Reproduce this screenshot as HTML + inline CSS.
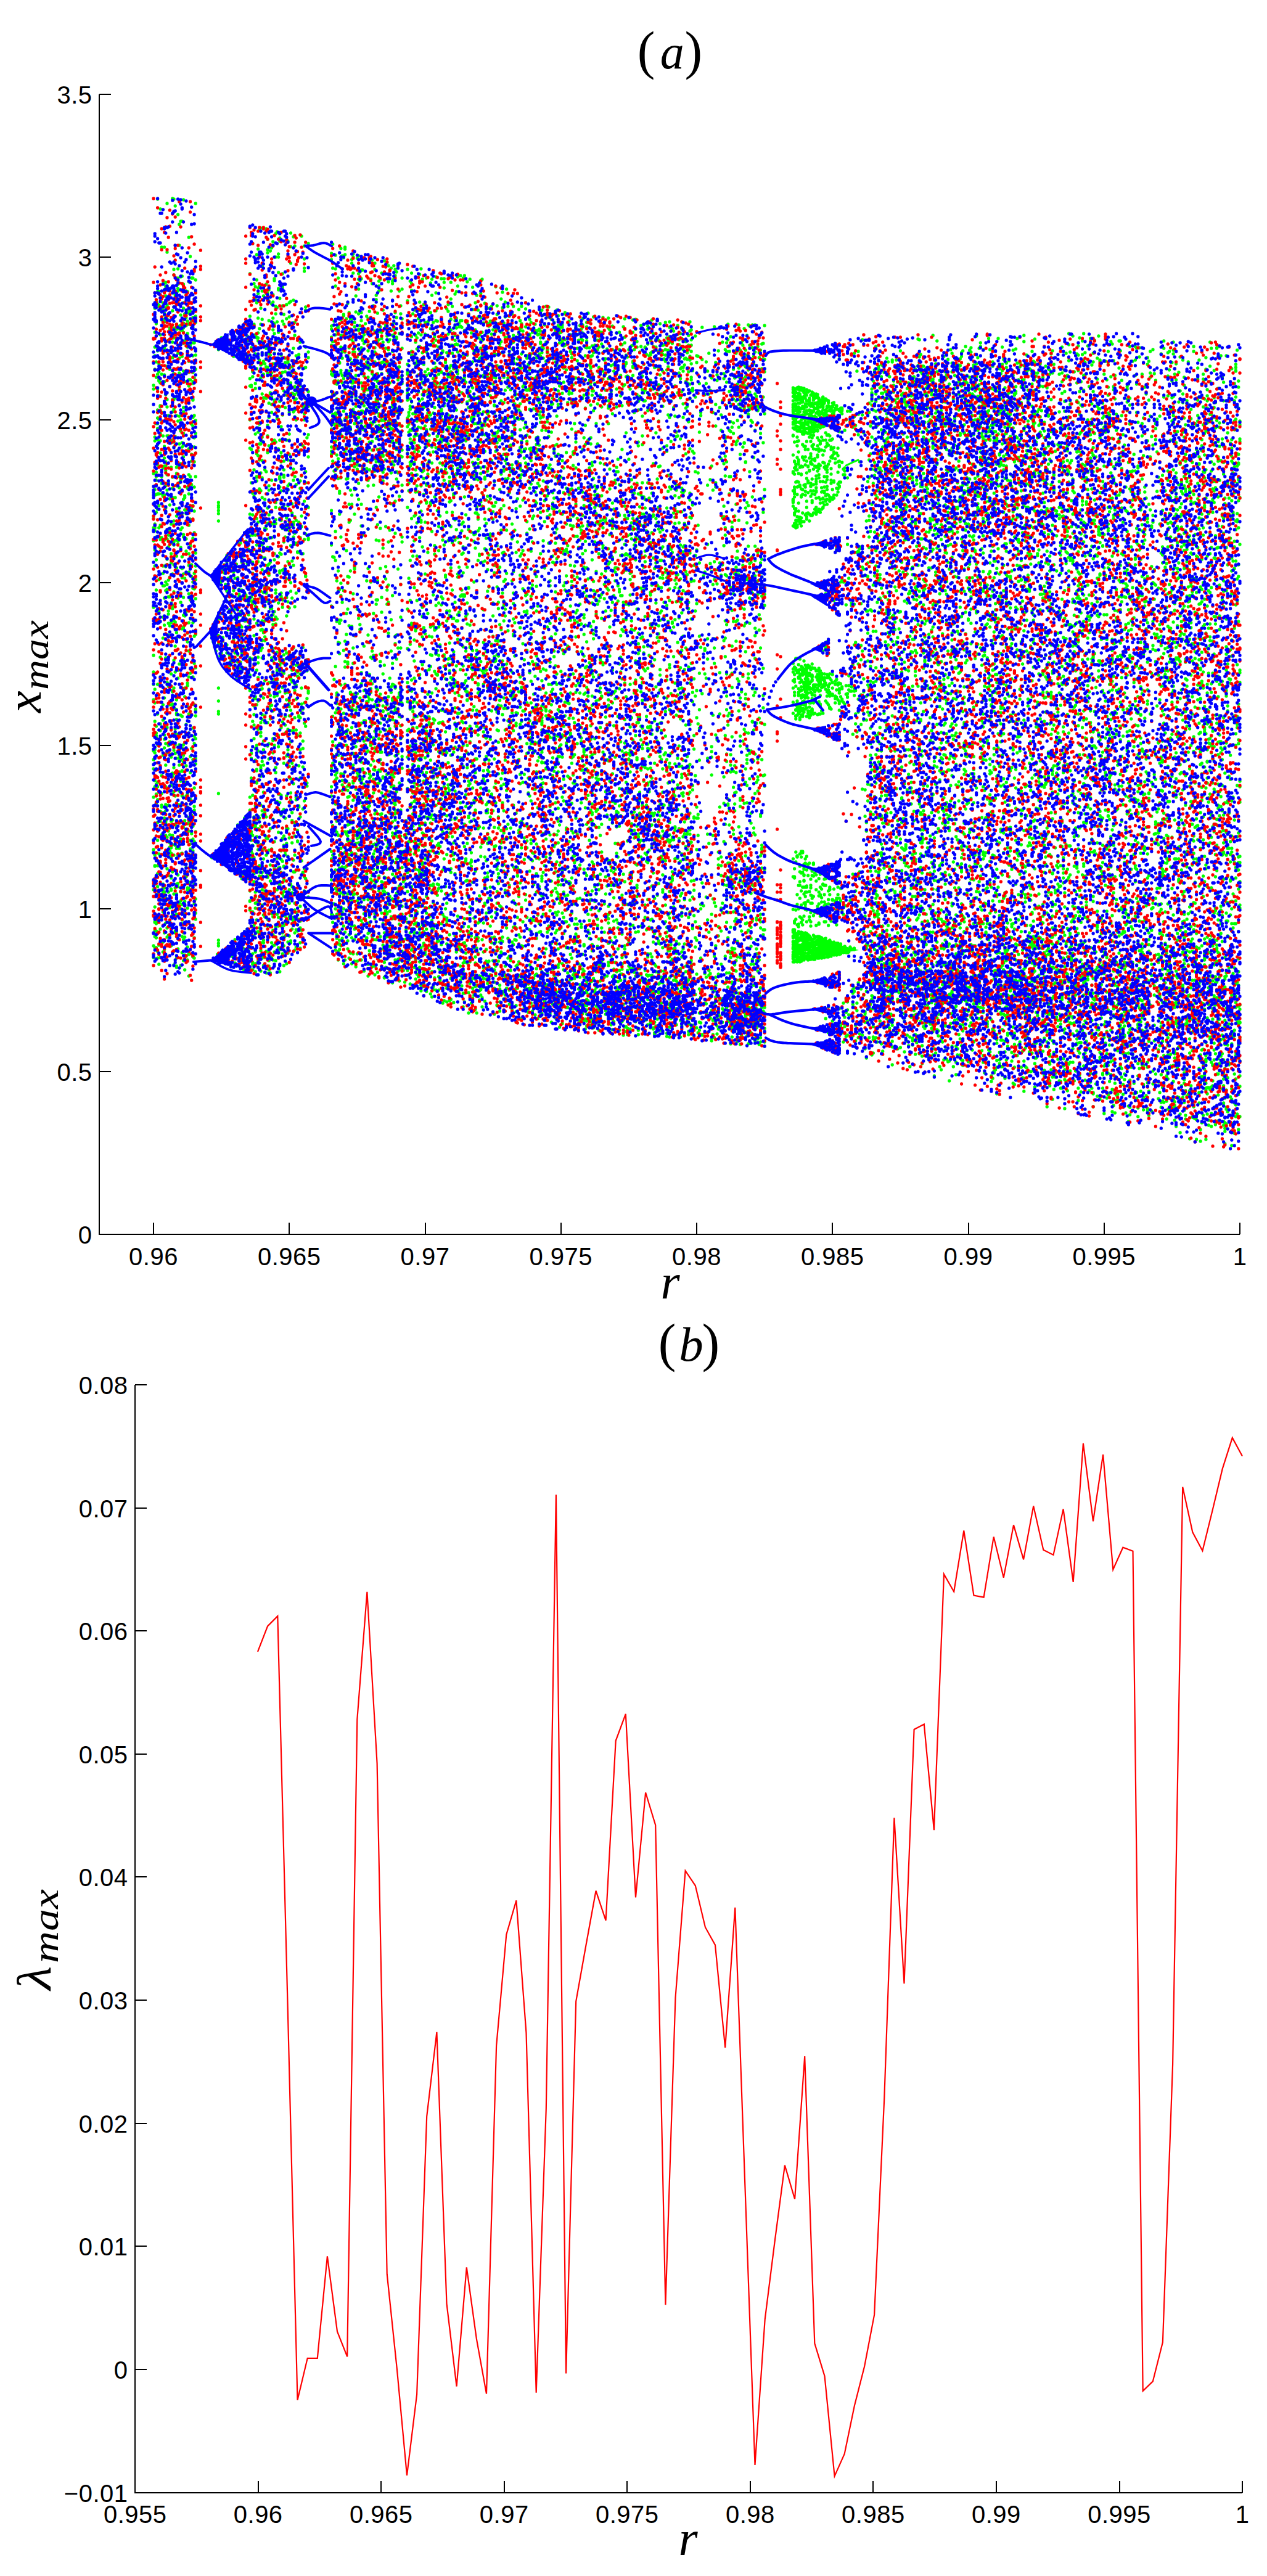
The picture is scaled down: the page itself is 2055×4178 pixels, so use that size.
<!DOCTYPE html>
<html><head><meta charset="utf-8"><title>Bifurcation diagram and maximal Lyapunov exponent</title>
<style>
html,body{margin:0;padding:0;background:#fff}
svg{display:block}
.t{font-family:"Liberation Sans",sans-serif;font-size:40px;letter-spacing:0.5px;fill:#000}
.m{font-family:"Liberation Serif",serif;font-size:86px;fill:#000}
.i{font-style:italic}
.ax{stroke:#000;stroke-width:2;fill:none;shape-rendering:crispEdges}
</style></head><body>
<svg width="2055" height="4178" viewBox="0 0 2055 4178">
<rect width="2055" height="4178" fill="#fff"/>
<defs><marker id="mr" markerWidth="6" markerHeight="6" refX="3" refY="3" markerUnits="userSpaceOnUse"><circle cx="3" cy="3" r="2.65" fill="#f00"/></marker><marker id="mg" markerWidth="6" markerHeight="6" refX="3" refY="3" markerUnits="userSpaceOnUse"><circle cx="3" cy="3" r="2.65" fill="#0f0"/></marker><marker id="mb" markerWidth="6" markerHeight="6" refX="3" refY="3" markerUnits="userSpaceOnUse"><circle cx="3" cy="3" r="2.65" fill="#00f"/></marker></defs>
<g fill="none" stroke="none">
<path d="M249 625v6v137v73v15v21v107v1v78v27v20v25v82v1v14v15v46v69v16v5v60v91v19M251.2 500v16v23v24v14v22v110v6v36v43v9v47v6v5v14v17v26v18v182v22v30v22v3v21v5v45v10v66v45v17v1v29v37v24v1v13v10v18M253.4 489v7v29v62v25v75v79v7v6v23v29v40v26v11v49v221v11v4v3v76v16v15v119v72v2v2v12v5v6v16v18M255.6 323v150v20v73v3v38v24v34v13v9v8v18v8v33v47v25v182v102v48v50v61v7v21v37v29v41v13v21v12v40v53v11M257.8 473v22v1v1v93v13v13v2v24v38v121v19v36v84v52v2v391v148v31M260 339v160v44v53v24v1v37v2v8v35v12v20v12v105v23v13v178v108v11v12v2v87v30v16v56v17v86v16v46M262.2 401v102v16v88v62v1v15v88v11v17v71v386v29v19v3v45v105v32v43M264.4 460v31v12v204v52v46v113v12v20v51v34v108v25v57v93v18v98v6v5v3v10v2v19v49v16M266.6 401v58v13v36v3v7v4v27v15v1v43v11v105v4v15v13v47v73v74v20v44v104v1v13v60v7v14v114v7v106v7v66v27M268.8 458v6v4v12v19v56v5v80v109v7v7v25v36v6v87v2v25v14v109v1v138v35v35v29v4v6v16v1v3v11v9v102v4v13v23M271 330v79v55v6v25v22v77v54v12v47v63v25v79v33v9v32v8v151v73v41v86v51v51v96v15M273.2 552v17v105v33v75v76v10v10v9v54v27v23v5v15v19v10v69v4v96v9v88v42v40v32v27v70M275.4 532v3v44v7v13v210v10v42v75v32v47v128v51v9v151v13v7v6v10v77v5v23v1v6v15M277.6 714v4v23v17v92v22v9v17v6v9v65v32v83v20v110v5v28v18v58v39v4v9v5v1v34v18v2v24v39v22v5M279.8 322v182v39v12v25v68v20v106v18v15v124v51v5v18v115v2v20v2v47v63v5v29v42v25v4v11v44v69v30v16v1M282 323v21v93v9v26v3v23v34v11v5v58v42v16v53v8v120v6v26v2v5v32v44v47v64v45v75v2v1v19v4v28v10v29v76v27v63v20v73v22M284.2 334v143v3v3v94v68v63v30v69v202v39v42v60v32v8v18v14v69v46v34v69v70v3M286.4 479v47v8v140v84v10v20v37v12v39v26v19v105v9v100v16v6v2v8v29v1v33v72v38v23v13v58v16v33v28v43v13v2M288.6 348v88v15v3v7v7v4v58v3v40v110v47v26v121v5v88v117v13v29v62v114v83v31v14v5v27v2v72M290.8 364v34v95v36v31v21v24v27v25v18v45v53v10v8v39v46v201v114v17v17v5v11v11v31v93v89v59M293.1 359v90v62v17v7v146v6v12v53v2v25v80v29v74v15v183v29v44v34v38v2v54v24v61v15v13v92M295.3 359v89v12v76v42v140v7v10v98v23v47v19v15v83v142v51v9v28v1v12v26v2v43v33v2v15v83v25v6v21v26M297.5 324v137v30v9v24v8v7v18v45v59v7v25v10v19v19v69v57v4v60v38v29v19v2v50v139v17v6v5v35v71v171v11v34M299.7 509v44v52v199v3v20v111v61v79v38v1v13v64v39v98v91v40v20v38v29v1v23M301.9 472v6v37v13v18v73v30v12v166v6v41v20v35v63v183v67v27v22v116v12v3v129M304.1 473v13v17v18v20v18v4v8v219v2v235v14v67v4v33v142v22v27v104v3v30v63v21M306.3 385v72v31v20v18v23v29v8v18v12v10v102v42v14v17v25v26v46v19v11v35v47v46v42v60v31v1v106v30v8v14v84v9v5v49v1v1v9v41v1v35M308.5 416v84v5v45v9v2v55v157v51v18v42v2v87v31v88v135v26v43v67v6v8v10v12v32v71M310.7 451v70v11v156v20v17v12v11v38v37v93v19v62v89v74v54v85v23v15v15v38v5M312.9 451v64v16v25v21v27v15v3v25v2v27v1v14v129v53v71v10v56v88v83v51v98v10v21v19v5v6v17v4v28v60v51v1M315.1 485v71v30v27v61v36v15v24v41v39v35v3v29v34v24v1v26v51v44v67v51v12v72v30v6v51v4v65v32v55v33M317.3 330v124v20v39v10v46v7v23v83v21v32v38v124v21v8v14v31v58v54v67v3v8v37v32v9v110v109v23v10M343.7 1034v357M345.9 1041v350M350.3 1049v7M352.5 1030v352v166M354.7 927v70v5v2v27v13M356.9 943v3v118M359.1 548v395v52v64v318v176M361.3 924v110v6v339v178M363.5 561v355v13v80v55v6v297M365.7 550v15v357v26v22v112M367.9 901v3v7v8v40v87v13v311M370.1 556v382v21v62v336v18v13v157M372.3 552v7v345v33v39v13v14v60v17v277M374.5 994v78v293M376.7 965v101v8v291v4v1v166v15M378.9 566v12v344v2v4v30v10v70v30v336v125M381.1 565v5v368v50v16v41v14v23v285v157v15v4v19M383.4 537v13v365v72v28v34v4v38v11M385.6 564v373v64v17v31v1v12v12v264v201M387.8 558v5v320v17v2v54v8v4v40v23v53v277v7v39v115v15M390 532v9v340v91v20v4v2v17v59v267v21v54M392.2 553v357v2v45v60v14v11v17v27v339v96v21M394.4 551v32v319v12v57v59v24v29v253v48v34v109v1v10v20v14M396.6 576v369v3v13v39v7v43v277v85v3v96v33v29M398.8 523v62v293v87v39v3v98v230v47M401 527v18v8v8v13v340v55v37v356v8v137M403.2 582v6v272v31v19v2v60v6v19v19v55v1v41v222v4v22v64v113v13M405.4 444v69v101v12v55v46v107v35v102v96v11v17v25v173v21v47v84v16v1v14v95M407.6 531v33v27v34v2v102v54v173v12v7v247v8v32v87v4v10v18v11v21v76v6v8v34v17M409.8 395v174v32v2v8v189v35v32v1v26v18v18v17v5v27v90v101v120v51v14v16v1v13v94v68v14v3v9M412 460v66v2v234v43v137v16v5v9v4v28v27v102v12v14v17v22v127v2v5v59v24v2v13v1v70v17M414.2 465v21v57v31v48v8v74v164v115v5v142v3v81v19v2v72v22v9v3v58v13v35v8v10v8v67v4v19v13M416.4 413v41v37v56v1v18v32v45v93v37v1v6v61v43v59v7v61v76v56v66v39v2v18v2v87v10v78v19v28v20M418.6 404v63v9v40v24v8v5v23v118v7v30v8v58v50v64v78v60v17v9v24v38v46v35v106v5v15v22v12v87v9v37v48v10M420.8 373v91v69v24v27v2v43v56v3v32v26v24v23v5v32v115v235v123v24v77v10v7v84v8v38M423 500v26v64v2v21v96v5v6v47v29v88v75v9v1v53v33v63v10v44v16v6v48v4v13v47v34v30v144v15v13v33M425.2 370v62v40v46v36v20v16v19v30v70v7v31v28v32v76v11v10v20v51v32v14v17v1v12v16v44v6v42v8v68v80v7v31v52v10v6v3v19v14v11v86M427.4 480v106v21v38v5v226v85v62v3v106v70v14v25v44v24v12v29v27v16v16v29v12v5v29v41v4v21v16M429.6 590v32v140v48v24v23v48v2v44v8v25v23v26v6v65v57v8v3v141v5v3v124v42v66M431.8 371v90v15v89v10v20v1v48v2v119v93v103v1v13v274v22v54v32v2v28v156v35M434 388v17v5v65v121v9v85v17v27v90v25v39v29v28v8v1v21v197v38v150v23v35v5v27v41v11M436.2 470v18v32v53v81v23v46v65v7v40v13v25v42v10v8v68v106v11v88v25v148v165v2v12v9v6M438.4 407v150v2v17v16v9v36v2v210v63v75v120v21v8v9v5v16v117v41v20v59v26v123v26M440.6 402v91v112v6v33v12v13v52v58v70v23v115v16v48v16v77v233v40v65v47v25M442.8 392v86v12v26v7v12v55v8v118v1v133v147v9v7v39v5v15v21v9v51v45v3v20v108v158v22v7v18v23M445 452v3v70v16v32v17v59v4v61v184v10v11v56v17v138v79v156v44v37v21v52v14v11M447.2 379v38v80v12v101v60v47v62v36v8v20v6v94v14v5v39v11v180v53v8v248v3v16v38M449.4 376v123v23v87v70v325v54v26v4v15v11v10v4v172v92v51v40M451.6 412v5v25v26v2v69v13v38v3v87v48v175v75v215v12v6v77v24v38v58v80v10v4v35v8v1M453.8 386v5v93v70v37v22v38v9v54v59v2v2v13v34v17v56v29v3v137v6v7v9v34v36v130v14v105v27v2v1v63v40v36M456 389v186v1v30v86v42v6v9v47v16v32v55v63v5v2v2v104v105v110v32v58v14v21v87v38M458.2 444v19v3v30v25v83v69v68v113v3v68v47v1v12v103v1v26v56v145v44v1v36v53v63v7v27v4M460.4 510v16v21v87v114v14v9v3v46v59v44v139v8v6v16v146v75v43v15v6v28v1v21v2v17v8v47v33v32M462.6 581v7v7v8v58v210v183v70v38v14v13v138v54v5v100v10v22v26M464.8 494v23v124v73v126v15v4v80v30v30v60v76v91v65v52v25v31v118v46M467 391v194v3v32v13v113v42v7v25v91v65v147v60v33v7v14v107v45v60v10v33v36v18M469.2 491v23v10v68v6v27v44v35v10v23v48v61v15v55v17v53v72v5v33v44v6v15v66v16v18v63v35v84v13v9v22v31M471.5 378v22v27v62v132v132v132v60v14v110v31v2v50v33v18v60v23v12v136v50v42v3M473.7 595v10v33v179v15v22v56v60v83v10v18v6v16v3v132v80v13v36v71v10v1v39v3v16M475.9 384v103v37v41v74v29v78v15v18v68v2v2v20v46v134v134v59v6v21v124v19v28v52v1M478.1 399v124v21v60v23v1v12v9v16v11v97v65v27v119v83v42v5v6v44v170v22v31v27v51v11v15v5v17v28M480.3 577v44v13v13v34v105v29v29v37v2v79v117v9v23v23v50v109v4v40v143v10v18v28M482.5 582v37v18v258v1v194v7v96v101v53v17v1v46v24v75M484.7 575v42v24v206v232v2v18v62v2v79v65v2v182M486.9 555v40v21v10v8v9v87v50v12v65v15v25v163v19v14v71v25v27v46v63v65v63v17v24v11v24v9M489.1 383v389v24v41v17v210v52v26v6v8v217v23v23v90M491.3 660v63v175v152v31v69v52v12v30v68v103v1M493.5 399v21v15v5v157v61v5v8v10v132v62v265v33v126v110v13v23M495.7 498v5v60v33v51v118v18v83v68v1v243v247v49M497.9 710v111v249v7v11v28v17v137v5v172M500.1 395v176v9v55v16v1v7v46v36v82v50v2v246v3v331M537.5 411v10v108v5v13v4v9v42v5v39v42v8v29v7v5v91v56v99v263v30v15v90v12v19v8v7v19v37M539.7 396v39v93v26v55v27v1v2v25v8v8v21v1v14v32v155v259v10v31v22v4v9v101v48v29v50v18v12M541.9 521v85v12v70v29v47v140v198v199v45v120M544.1 414v22v28v79v11v7v45v12v4v17v31v4v16v3v23v54v3v89v47v172v75v54v47v8v39v43v64v30v33v15v46v6M546.3 532v5v86v24v5v19v8v9v39v11v22v182v66v116v4v13v10v62v10v27v3v9v58v12v18v14v77v5v1v36v33v6M548.5 451v77v4v86v47v47v32v32v150v33v83v106v1v23v12v41v129v1v60v18v49v2v47v12v14M550.7 588v1v81v9v11v16v2v89v3v34v122v50v5v32v17v119v27v31v150v7v6v8v13v30v59v15v6v9M552.9 403v14v102v25v19v38v4v13v42v22v3v20v70v96v75v20v40v105v39v39v53v13v121v8v26v38v23v3v13v47M555.1 415v153v3v10v28v12v33v42v41v240v190v10v50v39v7v9v103v21v74v42M557.4 418v92v2v32v20v50v53v73v218v97v83v19v41v57v25v171v12v11v9v19v61M559.6 401v3v9v131v27v60v25v23v10v21v23v307v33v9v28v77v91v47v24v23v10v1v24v105v45M561.8 517v18v43v78v23v10v14v20v2v3v49v116v102v34v161v19v58v86v26v26v71M564 492v85v34v29v36v100v159v11v42v86v3v107v91v7v11v12v33v11v7v6v2v22v6v58v76v13M566.2 507v39v18v38v6v68v22v120v29v89v79v130v126v21v45v49v9v8v59v10v5v17v22v38M568.4 517v20v45v61v50v4v7v25v10v8v8v40v49v82v197v2v63v37v52v37v17v16v17v3v33v1v2v68v8v67v10M570.6 421v6v90v34v37v28v5v7v13v25v6v72v59v15v198v120v12v14v18v64v91v13v1v34v4v8v64v43v19v42M572.8 412v5v26v112v16v2v45v3v43v2v7v74v216v88v25v50v7v7v11v55v16v1v18v6v6v14v3v28v138v9v6v96M575 523v7v13v22v6v21v43v35v17v33v12v12v13v37v40v86v3v108v98v4v117v43v54v8v70v25v52v5v17v35M577.2 480v26v79v3v21v36v3v11v70v410v13v7v52v13v39v17v12v76v17v3v35v11v72v11v51M579.4 419v160v11v88v8v36v32v7v227v137v22v55v23v29v6v89v11v16v25v10v1v38v11v86v12M581.6 415v29v9v16v40v25v2v61v71v9v19v1v20v11v26v30v26v193v174v79v91v20v55v34M583.8 441v14v49v24v41v100v43v33v268v8v111v13v38v15v31v37v34v2v42v10v4v18v1v24v30v38v2M586 438v14v55v13v44v20v9v8v20v26v6v14v19v5v53v74v35v238v18v64v63v25v6v63v50v15v59v2v37v64M588.2 438v92v17v4v1v76v3v36v26v3v34v3v5v22v108v279v51v13v36v2v14v45v79v7v32v72v5M590.4 538v1v4v14v53v18v8v7v9v6v11v10v18v351v72v49v23v10v36v34v17v22v32v49v5v6v5v51v12v11v93M592.6 525v10v111v37v8v74v364v40v39v46v119v66v52v34v7v3M594.8 513v74v5v2v2v36v31v97v182v196v8v51v23v14v53v7v6v3v35v79v32v29v43v1M597 517v24v19v9v29v14v20v9v87v19v1v31v9v70v64v75v33v12v88v8v80v51v40v4v34v63v26v5v18v38v17v50v19M599.2 505v37v51v4v3v29v88v45v332v40v46v19v56v7v45v101v46v30v3v10v15v30v6M601.4 453v130v103v258v23v99v38v13v6v48v35v3v32v18v35v72v1v59v6v132M603.6 422v38v73v69v3v1v64v18v17v11v14v36v290v12v41v26v40v125v57v63v9v13v20v57v49M605.8 496v59v54v87v2v59v7v23v208v68v134v4v33v14v16v22v46v38v15v5v20v49v53v2v10v26M608 427v10v100v27v7v16v5v24v39v15v13v1v16v44v18v2v379v30v13v27v6v30v16v6v49v39v10v11v49v5v22v26v5v3v76v1v14M610.2 479v7v89v52v20v3v10v31v20v38v74v53v97v7v136v31v169v58v28v54v14v12v42M612.4 508v47v51v12v1v13v17v3v12v29v36v122v91v31v146v31v84v22v15v94v5v40v18v30v119M614.6 456v8v8v66v13v31v52v37v4v15v10v31v16v1v1v57v71v261v60v51v15v6v130v21v24v112M616.8 453v70v7v60v47v91v11v15v8v95v65v139v12v7v46v6v41v14v29v4v12v19v14v56v23v47v3v2v123M619 443v96v10v12v27v18v52v23v1v17v48v7v1v214v24v172v43v12v19v47v34v14v96v7v13v31M621.2 503v52v32v30v86v35v2v26v14v109v204v42v10v8v1v106v2v17v121v45v13v40v35v6M623.4 423v199v53v2v5v79v318v86v169v49v25v15v9v8v6v4v22v9v32v7v41v24v1M625.6 527v3v35v19v1v5v86v17v53v108v65v20v245v108v2v29v39v62v53v2v7v34v36v13v1M627.8 426v97v5v17v143v46v4v190v29v23v163v8v56v5v44v45v36v9v2v1v25v36v39v31v2v37v24v5M630 431v26v95v2v13v7v15v12v3v8v3v68v196v70v28v3v47v103v28v9v57v145v63v23v11M632.2 551v58v3v9v26v21v13v8v1v6v42v122v240v82v41v61v28v7v66v4v39v26v6v7v11v22v35v11v5v24v17M634.4 435v37v118v55v41v9v22v19v31v50v188v51v58v9v32v96v6v12v7v43v168v36v5M636.6 456v4v84v26v17v62v7v4v12v13v11v19v34v217v110v34v23v3v19v12v85v4v39v28v10v18v5v39v23v25v15v2v30v29v15v60M638.8 431v22v71v8v3v8v8v86v15v72v2v28v34v2v321v25v59v55v10v15v28v71v4v34M641 437v10v60v131v10v15v6v144v52v167v12v69v3v25v7v4v17v9v48v74v5v9v5v1v10v11v12v46v23v48v19v68M643.2 441v74v32v2v88v10v16v23v31v9v3v36v12v253v39v67v71v77v64v8v10v27v5v43v8v10v54v16M645.5 434v162v20v53v19v22v38v19v156v128v80v91v77v59v34v17v1v13v38v27v30v10v6v22v6v13M647.7 472v69v54v73v34v7v2v4v2v88v319v2v36v108v87v80v48v4v10v56v18v18M649.9 496v13v73v30v39v17v23v37v12v208v53v50v67v14v5v1v25v14v21v116v42v25v82v65M652.1 451v18v48v48v45v12v13v1v94v11v46v84v8v262v54v32v19v140v21v63v13v60v16v12M654.3 1381v41v8v9v85v50M656.5 1357v64v6v33v86v47M658.7 1331v22v5v20v28v62v22v18v15v26M660.9 437v51v37v66v13v3v17v7v7v11v29v14v43v88v165v64v55v31v47v18v25v51v88v42v6v7v24v50v59v7v12v8M663.1 669v5v14v13v83v12v142v182v63v35v31v1v16v99v30v158v4M665.3 456v67v124v12v4v1v33v15v6v8v15v9v5v1v153v65v60v11v105v60v100v32v23v16v92v12v11v17v13v4v66M667.5 443v17v11v75v24v6v76v46v70v73v170v2v90v18v148v13v21v6v45v84v5v9v89v11v10M669.7 509v94v31v37v45v36v24v126v237v9v6v26v38v22v9v37v34v20v116v50v32v12M671.9 503v74v56v59v16v10v15v17v87v40v76v85v34v28v36v27v107v6v24v47v18v11v9v19v85v10v10v5v30v25M674.1 544v11v37v75v4v57v34v36v37v185v3v184v14v31v31v14v69v44v12v59v17v55v2v4v29M676.3 529v19v18v20v3v3v31v60v21v2v64v18v60v54v72v166v22v18v79v25v86v90v19v18v24v52v7M678.5 517v23v51v17v28v57v30v9v66v140v78v79v123v14v11v31v25v75v5v32v13v35v12v113M680.7 445v45v13v20v39v61v3v2v22v29v30v2v2v13v90v23v33v176v46v6v133v33v58v15v30v45v1v4v9v76v9v3v8v36v9v8M682.9 436v107v65v6v65v15v18v76v41v15v3v14v314v2v51v53v142v114v61v9M685.1 453v52v1v66v48v20v7v14v23v51v18v12v122v98v15v33v45v43v67v65v84v14v40v8v3v14v3v24v24v33v18M687.3 494v71v26v30v2v10v23v1v4v102v13v26v216v1v142v24v19v14v28v21v26v11v1v8v40v19v35v8v5v40v1v35v6v9v19v4v42v1v5v14v4M689.5 523v3v16v22v39v88v12v144v84v97v138v14v49v14v25v39v6v12v10v22v14v22v14v19v46v68v4v4v15v23M691.7 451v120v38v72v16v3v24v61v2v27v2v163v109v98v5v5v3v20v34v9v6v19v100v41v26v27v26v10v1v82v8M693.9 522v2v75v34v7v16v9v5v5v3v41v33v17v127v99v131v37v59v49v13v12v30v63v2v146v38v3M696.1 580v26v25v9v4v25v10v1v26v9v19v13v165v3v117v54v54v23v9v3v105v101v91v15M698.3 459v48v26v27v113v23v92v27v4v198v45v19v95v22v19v16v12v81v9v23v10v68v62v17v5v3v3v35v2v49M700.5 453v26v176v31v39v26v111v171v30v61v125v59v14v42v16v65v40v8v12v1v32v38v41M702.7 440v83v17v16v43v15v7v1v12v5v31v63v232v50v151v7v35v45v9v39v28v105v3v27v43v28v10v18v37v5M704.9 546v43v72v10v23v4v15v93v79v14v120v3v67v79v154v61v165v38M707.1 449v26v29v16v32v9v35v14v9v5v75v15v12v221v35v37v1v40v1v32v24v85v45v48v11v194v106M709.3 521v163v23v1v19v34v18v15v34v227v39v1v165v9v18v84v39v24v11v7v75M711.5 563v17v27v21v19v120v61v26v39v54v31v39v46v110v46v63v17v69v3v13v51v6v85v33v11v14v22M713.7 576v46v17v75v37v61v3v22v176v33v126v35v39v127v145v55v15v2M715.9 452v95v56v1v60v3v8v36v3v3v12v33v25v11v170v13v171v87v57v14v14v121v53v25v9v22v14M718.1 569v2v75v3v32v18v1v9v2v43v101v21v95v200v2v44v3v3v66v60v62v72v85v9v18v9v23M720.3 452v6v9v127v30v4v30v32v78v11v105v178v4v15v72v104v19v36v9v21v18v33v94v87v2v47M722.5 585v3v42v5v108v11v7v141v31v3v145v20v86v31v66v4v121v29v12v24v87v19v18M724.7 501v71v35v20v22v23v44v51v64v160v16v197v17v43v32v27v63v79v24v4v5v33v72v22M726.9 494v11v37v35v34v62v11v9v2v25v31v126v192v8v160v36v5v8v58v13M729.1 597v8v17v8v9v55v37v26v1v16v7v4v29v177v7v45v25v10v10v20v174v22v5v42v165v64v43M731.3 458v27v33v17v25v33v10v9v33v36v58v7v66v42v67v178v126v96v8v16v64v6v35v82v55v34M733.5 497v63v13v71v13v77v22v5v28v42v49v77v46v72v25v2v49v63v54v6v25v58v25v5M735.8 540v58v13v10v30v53v2v64v3v28v3v199v54v57v106v38v38v71v19v8v171v61M738 477v43v9v15v8v7v53v5v5v22v53v14v20v112v33v101v48v64v15v4v5v11v24v25v39v1v70v7v39v88v28v73v82M740.2 473v43v16v26v36v50v5v16v23v6v9v19v46v2v89v148v73v29v74v73v7v64v211v6v38M742.4 449v15v95v12v30v5v26v63v17v1v47v28v84v59v5v61v10v30v72v48v187v142v91M744.6 524v6v171v53v126v40v13v60v50v72v13v29v57v58v41v81v14v99v19v6v3v4v67v5M746.8 447v73v9v154v26v8v10v17v223v119v143v73v15v193v29v2v26v23v3M749 520v11v84v22v15v43v14v7v44v90v11v38v58v8v205v230v177v8v14M751.2 451v125v24v88v46v24v29v60v40v10v32v36v2v82v31v92v37v20v14v260v27v32v13v36v22M753.4 447v89v1v65v10v5v95v94v159v2v141v152v77v36v26v91v39v27v5v24v26v14M755.6 620v65v13v3v14v37v39v2v42v165v56v38v10v12v5v42v118v8v19v85v3v33v105v12M757.8 457v67v52v76v50v63v108v47v58v18v16v28v25v57v2v11v1v46v27v12v24v123v60v24v27v83M760 509v21v65v39v9v18v47v151v50v44v1v173v140v7v50v2v28v102v47v8v2v97v33M762.2 453v182v14v74v8v283v31v5v18v110v25v68v62v19v48v59v12v12v77v28v7v41M764.4 540v77v44v17v4v89v17v21v54v145v70v6v49v56v5v112v77v12v3v7v113v71v38M766.6 466v36v20v65v42v47v7v67v22v283v31v9v7v50v86v40v153v150v6v16v16M768.8 560v9v51v24v31v12v68v16v96v11v66v202v40v24v88v31v160v49v38v32v1v5M771 491v44v1v25v10v193v13v55v34v23v110v67v19v10v136v22v15v31v15v4v95v108v31v10v20v6v12v37M773.2 479v23v76v41v36v15v17v8v127v10v223v13v84v9v17v53v103v126v58v2v18v60v45M775.4 462v41v11v34v37v22v19v18v70v31v7v26v57v7v19v48v168v32v2v13v68v150v2v153v24v5v20v53M777.6 543v39v49v17v3v19v17v17v115v38v42v2v185v34v9v52v63v46v2v49v112v42v64v24v15v9v15M779.8 455v21v39v25v11v14v15v55v13v38v8v23v42v9v46v207v52v205v18v78v15v70v144v2v9M782 453v86v13v19v6v78v33v7v5v5v26v69v21v91v176v211v69v156v59v35v15M784.2 524v85v2v57v321v53v20v30v18v77v63v13v80v63v91v47v26v17v14M786.4 492v25v44v13v29v77v5v5v15v27v25v17v3v17v48v48v20v177v93v15v38v5v30v91v4v27v34v14v27v3v94v16v2v44M788.6 572v10v27v202v38v24v20v152v12v30v6v104v30v78v13v78v45v40v8v51v19v11v18v40M790.8 500v25v14v1v54v18v15v44v9v32v52v41v119v35v116v40v134v53v11v5v34v16v48v6v140v26v7v10M793 525v4v20v44v24v4v14v33v47v111v74v52v281v19v31v76v4v94v19v83v33M795.2 499v22v85v36v9v68v51v39v57v4v21v132v60v116v18v108v38v76v19v44v79M797.4 497v25v20v6v43v125v31v298v27v81v135v2v13v184v34v8v42v11v17M799.6 535v77v11v83v115v9v12v136v21v33v283v101v142v15v1M801.8 522v51v59v25v1v12v45v66v40v72v24v12v136v8v158v46v65v31v12v135v11v11v18v13v20v10v42M804 465v65v2v6v63v12v26v5v58v6v7v17v83v102v122v30v3v53v25v120v32v70v31v77v48v39v11v4M806.2 496v14v24v41v18v88v21v16v7v18v142v67v110v92v1v29v211v10v5v36v19v147v18v1M808.4 525v174v11v213v54v10v52v1v24v39v14v27v41v19v51v70v18v74v6v10v106v13v7v47v9M810.6 558v5v10v22v70v49v80v126v93v35v37v28v23v202v131v59v23v47v6v21v15M812.8 467v18v54v15v10v34v21v31v32v28v59v56v35v161v53v71v118v12v72v16v4v8v96v54v19v4M815 474v25v73v107v218v65v110v9v78v95v48v7v95v25v91v7v56v28M817.2 524v88v41v31v53v25v2v56v76v47v32v7v25v125v17v123v43v36v51v11v195v12M819.4 490v24v33v86v80v15v19v30v123v40v48v11v115v70v39v10v128v83v123v14v3v30M821.6 469v59v75v94v13v26v4v1v11v9v99v70v147v24v48v52v71v10v62v75v33v37v16v82v16v20M823.9 497v37v13v66v4v11v50v33v65v247v146v124v44v22v89v45v29v32v37M826.1 513v62v21v113v1v89v102v276v46v213v115v55v23M828.3 632v90v4v39v25v331v8v214v83v115v17v16M830.5 509v41v6v10v18v67v51v5v47v6v18v72v24v68v148v43v23v13v44v116v199v69v32v8M832.7 497v47v11v10v2v9v6v4v14v14v61v14v72v166v35v17v25v25v2v92v5v57v121v100v55v43v28M834.9 641v14v24v16v19v52v94v150v54v345v94v21v81M837.1 590v17v6v26v7v15v164v71v260v17v4v142v78v35v35v38v20v42v20v16v28v10M839.3 582v96v1v70v60v70v278v82v168v13v1v67v77v20v18v38M841.5 502v40v55v68v15v76v366v110v115v4v35v25v30v13v62v44v22v37M843.7 520v12v4v81v38v13v29v29v3v10v13v7v2v14v46v81v31v85v80v9v40v28v23v58v15v63v9v10v79v88v63M845.9 497v28v5v1v43v23v42v77v17v30v7v128v102v115v55v162v43v97v62v80v38M848.1 537v22v68v19v35v130v82v62v89v109v116v67v159v40v52M850.3 624v18v52v15v20v14v249v78v32v51v103v103v35v184v4v13v32v7M852.5 491v10v29v47v19v18v18v56v40v23v215v162v39v209v75v9v96v44v4v11M854.7 553v4v1v19v4v21v31v73v10v39v3v88v19v1v54v44v11v16v4v60v85v1v65v16v118v24v11v113v86v30M856.9 548v3v40v1v40v17v131v482v24v310v8v15v17v5v1M859.1 518v24v3v32v1v22v30v3v13v18v64v64v66v186v33v14v78v20v23v4v75v101v21v95v57v16v11v11v1v4M861.3 523v40v11v39v87v27v5v15v38v109v60v13v61v16v22v39v35v15v32v9v5v5v93v21v42v6v122v1v115v21M863.5 539v87v3v150v62v38v70v37v87v101v209v13v96v1v139v8v15M865.7 663v174v289v80v12v3v31v28v104v51v152v11M867.9 526v10v38v40v78v74v32v15v113v151v20v50v3v54v76v213v89v24v25v15M870.1 540v40v31v55v44v4v7v12v8v75v119v16v40v50v23v13v3v67v105v117v23v25v30v67v8v49v9v17v19v10M872.3 536v7v78v3v21v64v20v36v19v199v101v72v13v36v29v76v174v72v54v9v1v1v13v18M874.5 499v35v8v32v28v9v42v20v41v8v66v414v26v33v114v18v45v60v14v27v53M876.7 505v32v11v7v2v21v90v10v7v45v40v61v67v191v29v183v48v101v61v57v78v2M878.9 503v60v2v7v104v22v102v251v53v41v7v12v5v3v3v9v16v16v4v16v1v26v8v6v144v4v4v24v123v44v12v12M881.1 511v54v16v95v104v97v158v50v144v41v40v29v13v63v37v31v113v11v5v22M883.3 527v103v61v19v102v34v75v226v90v86v3v78v142v58v20v28M885.5 497v58v31v53v59v97v10v269v13v14v23v27v2v8v85v1v44v70v29v51v98v60v6v3v19v28M887.7 512v55v3v2v112v106v14v24v10v179v148v25v56v84v182v67v2v16v34M889.9 498v11v5v91v44v59v51v122v229v70v1v11v310v6M892.1 754v81v107v8v61v63v58v4v17v1v42v24v80v8v46v32v12v79v140v27M894.3 518v63v28v47v45v60v272v77v12v21v23v216v47v23v78v63v1v64M896.5 569v13v32v32v9v110v34v17v6v3v77v10v206v46v33v16v16v29v9v51v127v127v21v36M898.7 523v9v82v17v92v6v4v75v17v88v143v9v186v12v11v79v20v31v12v47v118v1v41v7M900.9 536v51v153v34v90v17v13v66v68v52v27v24v35v27v6v15v30v58v67v45v27v39v33v16v57v9v50v6M903.1 503v30v12v32v14v6v15v63v46v50v87v48v79v108v17v185v59v44v49v37v25v22v59v7v12v7v12v4M905.3 512v16v52v54v22v4v77v11v31v3v369v22v21v33v10v15v59v17v4v16v19v55v6v7v15v5v24v60v26v4v49v10M907.5 529v1v4v6v16v64v6v21v127v55v64v93v18v150v57v16v111v47v18v55v7v42v54v31v13v2v29v30M909.8 539v11v28v196v116v199v21v15v10v73v227v70M912 527v4v23v3v81v109v87v162v58v138v3v33v50v15v119v8v61v82v27v3v12v17v11v27M914.2 561v22v10v4v23v139v40v94v5v52v110v118v86v35v148v41v26v59M916.4 507v2v42v9v317v68v12v182v22v249v17v26v42v123M918.6 558v42v65v69v58v58v41v3v40v119v80v64v8v4v95v39v3v62v23v45v19v34v7v1v24v57v16v15M920.8 653v188v44v11v67v85v91v1v119v148v45v126v14v22v20M923 521v114v4v160v3v156v140v43v24v37v59v104v65v33v38v37v87v2M925.2 543v27v224v48v10v51v14v66v23v118v25v40v3v20v166v54v5v111v37v2v1v1v8M927.4 574v6v32v6v20v13v45v90v7v150v7v266v13v9v65v44v77v57v73v20v13v1v14v18v4v7M929.6 612v12v25v9v75v4v18v82v16v1v80v159v72v62v30v13v81v19v19v54v81v57v15v31v4v5M931.8 546v105v36v45v78v24v36v48v88v166v52v42v118v4v11v67v33v31v39v8v7v3v65M934 531v3v10v52v17v88v16v42v59v176v39v79v11v149v55v68v95v25v11v1v69M936.2 565v20v70v186v29v66v54v19v48v149v147v55v50v41v20v2v58v60M938.4 542v10v50v1v189v96v220v441v14v13v28v20v7M940.6 514v14v8v29v25v265v21v104v33v69v42v53v14v155v57v54v128v12v34v9v14v3v2M942.8 534v16v55v255v5v147v45v140v6v27v19v53v197v5v61v46v1v17M945 517v10v3v10v12v62v32v83v69v38v17v45v351v89v122v7v81v24v6v1v25v4v6v15v6v9M947.2 619v22v69v100v10v100v3v28v2v8v36v5v27v35v34v28v58v31v3v2v5v16v24v145v122v2v41v9v46v1v24M949.4 562v1v14v56v29v28v31v157v15v121v69v41v19v45v61v61v106v33v137v44v8v15v16M951.6 523v7v18v5v11v357v46v74v40v34v32v33v46v21v20v29v41v83v172v6v9v3v11v5v5v7v7v11v8M953.8 508v98v4v30v74v137v2v86v190v71v52v38v193v26v88v26v1v2M956 521v43v28v19v6v142v31v23v13v47v202v78v13v48v24v94v11v20v88v12v30v21v8v75v4v12v40v10M958.2 578v17v2v24v5v31v53v10v44v4v35v10v5v198v70v64v27v22v9v19v87v145v16v103v14v71M960.4 561v16v29v10v18v7v109v5v57v96v70v88v23v4v36v15v80v36v27v17v14v3v10v5v62v47v55v32v10v49v45v2v15v5M962.6 514v58v39v23v32v110v59v108v15v50v20v8v62v54v98v24v128v17v3v165v32v48M964.8 560v62v166v15v20v47v9v91v52v176v24v117v99v24v103v1v40v4v31v19M967 543v2v142v106v40v15v13v66v33v36v141v125v9v45v134v126v26v30M969.2 541v11v15v88v65v82v61v117v206v71v10v46v108v70v10v34v2v62v26v13v10v7M971.4 537v26v33v8v216v29v1v48v77v120v40v108v21v78v92v9v34v46v41v70v28v9M973.6 550v91v110v94v124v101v46v7v57v175v63v119v29v25v15v35M975.8 539v19v102v130v14v14v3v110v33v39v71v55v2v121v24v61v45v9v114v43v11v53v19M978 515v48v9v30v13v228v13v29v4v186v3v142v390v23M980.2 582v2v23v44v102v195v23v254v8v5v228v46v70v3v30v4v6M982.4 582v10v15v26v188v20v5v80v65v55v117v121v17v107v14v28v189v6M984.6 566v388v96v97v4v24v57v26v2v62v115v47v3v96M986.8 516v16v70v12v9v27v8v4v25v136v67v25v26v16v167v11v9v90v162v4v20v50v13v7v7v33v31v5v77v10M989 535v76v150v32v33v41v45v87v18v47v203v17v45v67v84v26v105v12v20v17M991.2 593v42v214v141v120v17v97v182v6v24v7v83v25v49v10v7v11v12v22M993.4 529v38v58v46v111v34v26v15v12v35v4v69v110v53v115v45v35v98v101v26v24v49v11v5v4v7v10M995.6 591v11v224v26v73v41v158v53v122v1v115v41v38v11v67v10v63v1v11M997.9 593v2v11v173v5v111v26v7v14v179v12v95v43v32v65v32v10v26v84v41v30v40v18M1000.1 540v91v29v98v7v69v23v64v395v3v8v14v43v108v82v2v25v6v20M1002.3 595v150v20v48v65v44v28v25v187v46v40v70v7v43v1v21v107v8v34v53v13M1004.5 539v28v45v1v173v49v1v120v4v117v40v82v80v28v33v87v147v29v68M1006.7 559v50v27v6v145v114v65v44v21v35v24v113v88v32v176v81v10v9v14v4v24M1008.9 549v10v99v71v82v63v26v66v55v80v117v20v1v41v172v63v38v10v1v8v8v77M1011.1 530v96v290v12v49v28v19v202v88v104v46v3v81v61v4v16v20v2v3v25M1013.3 517v30v9v24v14v30v197v15v6v41v17v18v74v116v59v38v8v9v79v11v118v104v5v10v34v4v79v7M1015.5 576v12v2v21v91v139v57v27v55v25v125v59v32v34v14v25v314v31v26M1017.7 579v31v44v187v28v31v382v3v1v78v103v56v51v26v4v8v4v7v21v3v21v10M1019.9 567v45v133v236v241v9v1v52v101v144v38v46v7v14v9v5v23M1022.1 564v67v23v116v61v36v36v27v10v25v11v134v69v38v8v12v15v93v71v30v29v26v30v40v37v24v37M1024.3 561v217v12v8v50v26v54v19v60v14v22v24v97v58v21v41v34v1v17v16v65v2v4v6v37v136v31v1M1026.5 519v20v21v26v2v6v2v13v16v216v14v4v76v14v251v21v101v132v47v69v3v2v20v12v12v2M1028.7 567v99v3v131v33v51v92v46v86v16v30v163v9v21v12v94v122v2v33v10M1030.9 518v16v58v280v7v8v21v164v31v38v52v162v46v64v24v23v71v37v14v15v8M1033.1 554v9v77v144v60v2v2v10v130v85v4v43v52v57v3v14v52v42v63v33v4v14v161v18v2v6v12v14M1035.3 627v23v1v14v52v6v78v38v35v153v17v16v81v22v9v138v16v27v4v1v153v58v24v32v46v7M1037.5 571v72v5v120v54v27v206v18v90v2v120v11v3v20v4v43v205v9v19v19v21v14M1039.7 528v34v42v199v30v19v22v27v53v81v64v13v10v56v22v49v114v27v112v79v9v40v18M1041.9 610v22v43v32v14v62v23v152v75v74v29v45v27v6v29v63v1v313v3M1044.1 526v65v46v13v156v28v86v32v97v10v26v146v2v34v97v279v8M1046.3 563v1v36v33v17v160v14v15v5v6v44v8v9v42v47v88v101v56v96v43v84v20v3v83v32v48M1048.5 575v45v64v155v22v274v27v45v99v80v11v111v73v10v22v41M1050.7 529v5v24v79v29v117v265v36v95v1v27v7v33v23v3v10v29v31v4v52v42v18v88v5v8v23v13v4v21v10v31M1052.9 577v65v21v145v1v26v33v131v64v57v95v12v57v95v125v78v21v35M1055.1 552v21v2v42v14v249v81v4v47v2v16v68v48v32v2v66v22v51v10v10v153v55v54v4v1v21v32v8M1057.3 519v8v44v15v200v14v38v26v85v67v62v113v71v57v19v34v65v54v16v45v30v23v5M1059.5 541v21v69v121v83v2v50v18v418v93v112v77v4v21v37v2M1061.7 568v11v17v31v258v37v35v113v70v29v69v81v13v30v1v94v57v50v45v1v2v7v26v13v17v3M1063.9 550v13v75v64v139v72v65v35v101v225v228v9v68v20M1066.1 595v182v71v101v85v95v51v5v17v156v12v82v30v163v1v7v13v7M1068.3 552v18v54v8v8v43v74v66v6v29v18v20v56v63v13v12v180v97v13v62v41v42v51v4v49v17v12v2v31M1070.5 525v57v14v12v36v112v107v46v10v18v57v12v80v9v11v13v1v53v54v71v7v18v16v17v120v42v13v54v9v34v1v42M1072.7 572v67v251v19v44v38v181v13v29v18v127v30v6v180v10v42v43M1074.9 560v9v6v8v19v57v68v132v28v45v6v309v38v20v43v46v25v24v4v33v43v14v57v13v37v30M1077.1 559v23v68v327v24v130v93v82v48v17v13v176v15v70M1079.3 523v44v9v10v49v213v28v25v22v5v226v40v27v175v72v27v32v59M1081.5 548v12v40v123v9v92v113v45v115v6v29v100v19v113v140v8v7v157v5M1083.7 552v16v2v25v78v98v26v91v45v75v236v26v71v14v7v122v52v6v59M1086 522v9v15v4v5v122v113v140v11v14v19v104v5v68v87v6v62v10v18v20v12v80v35v8v19v34v10v34v31v2v1v8v2v5v6v25v16M1088.2 581v69v66v77v94v3v1v13v23v96v102v31v66v23v50v11v57v9v53v7v100v27v17v54v22v14M1090.4 533v24v56v283v11v102v2v255v92v3v53v7v4v3v128v47v5v17M1092.6 537v124v164v7v185v48v223v74v109v17v51v34v17v58v31M1094.8 626v49v129v21v14v10v92v12v52v103v29v102v41v11v50v2v4v46v145v34v12v5v9v30M1097 567v134v7v79v8v79v58v15v29v184v232v112v23v19v45v22v7v16v26M1099.2 528v109v70v123v89v13v110v85v103v43v40v79v162v25v15v10v39M1101.4 549v2v8v46v202v41v55v51v48v115v36v57v33v101v16v39v62v59v11v66v13v11v1v5M1103.6 541v38v19v16v6v25v67v172v55v37v85v22v80v3v31v200v56v118v1v38v29v16v27M1105.8 534v15v47v39v157v6v18v14v28v48v64v24v16v45v8v53v16v85v26v13v5v26v34v64v34v30v31v6v58v8v50v62M1108 567v29v6v53v22v122v88v8v18v45v74v85v116v43v10v5v66v10v44v61v67v45v3v8v4v58M1110.2 582v10v204v53v36v16v185v41v90v91v25v15v5v35v71v72v56v6v6v79M1112.4 554v27v38v43v74v117v48v26v6v28v90v125v197v20v1v173v9v64M1114.6 572v11v38v38v273v295v122v4v25v188v26v49v11M1116.8 544v16v7v36v81v59v234v10v95v160v3v11v32v39v83v78v45v56v16v6v49v13v5M1119 522v15v41v6v39v24v81v72v11v28v58v211v67v65v45v34v27v7v13v2v16v16v47v13v19v102v30v17v2v22v9M1121.2 535v16v9v10v11v9v22v4v17v199v8v102v1v61v72v266v24v63v129v5v5v69v31M1123.4 601v29v1v3v17v24v57v87v148v118v38v15v136v7v174v50v1v68v14v26v9v5v16v8v11M1125.6 735v182v25v159v92v22v110v2v101v16v41v106v4v72v14M1127.8 545v99v121v136v90v138v129v237v26v15v77M1130 577v11v304v29v58v69v72v44v145v18v51v147v55v87M1132.2 578v189v85v322v147v6v28v320M1134.4 622v79v212v119v60v59v30v52v270v84v17v17v6v16v15v13M1136.6 669v5v376v417v7v80v53v1v9v42M1138.8 531v52v542v307v246v1M1141 934v535M1143.2 640v288v1v123v3v38v486v48M1145.4 587v35v478v355v130v43v15M1147.6 602v185v96v153v10v23v161v123v139v155M1149.8 573v66v729v144v61v1v8M1152 610v23v145v136v538v127v72M1154.2 610v3v55v88v171v284v8v9v29v226v121v35v45v4M1156.4 669v126v153v212v195v103v172v11v13v1v23M1158.6 530v381v29v96v15v25v388v87v56v20v11v45M1160.8 588v68v35v92v7v134v268v278v16v48v51v13v19v39v2M1163 608v9v330v253v451v13v13M1165.2 569v369v444v11v10v100v15v62v59v5v25M1167.4 661v252v178v67v151v313v26M1169.6 673v25v46v189v31v426v14v16v53v37v54v64M1171.8 555v95v190v76v549v15v140v16v22M1174.1 606v8v138v69v17v47v154v221v43v62v63v7v204M1176.3 567v141v3v29v32v84v12v64v75v28v30v53v75v144v31v183v44M1178.5 556v14v50v38v91v185v79v80v36v22v72v12v187v14v7v11v42v82v11v25v20v12M1180.7 526v25v610v9v6v120v8v2v94v80v41v22v58v27v3v23M1182.9 570v65v63v75v28v184v172v158v23v62v27v116v35v79M1185.1 546v138v16v73v163v17v130v12v129v17v11v132v38v48v34v43v6v66v2v17v21v2v32M1187.3 584v24v48v37v154v8v135v58v44v23v45v35v53v209v81v5v29v21v2v43v27v3v14M1189.5 583v16v29v19v39v17v245v15v45v243v26v69v7v77v8v41v60v10v70v32v22M1191.7 613v224v94v24v287v44v18v11v96v15v68v10v2v33v7v19v9v37v31v1v4v13v4v5M1193.9 568v5v60v3v14v67v4v97v87v15v9v79v32v213v32v157v19v15v14v68v17v31v12v1v19v21v8M1196.1 623v13v46v33v85v94v11v101v95v426v25v73v6v8v13v6v28v3M1198.3 527v70v14v31v14v37v151v81v1v6v50v123v48v188v55v20v16v2v156v21v38v1v1v14v11M1200.5 568v5v56v20v13v75v188v20v4v9v16v118v40v62v16v85v3v10v59v47v10v129v30v39v7v10v15v16v1v5v18M1202.7 556v70v8v41v311v63v73v234v34v50v25v45v108v6v37v19v3M1204.9 552v8v16v38v8v5v98v181v11v18v42v120v105v229v34v188v1v5v5M1207.1 533v59v27v6v37v56v1v187v36v46v27v168v120v125v6v11v27v1v11v70v2v70v3v9v4v10v10M1209.3 568v27v16v138v1v74v187v46v69v7v9v46v59v22v119v42v68v116v15v6v1v3v6v2v5v22M1211.5 544v32v51v17v171v33v89v3v274v11v7v6v36v28v105v13v15v62v15v54v45v8v1v18v3v5v34M1213.7 527v51v17v5v26v11v22v7v6v1v147v66v207v7v89v223v27v70v37v36v52v24v3v32M1215.9 529v31v65v11v28v101v149v38v18v41v211v41v160v54v134v6v9v9v11v46M1218.1 582v33v11v32v3v21v223v7v47v12v247v101v16v114v55v18v13v29v97v4v10M1220.3 527v37v61v60v121v97v59v10v145v53v1v128v136v59v62v89v4v12v3M1222.5 578v12v69v83v180v12v19v164v11v56v50v109v8v86v36v91v21v13v30v5v20v4v28M1224.7 527v44v68v18v41v188v23v25v44v1v40v12v37v55v100v64v67v82v11v171v4v13v20v9v20v4M1226.9 643v76v204v2v1v99v148v96v158v62v3v32v15v8v11v78v23v4v4M1229.1 562v45v25v27v6v1v225v5v46v22v267v29v5v18v131v12v23v98v28v51v23v36M1231.3 572v8v50v31v300v36v25v143v259v7v29v97v54v4v8v6v10v2v13v1v39M1233.5 568v44v82v9v7v203v37v5v49v47v121v149v3v64v95v6v6v10v97v15v13v16v30v7v7M1235.7 558v40v59v1v249v22v7v31v16v249v139v5v2v6v24v187v38v1v7v24M1237.9 557v25v62v74v90v23v151v102v44v20v110v250v8v103v21M1240.1 528v55v15v5v58v10v123v159v11v18v193v82v18v135v65v33v126v9v11v14v22v7M1286.4 629v3v4v1v6v7v6v1v3v1v3v2v2v4v2v3v2v6v3v6v12v1v31v27v2v29v14v1v1v1v2v6v32v223v9v5v14v12v23v18v236v29v53v33v1v1v2v6v1v2v6v1v4v4v2v1v5v4v1v2v1v2v1v5M1288.6 631v1v7v1v5v10v3v14v2v9v2v1v9v1v21v31v1v10v10v21v4v4v3v5v19v7v3v14v4v1v228v12v8v4v17v5v281v13v2v70v3v11v2v3v1v2v11v1v4v8v5v5v8v1v1M1290.8 631v5v1v6v6v6v1v1v4v4v1v8v5v4v1v2v5v4v58v4v5v20v43v4v15v5v1v6v212v1v15v3v26v30v8v1v9v1v4v216v16v78v15v23v1v5v1v5v2v4v2v2v4v2v2v2v6v6M1293 629v1v1v13v1v4v12v10v6v15v6v1v10v7v7v19v20v19v9v12v36v7v7v3v213v23v46v4v3v1v1v4v10v228v1v1v61v16v33v17v1v2v1v3v6v5v2v1v3v3v1v3v2v3v1v1v4v1M1295.2 628v3v7v4v12v6v4v1v4v4v12v8v6v16v18v13v3v4v15v14v7v27v13v10v5v1v233v9v2v1v8v2v17v6v2v3v22v4v1v2v1v278v38v25v4v8v4v9v2v8v2v7v2v1v6v1v4v1M1297.4 629v1v3v6v1v6v1v1v6v8v6v7v9v2v7v3v3v59v29v2v50v4v6v220v17v8v4v2v7v13v1v25v1v1v4v3v9v3v218v20v9v16v6v21v30v26v8v12v1v1v1v1v2v7v1v10v3M1299.6 629v15v4v1v3v11v11v1v6v7v2v3v1v6v56v1v12v1v23v11v2v34v5v1v1v6v228v12v10v1v1v9v5v1v8v4v11v9v8v1v220v2v7v26v29v23v21v7v16v1v1v2v3v1v2v2v1v11v6v2v4v2v3v5v1M1301.8 630v4v13v1v3v1v7v3v11v3v10v3v4v8v3v17v20v1v15v37v8v30v251v3v2v1v6v11v21v11v1v10v2v1v1v6v2v1v219v2v32v24v53v8v13v1v8v3v6v3v6v3v2v1v3v1v3v2v1M1304 630v4v3v6v2v17v1v5v7v3v1v8v2v2v4v2v1v2v1v3v20v22v41v59v226v14v1v4v2v15v2v4v4v10v2v7v4v2v7v5v247v6v2v9v1v8v1v10v11v15v21v30v1v4v5v1v2v3v2v3v9v3v1v3v1v1v2M1306.2 638v3v5v9v4v9v1v3v8v4v3v8v1v5v23v5v12v13v32v4v7v6v32v244v6v7v9v5v8v8v7v3v9v1v2v6v243v7v1v38v8v7v10v3v5v3v38v1v1v1v6v2v6v3v4v3v1v5v6v1M1308.4 632v4v5v9v5v5v6v4v1v17v7v7v14v32v19v9v37v10v10v5v4v239v2v1v2v4v1v5v2v1v4v1v4v2v2v6v2v4v4v20v14v227v22v26v2v8v29v19v19v6v7v2v1v4v5v1v11v4M1310.6 634v2v14v29v1v5v4v6v8v26v27v1v23v3v16v33v247v3v12v2v6v2v1v4v1v4v2v8v8v21v4v245v5v13v41v1v54v1v1v6v5v3v3v1v1v4v5v2v7v1v1M1312.8 634v12v2v1v4v3v1v8v1v6v1v3v2v1v1v13v2v1v3v1v1v8v34v20v1v70v11v236v2v9v17v6v2v1v21v1v7v13v4v236v46v41v5v26v2v3v6v3v4v1v4v3v1v5v1v4v1M1315 641v16v2v7v2v2v3v3v3v5v1v11v9v11v20v4v9v1v2v32v4v1v7v9v31v250v9v1v10v11v6v17v13v2v5v249v17v10v4v12v13v15v15v7v19v2v1v7v1v4v15v2v3M1317.2 636v3v1v1v13v14v1v6v6v8v4v7v10v13v1v21v8v24v24v11v3v20v1v241v6v1v11v2v1v4v2v13v8v2v6v4v13v2v2v3v256v7v33v4v8v62v2v1v6v5v1v3v2v1v5v1M1319.4 638v2v5v4v7v4v6v1v19v1v8v1v5v5v15v7v33v25v10v36v252v27v2v5v1v17v4v18v242v2v19v33v31v32v6v5v4v1v7v2v4v3v7M1321.6 643v3v8v9v12v1v7v3v4v2v1v5v1v45v2v1v9v46v24v258v27v1v1v1v8v6v29v259v64v39v3v6v7v2v2v2v6v3v2v2v2M1323.8 639v2v13v1v7v8v7v1v6v6v1v1v1v36v29v14v5v4v4v6v5v2v10v15v5v2v1v3v218v35v1v10v13v8v294v6v10v14v58v19v7v5v9v1v3v2M1326 640v4v1v8v2v4v4v5v2v23v5v1v11v13v15v3v15v8v66v264v5v4v13v1v42v311v49v6v1v3v9v4v1v2v1v1v1v4v1v1M1328.2 646v1v3v5v5v7v4v1v1v15v1v25v14v4v21v7v10v5v32v19v2v1v255v4v1v7v9v1v4v2v8v1v17v20v267v22v6v13v31v2v20v1v2v1v1v3v2v1v1v4v5v1v2v4v1v2v1v1v2M1330.4 650v2v1v7v11v1v5v10v4v3v22v3v1v35v26v29v6v15v52v67v138v5v6v1v1v5v2v2v10v8v14v2v2v12v260v21v12v2v33v34v15v2v4v2v2v2v2v2v117M1332.6 649v4v2v3v10v21v20v21v61v7v28v141v125v2v4v4v13v38v289v14v7v58v3v6v5v6v1v4v3v5M1334.8 644v1v1v2v4v1v4v2v2v4v7v20v22v24v12v31v16v11v1v6v8v1v232v46v9v3v43v277v1v89v5v3v8v3v2v1v2v3v1v88M1337 652v2v16v4v1v1v15v40v20v7v15v17v7v2v20v148v126v6v4v1v5v4v76v237v10v15v12v6v26v28v2v3v6v4v15M1339.2 647v2v16v4v8v7v18v12v11v31v5v21v22v7v2v150v87v4v54v1v2v7v19v272v16v11v31v28v27v4v4v3v3v5v1v3v1v106M1341.4 649v10v1v2v5v6v1v32v13v4v34v5v4v7v5v11v5v8v8v8v223v9v44v5v23v7v11v387v6v1v2v1v1v1v4v4v5M1343.6 569v81v3v5v47v17v31v50v257v36v2v14v2v5v3v2v19v302v14v7v35v26v1v6v1v4v10v2v1v81v7v35M1345.8 660v5v1v41v7v34v58v4v3v280v7v9v14v1v3v1v1v18v1v1v290v3v1v8v74v7v1v1M1348 660v1v1v4v1v47v11v4v12v1v18v9v10v5v319v47v344v34v1v4v1v8v1v8M1350.2 654v5v1v6v6v2v38v16v11v4v51v13v3v284v13v9v10v2v331v1v13v58v2v8v1v2v3v1v48v60M1352.5 653v3v13v4v7v46v7v3v44v2v21v5v139v13v14v468v86v4v4v3v4v2v3v1v142M1354.7 561v101v3v79v7v354v5v19v4v7v321v3v70v4v2v1v2v1v153M1356.9 658v1v23v53v57v11v79v7v4v100v109v17v12v297v29v4v8v7v24v30v5v1v4v4v3v2v30v118M1359.1 664v63v12v10v17v19v8v5v90v220v3v24v304v12v79v9M1361.3 582v84v34v48v7v2v25v6v2v318v9v1v2v4v14v3v11v267v38v75v3v6v1v6v88M1363.5 662v5v1v114v162v165v21v311v20v70v1v1v7v1v2v4v117M1365.7 662v2v2v5v79v190v174v3v17v3v341v61v1v3v1v116v15M1367.9 761v9v174v195v314v11v7v12v54v3v3v1v1v82v63M1370.1 698v61v5v6v372v393v1v1v6v1v106v15M1372.3 681v266v34v131v14v343v69v6v1v76v21v39M1374.5 667v108v108v242v5v1v410v1v3v80v13v41M1376.7 938v158v16v7v358v63v4v102M1378.9 667v16v438v340v75v4M1381.1 575v110v293v4v132v7v339v79v1v127v1M1383.3 692v1v385v20v93v227v187v6v18v51M1385.5 573v103v220v84v66v38v33v4v7v325v85v2v62v6v26M1387.7 690v352v78v38v16v271v218v25M1389.9 602v97v197v291v8v275v157v12M1392.1 570v102v33v189v169v14v57v21v266v173v89M1394.3 683v66v138v3v7v199v318v1v262M1396.5 979v68v23v57v48v300v129v53M1398.7 551v122v247v136v224v150v218v31M1400.9 702v205v16v11v167v21v35v11v261v82v83v20M1403.1 1281v43v135v27v31v124v3v5v2v7v43M1405.3 845v89v57v138v39v22v144v14v89v1v94v6v70v15v8v85M1407.5 674v107v132v22v56v28v8v45v39v44v117v27v204v30v36v87M1409.7 654v15v51v26v28v1v62v7v27v17v14v39v173v1v45v238v46v111v22v106M1411.9 691v45v126v95v32v92v24v6v15v1v54v25v19v7v41v20v24v96v17v81v38v23v8v13v2v34v8v16M1414.1 631v6v2v5v6v7v29v23v52v57v94v79v249v9v156v67v55v65v10v13v6v90M1416.3 609v9v47v119v165v75v30v53v214v67v89v23v5v63v22v7v20v19v29v17v4v22M1418.5 600v2v22v89v37v6v6v9v92v71v12v120v182v11v33v54v136v5v53v33v16v46v51v1M1420.7 562v77v12v16v10v15v25v47v39v90v25v106v59v22v88v31v27v19v143v32v5v7v7v91v26v102M1422.9 624v66v106v11v119v51v217v6v2v60v190v1v15v10v5v3v32v49v17v6v42v42v16M1425.1 594v4v1v47v32v58v23v18v18v73v10v63v31v21v196v28v19v20v70v69v14v6v9v7v36v6v10v7v30v14v27v34v70M1427.3 605v24v130v3v170v6v32v2v126v82v26v39v51v2v28v21v37v27v56v35v14v37v23v1v20v23v14v22M1429.5 591v20v16v11v59v52v15v76v114v35v57v36v10v7v119v33v26v1v13v32v46v14v3v2v128v27v1v5v9v7v20v4v13v11v30v50M1431.7 593v45v66v1v6v14v66v18v40v1v128v169v50v57v73v8v40v25v73v29v10v25v6v34v5v11v16v3v6v18v69M1433.9 604v42v19v67v116v23v21v75v143v47v95v30v26v100v139v16v2v1v3v19v2v8v15v8v10v3v3v26M1436.1 635v66v14v4v46v204v26v46v128v2v15v76v13v15v45v31v27v92v52v56v5v22v2v45M1438.4 581v56v8v26v7v34v42v49v64v17v11v95v59v15v40v72v4v110v29v104v29v57v42v22v12v1v1v20v10v15v16v4M1440.6 587v22v32v17v52v35v99v117v12v53v20v43v15v35v198v110v54v100v15v36v1v11M1442.8 611v36v51v69v36v24v30v47v72v14v5v7v28v184v36v156v24v15v72v30v16v20v44v41M1445 636v46v69v55v49v41v18v143v161v19v81v140v103v1v3v11v37v2v1v4v25v13M1447.2 584v3v84v17v30v26v28v89v139v22v18v121v20v159v52v51v131v49v24v16v26v9v29M1449.4 618v7v11v40v81v4v34v13v40v12v35v103v1v68v14v2v14v161v90v194v40v72v18M1451.6 649v12v2v16v56v26v19v9v15v59v22v9v28v30v57v12v79v118v107v69v52v2v73v19v2v41v19v6M1453.8 584v28v41v34v65v12v24v6v29v42v41v52v83v4v53v75v106v79v75v88v5M1456 599v21v26v43v49v3v3v13v14v108v155v104v28v22v143v40v12v130v22v9v29v14v20v1v13v2v15v37v26M1458.2 596v131v176v23v25v42v27v57v20v12v123v224v6v6v59v21v26v4v5v27M1460.4 569v50v52v50v1v71v17v17v39v126v14v62v28v132v5v128v86v110v53v15v74M1462.6 640v1v18v25v40v34v51v17v11v4v1v25v45v178v49v2v15v88v20v30v2v38v41v19v18v77v60v21v16v21v1v29v1M1464.8 638v37v4v25v18v51v3v11v10v8v43v32v48v129v81v30v10v150v49v64v111v47M1467 648v4v123v1v23v19v6v52v71v28v99v38v17v57v39v46v57v10v41v10v10v75v90v33v9v27v11v12v50M1469.2 600v56v4v30v90v18v8v13v9v79v26v112v41v53v10v67v106v48v3v4v27v11v11v1v113v14v22v12v15v9M1471.4 630v27v29v23v37v31v45v53v56v47v303v220v35v2v21v23v32v65v10M1473.6 621v8v12v1v86v15v31v20v8v161v47v78v80v2v46v40v30v120v83v41v9v31v5v24v97M1475.8 633v32v2v16v34v5v7v27v10v101v6v86v3v70v12v74v13v4v51v2v38v11v184v51v31v26v2v32v21v14v65v2v17v48M1478 612v30v9v21v100v70v7v55v19v134v9v11v71v121v9v6v20v48v89v33v47v5v61v18v45v18M1480.2 617v7v36v11v47v24v33v5v1v86v4v49v12v93v12v21v55v78v95v100v10v42v16v84v16v40v43v10v17v20v4v7M1482.4 611v1v6v23v6v4v10v3v15v4v63v59v100v57v10v65v203v76v15v47v59v34v37v14v23v14v79v1M1484.6 599v24v36v1v30v68v48v39v4v84v5v15v12v40v17v33v34v7v142v45v101v10v4v28v28v95v17v8v72v8v24v32M1486.8 602v79v31v5v9v14v39v6v20v49v32v65v5v17v86v110v259v3v61v54v37v30v32v10v30v6M1489 550v43v1v22v10v64v227v96v100v44v332v33v50v28v5v3v38v34M1491.2 551v28v9v71v12v16v2v81v40v5v18v49v66v11v9v11v19v202v1v11v13v67v12v105v16v8v51v79v2v18v126M1493.4 575v23v5v25v42v114v5v44v41v19v247v27v2v140v9v3v25v21v18v5v17v37v26v5v49v51v18v50v13M1495.6 594v12v11v29v3v52v56v32v35v50v134v210v8v14v31v82v4v7v3v49v36v44v11v38v15v35v38v63v17v12M1497.8 594v71v44v4v14v16v15v10v27v93v52v18v23v60v3v9v6v25v70v120v41v6v25v15v115v110v60v19M1500 617v22v36v10v34v57v30v137v12v34v1v22v21v38v2v32v10v295v33v76v5v30v59v20v1v26v8M1502.2 597v16v16v9v2v2v16v38v93v25v49v27v15v44v58v33v91v48v16v1v189v2v96v37v12v25v17v15v5v13v12v1v2M1504.4 609v3v10v4v16v8v11v38v73v21v6v15v33v118v76v37v34v65v85v13v92v8v42v77v20v46v70v26v2M1506.6 599v29v46v10v30v1v35v16v19v19v59v58v84v1v23v18v70v207v174v4v48v52v33v77M1508.8 595v8v13v15v50v160v5v13v18v116v16v53v8v64v30v37v155v60v37v21v38v33v27v20v5v64M1511 595v12v1v10v17v5v59v69v9v48v69v27v101v163v10v99v3v21v81v23v12v56v36v14v37v36v6v7v42v34M1513.2 544v61v10v4v57v10v30v2v6v3v18v72v7v19v37v11v62v28v36v16v25v39v64v43v84v1v48v69v36v25v45v53v54v44v10v38M1515.4 610v15v8v13v14v41v151v8v7v110v132v15v35v38v38v7v117v30v7v7v10v15v72v89v29v37v46v44M1517.6 590v37v16v27v21v13v70v4v21v129v5v10v110v15v21v45v94v42v2v209v57v3v40v11v4v1v18v14v79v11M1519.8 553v50v31v31v12v23v46v7v53v43v17v23v90v82v14v16v26v15v43v69v106v38v41v14v85v20v13v15v52v23v9v10M1522 633v8v38v47v70v21v68v36v14v5v1v137v12v227v27v144v2v75v80v10v17v8M1524.2 617v23v5v92v67v53v35v55v16v142v8v33v67v37v15v62v77v23v26v133v17v10v11v7v99M1526.5 666v40v6v11v51v77v24v76v56v66v37v8v70v17v24v8v16v56v92v16v59v15v47v43v41v18v5v41v49M1528.7 620v27v5v22v3v8v169v30v144v122v81v80v2v22v63v27v70v20v16v45v21v13v5v8v3v2v13v49M1530.9 578v49v61v16v8v150v74v166v8v23v43v48v28v1v27v14v22v55v124v15v27v2v26v12v8v6v23v1v3v1v3v40v57M1533.1 603v13v36v29v10v29v3v69v27v51v16v10v62v118v18v29v50v52v58v24v6v26v76v19v14v11v37v29v11v30v96v2v12v27M1535.3 575v33v4v1v24v92v33v84v51v46v21v47v112v13v5v49v14v98v19v163v18v6v27v183M1537.5 583v61v40v76v5v66v10v44v27v144v43v150v60v18v7v130v41v30v28v12v6v9v27v105M1539.7 623v56v10v16v33v86v32v6v61v189v119v18v74v19v5v72v112v46v10v8v4v14v1v12v95v32M1541.9 567v127v38v124v27v34v149v8v51v53v31v17v48v25v151v62v77v23v32v16M1544.1 573v16v14v83v41v127v7v43v41v59v23v11v16v4v50v57v9v19v65v71v46v90v4v36v60v2v7v34v3v6v4v23v23v30M1546.3 600v38v9v79v87v16v2v6v28v62v85v48v73v16v50v29v170v94v11v62v6v1v21v137M1548.5 590v3v16v21v46v3v10v10v15v8v12v28v49v12v20v67v25v148v110v37v76v3v20v7v74v30v53v2v3v37v58v23v19v3v17M1550.7 594v64v101v80v10v33v98v73v17v14v50v42v13v51v33v84v127v48v15v3v3v79v65v26v20M1552.9 647v13v14v61v48v40v2v38v73v88v36v22v39v226v15v41v24v22v2v71v51v3v21v56v48v10M1555.1 592v6v21v20v26v61v22v15v50v215v64v30v85v2v59v7v24v64v77v114v1v29v8v20v15v51M1557.3 582v11v29v2v79v3v84v5v12v2v1v36v55v44v14v26v105v99v53v163v93v7v24v4v1v82v46v23v26M1559.5 572v6v23v25v17v31v88v78v34v126v349v24v5v13v10v10v3v52v17v48v6v8v31v8v23v17v15v9v48v23M1561.7 569v95v27v26v70v17v17v10v50v12v148v6v91v16v58v68v70v21v14v101v61v90v25v10v48v8M1563.9 617v28v44v13v1v53v21v19v48v15v64v36v95v60v17v10v31v3v30v9v34v8v39v40v18v136v6v16v1v31v18v37v17v3v3v21v25M1566.1 562v57v13v8v157v52v11v9v124v35v47v76v29v38v8v25v46v15v252v34v25v23v6v16M1568.3 609v12v32v56v27v31v8v10v1v45v8v98v134v139v17v77v70v75v56v36v50v11v11v14v12v15v50v14M1570.5 591v77v36v2v38v2v46v10v48v71v33v50v2v54v55v19v77v91v184v135v19v82M1572.7 568v44v18v8v100v13v26v57v21v14v37v9v27v16v102v36v129v120v5v39v16v27v110v59v31v1v31M1574.9 564v7v73v10v1v3v3v54v187v58v8v20v23v33v63v103v45v8v32v86v30v1v14v40v66v3v6v69v13v25v2v9M1577.1 598v25v4v12v35v8v9v13v49v13v46v59v66v271v136v197v2v101v8v51M1579.3 592v3v17v30v63v8v82v65v9v7v14v257v42v38v21v7v47v33v13v79v30v41v36v48v33v7v6v40v21v1M1581.5 599v19v4v3v1v8v29v18v75v2v18v7v10v2v5v37v4v17v35v2v69v61v43v206v113v14v115v1v17v37v13v5v8v7v3v5v3M1583.7 545v45v21v19v16v269v76v1v2v52v94v138v168v10v132v9v7v68M1585.9 580v63v5v1v31v18v74v28v5v12v6v4v28v81v109v16v317v23v39v58v51v19v15v50v10v9v18M1588.1 565v35v24v7v28v22v7v96v7v14v46v76v43v7v126v160v96v28v43v17v49v24v38v34v1v33v1v13v12M1590.3 556v6v55v16v8v6v24v5v11v5v41v9v11v11v13v16v33v110v10v2v29v43v31v75v76v28v149v26v16v50v27v23v58v38v17M1592.5 590v2v51v7v2v27v24v5v27v20v35v100v189v90v53v6v98v150v102v2v61v11v52M1594.7 567v39v49v54v3v13v17v3v96v9v19v28v30v28v4v105v72v22v15v6v31v13v9v44v106v4v7v105v33v18v23v38v25v7v70v11M1596.9 623v3v6v16v10v28v34v73v37v17v99v54v57v6v50v169v106v77v26v69v11v1v52v64v52M1599.1 597v71v7v28v11v22v16v17v16v8v8v13v98v102v74v145v93v1v56v59v24v21v17v8v2v49v25v6v59v71M1601.3 636v10v24v3v8v13v50v27v55v7v10v106v6v9v3v45v55v48v86v4v91v29v16v28v36v29v6v58v45v83v4v27v4v4M1603.5 549v71v1v45v19v8v7v44v7v23v33v6v118v64v10v95v16v94v120v5v188v1v14v84v18v63v20M1605.7 567v62v24v21v1v22v10v6v1v15v27v36v121v14v1v9v80v78v17v8v15v32v64v9v10v5v34v11v4v52v41v35v49v17v52v56v3v3v3v22v51v18M1607.9 630v20v40v92v36v3v18v26v29v73v39v73v49v15v2v108v64v21v19v82v152v25v28v10v91v2v7M1610.1 587v7v89v20v60v51v72v66v7v38v47v43v48v163v21v68v31v43v13v30v37v18v110v4v76M1612.3 632v31v16v4v6v11v9v6v85v24v86v27v88v12v25v15v9v37v31v60v10v20v4v50v90v168v19v6v7v84v41v24v3M1614.6 628v26v31v15v13v28v43v33v10v83v69v10v10v5v5v85v23v62v116v96v33v24v31v95v23v138M1616.8 634v21v6v50v3v2v37v15v11v143v7v165v13v17v95v40v9v7v89v46v41v3v57v35v37v36v15v5v39v8v6v28v11v43M1619 549v79v44v32v63v7v14v64v38v113v29v84v74v23v44v182v80v60v18M1621.2 598v20v14v50v9v45v2v9v9v175v36v7v5v54v136v72v2v124v95v23v35v4v21v44v45v73v12v6M1623.4 595v11v35v6v18v5v29v51v1v3v34v79v101v92v37v49v3v7v18v19v10v72v70v4v136v84v44v8v1v5v15v3v42v43M1625.6 563v28v10v61v58v11v34v48v154v64v14v99v81v103v91v147v34v51v19v17v43v14M1627.8 579v4v104v24v29v15v7v69v86v41v118v33v40v41v73v10v45v33v32v73v1v40v22v14v22v5v2v11v3v38v31M1630 610v3v4v12v29v7v28v11v43v29v13v1v24v68v251v149v19v45v102v5v70v17v5v52v25v13v12v15v27v17v29v12v2M1632.2 588v1v7v15v61v28v3v34v19v18v35v9v33v31v12v38v26v3v10v6v5v19v35v14v62v54v103v236v40v3v10v22v15v11v27v19v67M1634.4 602v38v10v15v6v13v10v2v23v60v42v114v46v39v50v24v30v219v2v30v86v36v44v11v31v13v18v32v15v15v3v18M1636.6 585v32v16v4v52v3v19v16v1v101v34v266v103v61v13v82v15v19v164v30v14v72M1638.8 651v2v19v16v20v15v20v37v5v59v36v55v4v47v43v7v13v65v46v10v80v92v6v32v112v28v28v23v14v1v2v5v14v12v11M1641 771v18v57v2v78v18v78v22v57v40v22v82v51v114v38v51v4v18v54v5v8v15v22v22v32v28v14M1643.2 568v41v44v41v22v78v14v12v10v11v8v308v55v4v238v44v116v52v67v24M1645.4 639v2v97v8v3v22v100v149v84v158v199v46v36v8v39v3v83v18v17v1v19v28M1647.6 566v61v8v3v27v22v21v17v30v63v83v84v175v11v12v65v30v33v45v7v71v56v41v26v33v27v68M1649.8 549v40v66v55v13v21v53v3v14v10v15v36v42v71v30v36v10v77v54v26v163v11v138v44v15v42v78M1652 616v43v13v70v5v31v59v38v2v2v15v49v123v102v27v186v6v1v63v12v29v56v75v19v53M1654.2 587v2v6v119v7v41v24v49v45v38v200v16v60v24v69v12v119v64v78v5v25v25v29v19v27M1656.4 627v1v25v4v50v45v44v11v30v20v52v10v21v1v9v35v27v29v14v11v1v35v18v163v31v9v47v33v84v24v69v4v6v7v69v65M1658.6 616v54v8v44v32v16v11v31v52v55v37v19v15v3v67v17v45v113v57v22v131v4v92v35v1v5v123v43M1660.8 544v10v39v23v82v45v77v35v95v73v145v8v171v57v37v85v36v10v36v7v59v47v28v21M1663 627v65v113v47v25v40v27v49v253v30v130v8v37v5v7v106v15v60v1v4v16v14v4v17v30M1665.2 576v26v43v78v8v6v26v22v38v1v20v5v19v88v1v49v50v218v49v75v103v51v8v4v30v6v12v1v21v5v20v12v11v50M1667.4 600v10v23v17v33v140v33v14v27v36v129v72v11v168v59v27v4v119v5v35v36v8v9v4v8v8v49v54M1669.6 598v48v85v1v25v30v16v27v40v3v14v14v40v10v5v3v100v44v34v80v21v105v1v14v9v69v22v55v22v59v2v2v52v56v2M1671.8 600v126v20v28v79v1v45v7v9v133v74v81v22v46v11v59v30v70v11v8v41v19v10v20v27v4v38v37v11v71M1674 570v18v17v18v11v6v19v21v93v97v111v10v62v51v26v101v31v62v36v120v2v45v7v2v26v10v16v3v8v9v2v9v10v27v52M1676.2 586v80v3v1v1v10v2v1v2v4v3v50v82v1v30v90v51v9v31v5v18v22v223v27v162v25v2v10v8v38v34v12v30v41v3v40M1678.4 550v38v17v11v17v15v24v14v79v4v3v57v17v411v73v29v17v33v65v49v11v32v9v17v8v116v9v38M1680.6 610v107v4v17v7v17v408v9v60v72v1v30v129v51v16v18v33v13v40v50v24M1682.8 605v63v42v20v9v47v112v3v129v109v5v35v187v147v51v43v26v14v63M1685 628v36v26v77v41v11v26v47v21v115v42v23v95v73v1v6v30v14v138v20v2v48v17v45v123M1687.2 590v36v50v11v14v34v34v7v54v1v12v9v63v35v14v25v177v38v30v15v23v81v135v3v30v51v27v11v3v10v64v1v44M1689.4 666v40v48v24v50v20v116v311v84v137v2v40v20v57v6v44v24v7v36v2M1691.6 606v6v15v110v63v51v119v74v47v3v29v70v53v221v19v11v27v9v64v13v12v22v11v50M1693.8 685v14v11v28v42v35v18v31v87v7v5v9v49v111v38v90v14v3v87v7v44v130v31v8v8v8v16v47v21v52v8M1696 594v133v34v4v14v50v2v2v1v79v150v22v13v33v24v115v2v88v22v8v12v2v145v3v53v38M1698.2 629v79v53v1v23v40v69v38v13v86v51v20v21v145v65v10v10v100v28v61v43v76v11v2v16v105M1700.4 598v63v2v10v2v32v16v30v114v48v58v17v85v2v143v6v33v91v97v78v7v6v10v80v2v10v5v53M1702.7 600v7v103v35v21v136v24v27v7v7v17v2v39v149v54v63v95v26v117v18v16v1v4v9v31v36v1v40v25v3v9v4v27v8M1704.9 574v74v52v34v15v37v39v37v117v67v12v3v43v2v17v5v4v59v127v13v58v59v72v36v43v37v36v3v60M1707.1 569v36v66v181v135v102v3v70v21v38v25v5v5v29v43v88v1v46v7v16v19v15v11v38v50v69v32v1v26v36M1709.3 591v130v49v1v21v1v2v121v141v17v85v17v66v328v26v20v14v62v15v60M1711.5 698v34v96v395v37v59v56v69v4v19v37v7v5v65v13v22v125v6M1713.7 829v5v35v57v73v42v108v13v6v33v41v12v46v104v74v80v16v5v7v38v26M1715.9 721v276v30v20v51v11v46v34v51v24v24v14v60v27v9v1v8v27v9v84v3v43v82v10v53M1718.1 607v61v57v56v42v12v6v150v133v72v41v44v157v105v34v19v49v108v4M1720.3 649v51v21v164v9v6v30v71v99v26v18v60v65v89v14v32v33v74v56v23v5v29v31v6v93v11M1722.5 563v35v7v14v19v51v7v55v7v61v5v14v134v23v86v27v2v198v22v4v39v130v88v4v20v1v2v3v14v47v83M1724.7 691v58v14v35v31v8v52v145v63v12v70v8v35v20v11v138v18v7v8v8v80v42v25v54v37v47v12v12M1726.9 601v34v16v16v98v76v33v84v45v11v22v97v80v21v69v145v23v46v45v6v22v21v58v6v60v16v47M1729.1 573v40v94v20v112v15v5v12v24v12v7v122v40v35v107v125v27v158v4v14v32v58v2v16v68v32M1731.3 609v71v43v8v16v15v8v29v28v35v7v28v150v112v81v25v145v17v59v20v21v25v11v17v72v4v69v44M1733.5 541v18v26v91v13v6v70v3v14v47v75v22v27v60v89v33v54v103v24v56v51v132v37v10v12v11v6v10v7v4v74M1735.7 571v79v6v95v72v1v80v5v104v55v4v56v13v2v107v122v47v95v5v18v96v15v11v56v8v14v18M1737.9 747v65v42v35v126v480v39v17v4v4v11v2v38v10v7v33M1740.1 545v139v93v12v7v38v31v41v4v4v58v5v48v23v36v68v135v15v168v22v54v28v19v56v2v26v24v22M1742.3 603v106v90v32v41v126v17v42v21v2v67v27v93v25v65v48v84v108v62v94M1744.5 711v168v59v40v54v7v7v42v48v8v14v137v10v38v3v6v30v9v55v26v13v71v26v9v1v22v81v40v2M1746.7 574v47v29v83v76v8v36v2v60v8v36v11v40v23v5v9v54v29v274v4v98v71v20v1v2v72v13v7v2M1748.9 561v15v25v52v13v66v142v21v33v22v17v33v32v9v22v41v54v19v106v35v38v21v37v65v35v19v96v15v13v47v61v20M1751.1 548v87v37v32v35v23v72v97v14v26v197v40v16v44v41v34v101v10v32v83v53v17v10v42v17v22v13v5M1753.3 619v38v44v33v4v89v16v13v10v23v69v16v20v22v8v68v17v7v93v78v209v35v26v13v4v12v105v80M1755.5 553v22v84v38v36v20v23v36v1v6v30v80v23v79v39v65v45v110v129v53v92v20v87M1757.7 541v43v25v24v64v69v25v56v32v86v43v8v6v131v15v56v47v18v1v44v67v4v124v51v14v20v12v36v53v14M1759.9 572v16v20v147v20v74v5v15v33v159v74v62v65v11v47v101v7v29v31v39v14v30v7v14v29v23v12v21v4v27v44M1762.1 685v65v25v7v32v4v14v139v88v107v32v15v37v3v7v28v3v42v2v62v66v6v66v14v50v11v79v12M1764.3 561v120v6v79v28v155v51v14v21v34v35v8v17v9v90v78v3v182v75v11v6v5v1v132v37M1766.5 586v41v69v110v91v3v65v41v20v78v18v50v72v42v3v289v32v2v89v68M1768.7 549v9v131v16v8v30v8v1v9v86v45v107v2v94v55v3v19v5v10v23v84v2v16v55v15v15v140v97v107v14M1770.9 592v55v8v25v17v37v59v93v93v90v6v122v164v212v6v19v29v28v21v89M1773.1 573v14v48v54v37v12v1v26v65v14v5v57v59v99v3v9v111v23v56v116v72v8v125v24v8v1v8v1v48v95v2v21M1775.3 552v151v108v18v2v13v6v27v170v13v42v52v29v27v21v109v40v163v32v47v9v51v48M1777.5 649v92v96v63v215v45v53v28v144v159v29v45v10v93v20v17M1779.7 581v34v44v101v4v15v57v54v12v36v8v30v16v6v18v108v243v111v23v3v5v60v37v6v3v48v7v51v57M1781.9 545v111v7v23v137v32v3v4v5v71v62v18v2v52v16v10v91v5v110v8v28v51v30v17v89v51v92v9M1784.1 584v2v77v40v7v89v69v12v51v2v92v47v5v123v38v78v7v82v151v5v13v63v40v30v8v4v60v4M1786.3 687v10v102v19v40v7v172v37v152v55v45v6v74v7v7v68v2v24v57v8v8v10v48v6M1788.5 654v24v22v81v90v1v13v1v234v100v107v44v14v14v17v6v74v70v175v2v22M1790.8 607v53v15v18v1v62v32v3v76v54v76v27v101v119v41v142v117v5v18v9v3v53v30v21v46v77M1793 586v102v13v140v92v1v144v59v17v43v33v23v5v17v39v122v109v17v5v54v1v35v35v1v2v31M1795.2 616v106v164v91v20v13v27v11v114v20v32v131v30v2v101v27v24v24v34v22v33v31v36v29v4v39M1797.4 570v21v37v13v29v28v125v27v7v4v53v7v265v24v106v7v1v83v31v73v58v15v37v17v43v47v13v35M1799.6 673v3v154v85v45v120v21v9v11v63v8v25v35v9v6v62v43v46v196v9v35v26v11v59v19M1801.8 554v57v137v3v16v42v15v281v4v49v9v37v53v100v49v16v75v61v1v30v9v8v7v39v19v44v7v21v29v15M1804 558v132v21v64v33v94v66v69v18v13v3v5v29v14v77v17v133v91v25v23v30v11v187v54v36M1806.2 585v42v5v96v29v18v61v5v54v42v61v46v53v66v176v27v5v77v115v12v13v24v15v9v10v40v34v48v16v9M1808.4 609v38v76v61v43v7v38v118v53v69v42v29v70v20v7v50v7v85v132v41v3v34v18v37v15v44v11v48M1810.6 672v26v53v53v17v135v46v5v19v2v92v37v34v123v145v7v95v128v82v5v9M1812.8 894v22v75v74v59v111v6v43v28v71v27v96v6v20v68v6v16v8v52v8v14v30v41v11M1815 553v44v84v31v6v30v55v33v105v27v150v60v97v201v28v14v12v16v22v13v12v33v1v11v22v125M1817.2 553v16v172v11v46v17v102v27v45v54v20v76v7v32v22v56v130v34v15v126v8v94v5v8v53v42M1819.4 617v57v86v64v74v70v8v90v33v128v48v57v89v51v3v40v52v41v6v12v19v3v51v34v14M1821.6 705v27v115v53v45v11v81v114v43v111v182v24v2v73v29v3v30v10v10v10v6v8v3v14v50v16M1823.8 722v206v40v53v62v41v54v213v8v41v71v1v41v2v6v11v35v34v23v15v2v61v9M1826 790v38v49v51v19v7v15v44v44v74v119v41v55v13v107v10v5v19v62v5v142v96M1828.2 627v4v16v5v14v100v6v58v32v7v55v8v18v6v113v14v12v55v7v30v24v5v2v24v78v66v14v59v24v1v13v107v23v31v62M1830.4 623v127v164v3v46v26v22v12v129v51v67v8v15v195v65v35v1v32v19v35v33v86v25M1832.6 562v84v11v30v1v59v1v17v7v21v150v120v4v78v40v90v24v15v247v18v9v15v5v15v47v7v19v56v1v7v36v12M1834.8 686v79v32v25v65v20v60v6v34v14v53v92v155v49v40v51v33v9v94v12v3v37v19v17v45v1M1837 586v178v38v9v142v61v52v406v35v54v148v2v90M1839.2 737v50v14v6v21v7v86v81v105v104v84v91v149v100v122v17M1841.4 562v22v25v155v141v2v9v72v92v22v35v9v30v23v97v67v41v4v22v56v56v68v9v1v97M1843.6 565v58v46v138v50v23v74v22v104v76v74v71v15v94v47v23v7v78v22v41v144v9M1845.8 685v71v3v21v85v18v73v3v11v13v70v7v70v27v20v47v40v10v10v14v20v2v47v52v44v54v11v60v17v26v30v2v4v6v52v20v52v14M1848 564v15v220v11v82v22v31v21v50v68v66v79v2v77v107v79v48v18v11v1v13v36v14v21v28v49M1850.2 813v13v1v80v135v72v45v1v37v9v12v38v17v54v26v1v30v91v67v80v24v11v64v49M1852.4 607v80v20v64v6v36v38v10v74v18v13v153v6v90v85v6v125v64v36v7v6v60v3v16v21v7v20v24v32M1854.6 678v61v78v65v179v78v80v70v84v3v172v47v34v13v50v29v7v4v27v2v19v20M1856.8 628v162v8v62v7v9v63v37v7v61v8v113v59v44v20v86v5v74v36v4v42v17v79v42v1v3v106M1859 639v169v167v24v6v15v4v207v21v64v26v18v75v34v22v15v62v49v12v10v22v6v33v77M1861.2 580v11v124v26v100v6v88v22v53v14v28v22v45v18v5v84v29v9v121v39v8v175v116v7v1v25v42v3M1863.4 586v63v169v177v210v81v1v8v46v79v40v53v11v8v11v48v32v65v1v81v39M1865.6 570v35v7v63v66v86v95v236v399v73M1867.8 708v145v3v63v33v140v177v55v150v35v55v18v220M1870 567v155v114v11v98v27v21v15v39v6v222v190v7v265v21M1872.2 606v50v268v23v25v56v189v2v37v97v13v233v15v49v25M1874.4 617v70v8v18v236v84v22v18v152v39v69v4v15v105v92v43v150M1876.6 680v8v45v64v232v116v172v21v22v7v74v272M1878.9 774v180v80v61v109v1v107v24v11v4v19v97v1v80v7v6v46v2v18v76v52v27M1881.1 675v175v163v8v114v103v64v115v23v39v35v39v46v2v14v4v32v21v24v76M1883.3 574v90v121v49v63v90v45v7v1v7v19v47v115v5v49v118v8v58v9v37v21v18v36v14v58v6v78v45v8M1885.5 706v18v47v57v59v5v8v13v240v49v14v17v3v47v46v81v5v3v4v31v64v48v7v9v45v48v1v14v75v22M1887.7 553v12v79v198v54v110v54v25v13v15v46v14v146v16v25v39v21v75v64v153v47v22v7M1889.9 796v111v13v4v32v96v36v6v95v26v53v61v84v10v56v51v64v30v126M1892.1 867v5v2v40v71v7v184v35v44v100v19v18v8v117v21v8v34v38v13v45v13v29v18v9v3v1v37v29M1894.3 572v38v32v122v15v70v10v28v76v41v12v34v38v11v4v58v69v13v57v26v31v25v14v23v47v69v17v22v31v6v44v28v13v15v28v11v49M1896.5 570v30v92v112v8v21v23v92v71v20v25v10v89v37v100v164v51v48v4v18v18v5v69v19v18v84M1898.7 587v77v50v93v40v24v90v7v51v5v62v13v6v92v4v26v143v3v33v67v77v26v8v9v1v18v40v11v2v45v19v64v6M1900.9 588v30v27v20v18v166v36v3v69v9v28v130v15v52v59v9v17v82v26v57v97v49v1v3v22v45v3v2v68M1903.1 555v13v6v69v17v14v7v6v75v34v133v80v32v30v42v7v166v121v77v58v85v6v48v2v45v15v11v25v4v14M1905.3 607v94v113v12v12v36v47v58v11v52v32v154v102v63v128v32v10v35v8v28v40v30v4v1v7v71v6v5v19M1907.5 590v26v102v5v44v8v18v7v6v28v39v100v77v17v2v8v70v74v42v20v10v86v14v182v8v38v5v4v25v5v57v110M1909.7 700v127v27v1v5v20v21v21v6v11v76v123v20v29v8v185v78v21v35v11v61v32v12v35v67v47v18M1911.9 604v48v134v72v55v24v35v74v20v4v123v150v31v19v33v2v2v131v33v58v1v45v1v81M1914.1 579v55v115v2v2v70v15v30v103v1v27v32v32v10v60v65v42v15v33v85v104v28v4v145v153v30M1916.3 725v56v4v12v20v17v1v20v19v13v62v59v11v8v92v40v94v77v81v190v8v48v8v96M1918.5 584v55v14v24v21v3v100v78v109v49v131v113v70v50v15v1v1v14v19v9v35v9v40v3v22v20v9v3v91v88M1920.7 612v13v53v18v13v48v16v15v77v16v2v1v9v23v6v34v27v23v8v15v125v53v16v115v108v9v28v11v27v17v19v6v6v16v3v20v123v3v6v11v6v17v14v13M1922.9 689v26v22v11v45v4v64v141v67v5v27v53v30v50v21v3v48v57v23v125v7v115v28v1v25v47v26v9v40v6M1925.1 650v4v4v118v5v110v20v9v47v73v4v59v10v18v9v25v13v147v56v25v85v51v8v83v15v7v4v3v116M1927.3 587v180v62v73v22v28v22v2v8v29v112v95v202v60v83v30v7v13v1v6v1v28v65v59M1929.5 745v40v7v4v9v32v32v7v29v19v13v29v9v35v27v145v65v28v36v54v106v73v41v29v49v6v16v23v61v78M1931.7 664v15v60v6v2v51v15v84v40v9v4v17v43v8v77v71v43v55v36v7v2v28v142v24v12v12v75v32v19v108v23M1933.9 691v59v149v53v8v5v79v28v58v28v122v5v18v34v25v41v120v20v14v33v47v11v26v30v108M1936.1 562v8v232v14v37v22v2v61v15v92v45v105v24v137v8v20v9v71v44v140v55v89v3v18M1938.3 687v49v79v52v16v110v64v11v79v123v27v45v89v34v27v9v61v1v2v11v14v37v11v65v43v23v45M1940.5 690v39v37v3v85v27v21v38v21v42v78v16v117v78v36v12v53v6v18v97v22v4v9v7v27v12v44v6v171v32M1942.7 597v18v34v25v9v18v31v52v25v79v16v92v83v15v17v8v16v125v79v23v292v7v8v137M1944.9 584v60v11v86v11v1v87v18v122v55v9v26v79v24v17v113v5v129v101v32v25v4v15v102v17v39v1v16M1947.1 745v207v27v91v14v2v27v20v1v54v31v21v78v58v189v11v33v16v86v36v11v74v19M1949.3 645v68v10v8v103v8v65v49v20v82v47v4v105v24v17v22v21v205v31v56v1v18v2v16v76v43v59v16M1951.5 607v8v45v29v41v35v20v71v12v9v68v71v20v54v26v61v113v35v37v59v33v174v47v27v25v72v10M1953.7 616v31v22v26v8v35v28v9v45v3v149v41v133v19v15v3v4v57v102v43v41v93v24v7v3v8v72v14v70v13v10v7v2v3v1M1955.9 580v19v72v28v63v46v127v92v7v137v19v88v125v6v120v14v9v17v18v3v101v21v6v2v2v35v8v3v80M1958.1 632v10v8v12v22v2v13v149v54v81v68v7v52v14v27v23v42v19v1v26v8v25v74v69v82v23v44v8v56v113v10v33M1960.3 833v125v61v73v61v46v6v89v7v57v12v232v6v2v3v11v4v1v26v109v53v8M1962.5 555v39v25v53v142v33v18v33v63v51v21v6v8v120v12v19v8v44v38v58v11v10v157v21v21v17v12v28v51v8v3v33v49M1964.7 565v107v10v67v15v13v43v68v29v36v156v14v49v22v16v11v97v4v36v82v78v65v140v40v43v21M1967 663v75v43v12v17v4v17v209v30v22v40v54v45v39v56v15v193v57v38v7v6v11v23v51v1v25v8M1969.2 601v44v8v8v16v42v3v31v22v21v19v90v95v61v150v69v57v12v132v43v16v25v50v4v73v11v16M1971.4 653v41v24v60v3v10v11v67v37v35v59v12v11v65v12v60v124v89v13v36v51v4v64v21v22v4v6v36v18v17v4v40v69v1v16v29M1973.6 559v5v1v117v10v197v216v27v41v156v9v33v5v36v37v76v8v5v4v17v1v33v25v10v12v25v64v13M1975.8 630v83v3v25v7v58v47v35v190v19v33v74v20v36v12v34v5v18v124v29v10v53v34v51v24v6v57v25v34v42M1978 562v124v7v31v55v91v79v50v22v89v51v13v9v9v11v40v41v39v76v120v28v27v11v35v13v20v10v26v36v12v17v7M1980.2 577v170v55v376v25v10v8v71v16v41v121v6v22v16v107v65v27M1982.4 609v3v2v98v7v115v3v17v119v132v75v36v16v42v41v69v3v98v42v79v22v1v50v30v57M1984.6 620v30v35v39v26v11v8v17v55v24v11v6v54v6v17v18v7v130v50v15v143v25v20v15v2v42v178v4v31v46v34v21v4v6v11v20v8v4v26v6M1986.8 808v9v395v42v48v251v31v4v13v8v46v10v29v39v48v40v9v5v20M1989 577v73v134v36v68v59v11v46v45v12v26v26v7v5v4v76v145v13v24v76v18v13v84v5v52v25v33v56v19v28v3v24v3M1991.2 702v82v132v142v12v7v68v8v133v13v3v29v40v5v46v26v46v24v58v72v47v53v55M1993.4 808v12v1v13v44v24v199v158v60v7v50v88v56v50v73v18v63v1v2M1995.6 719v57v14v83v76v105v48v6v117v39v76v25v21v12v29v2v55v54v1v99v16v125M1997.8 598v115v14v13v8v64v28v63v2v21v37v75v26v235v57v20v6v80v12v24v12v99v5v6v54v3v16v3v70v17v39v36M2000 751v16v2v62v3v76v15v241v127v97v60v55v74v5v3v17v3v27v41v6v123v1M2002.2 622v28v33v14v60v24v16v2v79v9v35v43v54v69v73v169v62v7v55v44v72v44v6v51v9v62v46v1v32v17M2004.4 591v5v5v1v42v36v16v149v14v51v71v28v1v157v23v19v3v195v17v37v37v98v20v10v8v73v5v38v42v19M2006.6 568v168v20v28v49v10v3v93v36v56v47v84v13v5v94v83v54v172v10v12v42v11v149M2008.8 618v10v34v75v14v2v22v3v34v44v60v19v73v134v58v6v145v39v9v12v31v69v44v21v22v34v25v3v30v5v17v4v47v12v57M2011 683v6v23v4v91v76v204v4v16v160v9v25v88v10v31v38v5v157v7v21v1v24v38v24v17v49M354.4 567v248v5v3v5v5v12v271v21v17v4v129v103v135v5v4" marker-start="url(#mg)" marker-mid="url(#mg)" marker-end="url(#mg)"/>
<path d="M249 322v136v52v39v1v37v22v83v35v37v54v19v5v33v48v81v50v40v44v9v36v6v4v119v12v22v21v62v4v21v24v6v2v61v19M251.2 433v42v43v31v51v86v17v47v38v64v32v50v1v109v132v12v70v4v60v13v90v16v5v8v52M253.4 486v5v43v11v84v107v2v13v35v90v59v7v54v9v4v83v41v116v10v21v11v10v6v32v17v18v9v9v41v51v7v48M255.6 337v298v11v23v65v7v10v20v72v41v15v21v170v35v14v98v11v13v52v3v32v25v50v22v69v27M257.8 587v25v54v92v36v76v16v101v17v41v12v70v5v68v10v8v11v38v18v72v44v13v38v5v9v8v1v13v8v16v19v17M260 446v16v16v6v14v38v31v76v23v10v20v10v50v54v84v44v20v2v19v39v58v24v7v6v26v60v7v22v14v3v27v13v5v6v32v14v55v2v16v4v12v20v2v13v56M262.2 371v34v78v2v29v35v4v29v11v29v14v23v11v16v12v31v27v80v18v34v29v126v17v9v11v82v157v42v14v11v34v65v47v3v19v20M264.4 455v26v42v10v37v3v9v5v13v24v59v98v40v28v26v4v110v111v50v31v79v11v24v40v28v42v32v39v25M266.6 377v98v17v36v2v8v5v6v44v18v105v16v4v1v53v17v5v15v23v33v118v4v113v5v51v1v4v1v43v8v43v4v53v6v9v11v29v50v16v6v1v26v25v14v15v6v3v11v29M268.8 368v74v29v45v130v31v4v79v7v17v85v4v30v118v7v8v82v38v28v41v7v19v10v60v58v15v6v22v45v24v43v22M271 353v52v82v14v11v11v6v24v18v26v20v135v164v169v16v49v4v21v44v37v13v11v5v10v48v4v16v2v19v3v33v47v19v46v2v18v27M273.2 385v72v29v13v1v9v2v27v142v36v2v9v32v11v17v91v161v6v96v50v14v15v58v16v6v38v78v20v23v8v2v34M275.4 341v26v105v6v5v9v34v16v8v29v2v2v29v15v54v7v20v5v17v105v29v19v54v19v26v4v77v25v27v23v18v39v22v40v42v26v13v5v149v6v18v16v3M277.6 515v15v1v5v13v39v1v70v16v6v37v29v14v142v6v56v16v52v8v72v24v12v20v13v2v23v17v147v36v26v1v22v10v32v9M279.8 347v144v36v19v17v49v22v15v3v4v117v37v57v8v35v63v67v41v51v19v40v74v72v22v28v23v55v13v66M282 415v31v40v26v86v15v71v16v7v4v5v72v65v39v1v10v29v30v37v14v4v104v86v5v78v26v7v15v72v78v54M284.2 352v46v5v19v28v22v11v8v52v35v21v8v53v8v21v33v15v128v33v1v16v10v25v29v5v71v12v186v9v20v29v53v1v34v2v44v31v11M286.4 454v30v10v32v4v12v6v6v2v29v14v25v151v12v43v15v51v31v2v40v23v22v41v31v40v5v119v3v1v5v8v36v31v78v1v25v29v5v35v8v4v21M288.6 398v92v16v35v8v20v14v14v153v19v15v47v16v37v29v17v10v26v87v32v87v1v21v3v21v34v9v29v18v25v24v9v19v7v83v48v30M290.8 327v132v27v54v3v17v3v56v8v6v24v37v42v23v85v6v93v60v14v3v111v48v16v21v5v53v44v17v36v99v12v42M293.1 368v207v22v12v2v6v79v79v22v2v2v36v56v70v52v44v34v3v94v34v131v44v31v16v108M295.3 460v12v52v3v47v78v22v28v29v3v2v17v22v22v21v19v97v100v31v3v41v7v19v11v76v18v47v26v1v19v8v2v22v20v51v4v18v22v11v20M297.5 464v4v50v22v16v30v34v25v27v35v27v16v5v16v128v108v3v145v41v76v33v56v37v24v19v59M299.7 435v32v24v21v76v92v10v7v92v225v16v31v143v11v6v12v19v11v74v16v42v30v22v22v7v79M301.9 479v33v14v18v12v5v20v20v47v4v2v17v25v35v26v65v23v54v32v11v47v22v26v12v6v23v38v16v57v28v32v14v17v15v9v5v27v9v2v109v26v18v50v11M304.1 475v20v54v2v22v5v3v41v30v69v104v23v3v16v159v66v11v39v59v15v16v59v54v7v2v6v5v20v29v5v14v21v105M306.3 402v80v9v1v7v86v17v1v30v13v4v27v21v34v56v37v1v6v10v70v79v158v13v1v32v66v20v2v15v14v16v2v40v16v10v12v89v46M308.5 327v17v147v9v24v2v97v8v31v24v98v36v45v16v9v13v18v111v22v6v25v62v7v129v38v16v2v50v6v9v43v1v12v46v34v42M310.7 384v82v25v1v35v39v37v31v4v69v21v10v21v53v66v26v15v43v10v17v85v13v31v25v16v122v19v2v31v110v33v25v16v18v12v43M312.9 520v92v32v40v64v6v59v8v21v2v33v19v71v36v63v20v4v50v71v7v107v4v57v9v5v13v10v3v17v5v8v34v23v2v35v17M315.1 396v41v3v47v38v20v40v45v108v128v20v51v6v9v40v188v7v45v86v18v60v60v6v11v8v6v1v17v17v13M317.3 475v29v1v13v66v4v29v2v68v48v132v40v20v8v17v12v58v5v54v63v1v106v20v20v59v6v31v48v9v32M341.5 559v461M345.9 1013v7v365M348.1 562v379v80v28M350.3 1008v9v20v347M352.5 552v833M354.7 1009v24v8v505M356.9 917v77M359.1 928v10v82v34v15v322v11v156M361.3 986v21v32v9v16v323v155M363.5 917v22v14v47v71M365.7 554v9v405v101v13v290v24v143M367.9 570v415v46v48v280v43v135v14M370.1 554v344v31v21v16v53v65v295v18v10v150M372.3 552v413v3v42v57v18v304v174M374.5 538v22v6v335v25v14v2v33v2v15v19v56v11v291v175M376.7 540v36v344v63v33v25v15v37v259v11v9v187M378.9 538v1v357v4v2v1v5v25v20v30v58v32v8v3v265v6v1v4v43v134M381.1 562v353v9v27v69v24v5v4v13v335v127M383.4 536v29v336v62v19v32v337v18v21v19v9v136v1M385.6 538v29v1v310v66v52v17v29v7v292v11v22v3v2v8v9v2v19M387.8 531v27v24v302v12v6v23v49v11v27v2v1v11v6v41v24v8v251v180v28v2M390 534v366v45v29v92v25v270M392.2 534v5v1v14v10v310v1v1v21v10v25v91v18v294v1v13v65v123v19v5M394.4 538v6v21v21v329v8v14v46v46v24v302v26v42v108v37M396.6 525v7v22v28v297v88v5v1v25v60v3v23v343v91v11v32v3v4M398.8 561v5v8v362v13v110v25v8v11v228v221M401 527v53v283v17v6v8v8v82v10v24v2v12v29v1v11v14v26v279v139v7v29v4M403.2 528v22v21v19v294v23v18v17v65v2v35v2v299v7v21v2v2v2v7v37v84v4v16v1v38v3v6M405.4 369v76v44v61v36v70v24v14v24v45v97v49v96v16v51v59v8v22v1v62v79v14v31v83v13v29v55M407.6 377v5v113v46v2v12v12v17v6v79v74v54v59v37v4v85v3v194v91v4v29v37v87v53v8v15v8v4v16v7v20v16M409.8 395v93v70v11v31v33v27v33v24v30v4v128v20v23v9v14v9v5v29v29v25v42v30v29v123v47v25v50v16v8v10v20v18v64M412 373v97v13v20v26v55v212v46v19v30v65v37v23v36v5v4v18v172v11v7v62v32v34v1v15v22v23v1v23v97M414.2 502v60v85v4v9v178v21v2v56v22v2v3v22v6v2v81v12v46v3v27v137v12v3v8v8v5v29v52v4v23v29v44v69M416.4 541v25v1v82v3v26v8v35v10v2v16v47v29v9v18v59v3v12v8v5v46v63v66v66v55v50v11v1v9v22v78v26v73v46M418.6 375v23v167v44v69v8v40v26v68v9v1v38v12v25v36v31v5v80v45v75v12v51v25v17v90v35v53v14v9v72M420.8 369v48v43v29v65v48v64v78v28v2v25v91v11v56v2v76v100v72v50v19v30v40v26v15v67v12v9v6v35v3v10v22v2v19M423 494v66v29v57v24v38v3v29v96v3v24v6v4v29v27v12v26v47v95v2v68v97v101v8v39v13v36v2v15v9v11v11v12v5M425.2 427v11v24v24v63v107v10v17v2v20v124v36v111v365v8v4v17v11v45v23v46v26v25M427.4 369v2v156v18v16v38v12v14v26v52v26v114v4v43v2v2v48v40v1v18v10v114v27v75v49v50v23v15v4v41v106M429.6 463v8v2v81v66v5v73v23v1v26v39v48v7v5v70v20v3v14v2v14v3v52v101v37v38v85v27v8v16v27v11v59v5v11v24v6v3v18v34v10v2v5v11M431.8 375v10v61v3v26v108v18v40v27v133v31v9v51v48v8v2v7v12v3v25v8v18v14v65v169v1v27v41v40v25v31v13v5v6v27M434 372v16v69v13v10v7v6v55v94v67v21v137v62v78v68v34v21v17v4v100v2v19v23v152v15v6v39v21v29v10M436.2 464v69v1v16v8v3v18v65v134v35v80v37v24v54v47v1v23v41v4v17v82v85v40v8v90v3v11v3v13v6v11v22v5v28M438.4 397v38v94v42v20v12v81v131v32v110v20v70v38v50v4v23v14v44v34v14v36v22v93v27v57v43v25v10M440.6 420v6v1v52v29v59v24v2v21v99v8v44v63v121v17v2v55v5v27v110v42v8v14v93v56v2v9v62v11v16v25v10M442.8 399v81v101v75v102v9v115v15v1v3v41v76v77v271v31v7v16v99v30M445 382v147v28v8v15v22v8v27v82v67v28v191v31v23v6v11v75v68v55v60v49v1v27v15v15v5v8v28v5v23M447.2 502v53v4v34v41v18v8v10v61v72v8v134v25v3v41v37v51v16v82v37v220v1v62v9M449.4 557v25v4v4v19v16v10v1v109v14v10v144v59v72v33v5v19v11v79v2v91v26v23v8v58v12v20v35v59M451.6 388v235v19v17v8v14v6v59v56v65v1v12v6v27v31v44v54v10v12v14v34v60v24v91v27v140v9v33v58M453.8 496v100v9v14v66v141v229v5v9v91v71v35v113v10v82v30v27M456 377v15v53v56v7v49v191v63v30v1v10v34v50v36v100v12v1v1v8v14v53v16v202v37v32v17v16v6v50M458.2 542v6v69v13v29v13v44v25v85v25v129v56v34v27v33v61v152v75v13v9v27v17v47v5v15M460.4 496v49v23v12v61v64v19v57v10v82v4v74v59v65v33v39v19v25v30v8v1v35v12v102v39v5v56v3v29v13M462.6 530v64v2v230v20v72v19v6v1v7v19v82v56v13v22v298v20M464.8 389v5v26v64v132v87v185v135v62v16v45v41v3v17v88v45v39v21v29v24v37v2v7v17v30M467 407v8v24v122v18v3v24v23v12v12v82v21v171v57v186v24v44v6v207v86M469.2 400v18v6v99v2v14v57v48v15v167v18v7v42v21v26v117v5v36v24v14v72v52v12v29v52v81v14v5v89v19M471.5 549v90v11v102v61v15v19v14v34v168v18v16v32v32v11v53v4v64v9v126v81M473.7 529v4v95v98v44v20v188v74v1v21v2v8v57v26v45v12v110v24v35v10v20v31v26v18M475.9 511v14v24v36v4v4v11v7v33v36v57v30v55v227v12v8v15v2v50v44v40v13v12v19v87v192M478.1 382v11v20v81v159v67v120v99v11v1v144v29v22v162v37v36v60v38v17M480.3 386v22v21v90v69v18v8v118v34v46v4v251v123v5v1v32v58v47v78v53v3v32M482.5 408v14v2v90v12v23v3v36v43v29v4v15v46v134v25v21v183v39v15v4v10v59v225v7v1v91M484.7 418v129v78v28v8v7v67v2v70v2v8v54v8v76v145v194v44v46v27v67v15v23M486.9 381v206v20v25v13v155v50v24v71v117v17v8v41v66v126v69v4v99v27v21M489.1 401v106v86v65v8v15v39v10v41v21v6v149v127v4v194v13v73v16v5v69v6v36v25M491.3 409v179v44v5v241v30v138v111v70v155v75v35v16v13v7M493.5 428v203v14v31v40v10v58v47v34v57v6v334v2v13v94v49v58v2v56M495.7 393v191v69v11v5v21v29v106v30v75v141v12v31v1v24v31v96v41v106v26v37M497.9 632v26v150v133v17v392v79v63M500.1 496v8v216v11v52v52v126v109v7v39v140v109v35v47v35v9M537.5 415v103v31v13v6v7v5v65v3v15v19v16v3v39v36v208v107v1v34v37v31v21v8v19v43v48v38v25v8v56v9M539.7 403v24v154v17v2v36v6v111v85v257v17v60v3v34v19v1v85v4v23v3v53v39v73v1v14v23M541.9 481v12v71v3v25v10v17v2v33v25v23v16v6v4v7v43v333v157v32v67v1v12v34v14v6v15v39v19v42M544.1 444v10v80v19v11v54v83v50v12v12v13v84v241v52v63v40v1v1v15v43v71v25v44v19v24v21M546.3 494v64v79v41v6v7v3v60v19v19v145v67v20v3v105v5v32v130v3v62v55v9v9v13v36v1v16v26v17M548.5 468v36v37v1v8v7v14v9v8v21v39v4v17v14v24v5v12v33v197v202v60v90v24v49v1v35v8v8v12v34v13v29v37M550.7 399v59v19v48v143v8v6v18v55v98v251v5v33v12v3v11v11v12v92v22v20v68v35v14v20v3v17M552.9 473v32v45v68v35v3v31v11v37v32v7v78v2v80v34v169v4v1v21v31v2v1v42v20v62v35v11v16v3v11v20v8v4v84v34M555.1 494v22v7v7v113v12v53v32v145v245v46v15v17v22v58v55v5v5v36v72v36v36M557.4 546v19v83v4v1v62v21v11v75v62v57v54v121v52v29v12v50v18v11v85v18v37v2v13v12v72v3v10M559.6 460v60v6v12v2v3v5v21v68v24v28v56v18v38v15v143v155v29v3v50v73v12v154v116v17M561.8 431v93v83v12v20v10v3v4v21v33v17v18v77v45v8v178v10v49v65v47v15v70v18v43v13v2v4v7v17v24v58v11M564 422v14v96v53v29v30v1v39v4v27v31v23v91v18v67v99v22v16v53v77v4v15v10v18v41v4v8v91v10v5v8v30M566.2 433v76v3v1v37v12v10v63v9v41v29v47v82v218v85v14v63v50v59v36v3v21v47v25v2v4v7v12v54M568.4 437v97v26v47v6v52v43v28v225v228v35v6v1v12v2v80v43v11v15v39v58v65M570.6 435v30v61v65v46v38v7v47v6v20v67v262v4v3v3v8v25v6v19v43v5v120v48v58v21v33v15M572.8 407v12v118v4v4v2v10v9v9v133v26v29v118v91v172v18v99v29v27v15v14v3v6v5v13v46v5v3v4v113M575 435v18v122v3v15v39v7v38v38v37v160v5v11v56v91v85v3v37v50v16v27v56v21v15v7v14v19v12v6v19v18M577.2 469v79v13v18v11v10v20v35v17v27v4v10v318v191v6v21v13v15v33v4v59v27v13v8v8v39v6v14v17v59M579.4 438v22v137v89v5v44v6v1v4v19v13v108v198v9v11v37v53v146v70v39v21v1v9M581.6 427v148v41v3v5v26v19v47v22v27v60v42v6v125v64v31v80v4v14v7v50v46v5v80v11v8v5v34v55v17v15v21M583.8 449v92v154v5v27v19v279v151v9v31v5v11v44v3v39v7v2v73v88v25v13v31v20M586 488v86v66v31v21v33v1v8v9v125v12v100v19v67v71v11v62v12v124v30v34v44v46v46v30M588.2 529v51v46v27v63v11v29v6v384v131v1v84v10v83v70v2v4M590.4 418v120v44v9v15v15v13v7v3v32v55v22v321v26v30v58v4v2v15v9v20v15v24v30v28v7v18v3v4v6v17v23v8v6v14v1v11v20v17v42v20M592.6 613v8v5v4v38v14v3v23v33v26v102v127v115v61v41v71v6v30v9v11v44v9v36v1v18v24v6v4v11M594.8 448v90v13v3v112v21v14v20v12v2v1v39v2v1v47v174v42v38v29v4v29v9v39v11v80v8v15v51v2v4v21v32v10v108M597 451v68v14v21v7v63v29v38v2v18v397v43v122v9v5v29v39v6v12v18v4v5v36v32v64v39M599.2 418v3v3v74v47v19v79v37v57v38v153v39v14v15v46v67v11v72v59v39v4v22v19v6v10v21v40v21v2v2v64v48v31M601.4 416v26v13v60v22v81v43v11v18v4v14v41v1v192v167v12v27v19v11v26v16v47v32v23v44v38v5v6v17v9v17v24v45v6v20v17v5M603.6 427v4v10v58v43v43v18v33v1v4v124v77v71v48v90v102v13v4v2v42v12v5v61v35v12v17v50v56v12v43v7v54M605.8 431v70v16v38v9v30v39v20v17v26v5v3v26v104v170v158v44v16v46v12v77v61v28v6v1v2v5v43v8v1v2v2v22v7v3v12v3M608 447v50v9v34v14v39v61v48v23v17v30v295v36v55v15v71v26v10v1v55v60v31v20v10v10v84M610.2 548v5v21v16v17v47v1v83v18v6v93v144v35v29v6v53v5v56v32v59v65v38v16v63v18v3v72v22M612.4 421v137v89v47v64v1v53v15v110v241v33v8v15v62v24v8v15v7v12v28v16v78v36v35M614.6 449v78v2v31v16v4v9v3v91v47v8v4v20v1v135v111v9v112v14v48v15v5v22v2v47v15v3v55v8v16v12v3v29v14v16v1v104v25v2M616.8 451v72v35v5v56v12v10v31v4v20v11v35v31v5v3v169v208v51v1v91v41v51v56v1v2v2v8v7v73v5v26M619 470v32v43v82v9v37v3v16v55v272v41v3v70v28v38v11v37v79v3v24v12v27v61v106v8M621.2 432v92v12v29v49v2v5v1v36v11v45v11v8v16v35v92v7v19v42v250v44v2v7v57v4v28v9v50v3v18v19v25v67M623.4 441v13v43v12v61v84v9v3v9v25v324v226v48v13v16v61v1v2v91v6v54v12v19M625.6 433v89v52v3v7v11v32v8v5v22v18v7v1v32v51v3v47v202v101v24v57v6v1v1v75v12v27v65v7v5v28v1v5v30v25v6M627.8 420v5v98v1v10v6v46v15v27v11v10v4v39v13v33v31v16v25v117v25v20v164v57v1v89v23v20v12v23v71v24v41v9v7v14v2v6M630 444v7v62v26v25v29v17v13v1v20v24v4v4v10v26v23v4v19v47v51v46v78v79v128v12v8v6v8v33v15v22v26v13v12v82v9v24v2v34v54v5v19v23M632.2 438v1v79v152v10v36v7v10v10v6v67v332v14v24v61v90v45v26v1v18v1v78v6v8v28v29M634.4 526v10v62v10v1v24v3v1v4v28v208v18v294v16v30v17v10v6v4v63v34v5v10v6v16v84v17v4v8v44v10v2v7M636.6 599v19v18v17v22v7v6v16v30v8v17v255v149v25v17v7v5v31v17v54v2v120v28v3v40v24v14M638.8 530v24v4v18v25v45v5v16v5v2v16v9v28v62v27v1v36v18v36v224v69v86v12v12v48v1v16v51v2v3v31v9v15v32v2v44v8M641 451v54v35v13v37v14v25v5v51v5v7v9v41v42v257v88v3v36v27v14v29v11v37v90v105v4v15v25v2v5v33M643.2 494v87v46v3v37v47v423v41v15v14v72v17v103v18v103v42v3v13v8v3M645.5 431v38v12v83v43v5v11v20v7v26v13v10v10v29v50v273v80v9v4v19v36v10v79v19v2v21v29v5v27v22v33v12v116v3v2M647.7 497v81v3v7v15v26v19v39v23v16v16v24v45v85v212v139v3v3v48v25v30v1v15v10v26v7v10v1v15v1v2v26v22v19v18v10v8v1v21M649.9 532v35v72v30v58v30v110v81v81v49v35v21v51v1v4v4v86v81v30v49v4v39v7v11v20v3v32v45M652.1 524v4v11v111v41v8v23v37v37v178v127v61v14v12v6v113v57v34v43v46v7v74v2v5M654.3 1332v11v81v2v34v67v26M656.5 1332v8v14v29v4v12v19v76v40v2v13v10v5v1v17v17M658.7 1337v30v5v10v6v6v3v27v58v59v48M660.9 429v62v29v6v19v69v8v59v4v56v16v11v11v7v71v120v137v8v89v5v34v5v26v62v42v17v59v11v52v19v27M663.1 481v26v65v38v8v64v80v8v221v25v154v43v12v26v73v11v15v25v26v71v8v17v8v33v7v19M665.3 465v47v13v19v81v59v114v146v74v23v96v7v43v35v59v27v16v37v17v8v26v10v38v10v7v2v21v19v8v21v5v26M667.5 523v80v9v7v1v115v151v8v24v29v47v27v181v47v7v12v25v33v27v1v1v9v31v72v29v27v9v33v3v5v4M669.7 432v30v62v47v8v5v104v37v11v1v24v10v39v2v59v146v151v14v1v16v32v2v25v1v25v42v5v112v4v87v27v38M671.9 493v38v72v14v5v8v13v1v69v28v43v163v64v3v95v50v27v38v10v26v24v9v24v83v6v1v46v13v27v44v6v1v7v48M674.1 512v15v25v69v41v6v8v23v46v35v15v37v43v183v24v131v14v3v58v30v42v1v7v12v3v35v14v12v23v10v12v65v6v36M676.3 473v28v3v26v96v14v21v37v25v6v8v4v17v149v51v54v6v22v48v39v3v96v23v13v10v7v6v11v51v41v61v14v3v36v91M678.5 450v16v36v84v11v31v1v29v16v4v48v51v162v26v130v48v54v20v43v39v45v17v13v25v24v46v69v10v45M680.7 456v3v140v9v14v42v17v58v60v3v60v49v104v13v17v92v21v19v15v19v4v3v7v57v14v12v123v25v96v29v9M682.9 497v6v24v37v19v17v5v53v12v2v11v25v4v74v28v41v61v17v14v74v7v133v7v6v132v9v14v6v10v17v3v26v5v13v30v20v11v49v1M685.1 457v78v3v146v66v111v106v13v66v39v55v6v12v10v50v7v21v1v31v13v44v36v21v37v2v12v47v4v12v7v37v21v12M687.3 447v118v5v9v3v27v27v42v5v12v13v2v49v224v138v80v69v36v1v6v42v51v1v26v32v99v7v19v9v16M689.5 464v28v35v97v11v79v32v65v129v167v15v23v44v9v44v16v27v7v4v72v2v10v94v27v32v6v1v18v14v11v16M691.7 530v28v96v21v2v7v19v92v2v2v1v165v6v62v135v9v2v11v13v16v23v58v18v27v10v63v17v1v28v9v51v10v4v20v15v17M693.9 450v54v148v12v40v16v34v8v11v53v8v14v9v33v43v212v63v4v3v48v21v59v39v7v12v22v34v40v21v5v61v17M696.1 500v46v83v5v35v53v67v32v89v34v6v216v180v57v9v3v14v12v43v37v5v7v9v6v23v10M698.3 622v116v61v59v54v6v12v20v27v36v124v42v7v10v7v49v8v23v16v46v23v2v19v9v21v51v47v33v14M700.5 553v33v15v25v10v49v11v69v83v80v17v8v90v53v78v16v108v38v20v47v80v29v46v20v29M702.7 439v102v9v11v64v1v16v77v43v14v58v168v10v173v61v14v22v3v15v49v31v15v20v28v56v20v10v28v5M704.9 491v13v57v57v14v15v1v30v20v15v8v99v71v2v15v22v10v99v62v188v18v67v20v46v1v7v20v64v57M707.1 531v47v25v10v15v7v2v57v3v144v26v35v105v132v64v12v80v94v58v2v62v20M709.3 450v50v37v1v37v23v23v52v9v7v3v48v19v6v28v175v38v229v23v25v5v102v85v13v27v2v27v52M711.5 546v7v2v96v16v3v1v15v39v17v58v24v135v78v47v5v32v33v73v50v26v20v10v43v120v4v49v45v20M713.7 443v23v63v36v34v29v11v47v11v25v4v68v1v12v6v74v103v203v25v34v4v40v32v28v63v52v11v83v30M715.9 444v56v15v3v3v1v22v8v38v49v7v6v30v18v7v478v28v29v38v24v8v12v7v11v39v33v156v33v19M718.1 526v4v63v36v63v34v25v16v6v12v62v3v9v11v141v53v31v2v21v56v70v15v10v16v4v53v41v112v15v12v23v13v23v13v3M720.3 547v66v10v142v23v15v122v20v55v16v55v61v44v40v7v268v18v58v7v42M722.5 498v46v39v54v40v6v3v3v21v12v19v7v19v39v95v144v7v28v5v129v26v39v18v6v38v19v53v184M724.7 482v66v48v5v20v16v1v88v66v3v167v58v4v34v93v54v2v38v52v17v41v2v92v51v12v10v42v12M726.9 452v38v192v17v38v3v3v8v37v59v68v57v31v15v135v17v85v296v15v5v23v36M729.1 450v75v48v58v29v5v22v17v54v50v123v101v91v94v27v46v5v46v56v2v102v41v33v44M731.3 608v12v39v16v40v9v32v1v25v144v6v17v14v72v118v4v115v20v59v37v139v42v12v20v4v23v5M733.5 447v24v70v9v55v9v29v8v36v18v60v71v98v31v48v65v42v81v51v95v27v3v54v11v90v29v22v3v3M735.8 563v15v31v10v4v21v4v12v25v24v1v30v30v7v1v3v4v22v77v19v121v41v3v27v70v49v41v6v36v47v109v123v27M738 454v54v6v1v26v37v10v9v86v57v7v29v95v118v102v42v3v19v41v93v3v44v14v82v45v18v1v30v80M740.2 615v12v3v15v32v26v11v8v1v76v187v264v13v2v36v36v2v3v33v31v113v16v30v13v5v7v5v2v5M742.4 445v100v71v37v33v24v7v28v7v160v109v9v12v65v16v25v47v38v15v19v27v18v28v32v23v110v35v25v36M744.6 595v24v16v14v68v122v55v34v8v140v36v1v5v55v22v16v38v46v36v49v118v1v32v81M746.8 454v115v23v87v8v13v16v10v47v34v74v74v19v13v1v150v56v5v1v43v2v11v19v106v3v31v32v60v11v34M749 475v19v157v17v13v14v3v2v140v139v39v28v84v35v48v4v110v64v8v5v29v18v23v14v44v11v36v55M751.2 454v127v8v1v49v9v21v19v4v9v48v39v29v218v52v75v23v1v129v30v10v45v4v62v31v14v42v14v53M753.4 498v44v21v17v24v19v19v37v13v11v24v8v18v4v113v110v185v17v78v65v95v55v42v18M755.6 475v45v2v24v8v45v98v85v11v114v8v89v47v14v138v15v77v44v9v11v106v75v14v26v1v1v4v20v4M757.8 521v34v16v3v12v49v57v20v47v29v120v54v191v9v69v30v19v121v42v6v31v10v20v15v68v6v32M760 510v20v62v8v1v37v37v23v14v34v4v7v10v24v271v19v207v14v52v80v83v27v22v5v20M762.2 495v39v23v33v8v12v57v30v8v22v9v34v21v7v64v22v101v50v9v80v8v19v32v4v18v140v31v53v30v83v16v21v5v6v11v14v3v19M764.4 533v14v15v42v1v44v41v1v103v13v69v65v66v57v6v28v21v11v12v20v1v25v46v9v44v55v4v63v2v31v65v17v24v5v26v56v3M766.6 476v40v4v15v22v8v50v5v38v9v5v27v29v10v31v325v167v100v97v77v21v53v12v10v10M768.8 514v22v23v15v36v119v23v261v27v28v10v155v86v21v27v59v213M771 502v50v24v28v11v7v33v1v42v41v20v278v44v10v2v14v23v31v25v2v25v106v107v69v5v11v16v6v10v22v11v7v25v26M773.2 499v18v2v21v27v11v14v7v9v2v17v1v3v69v88v128v42v4v84v24v93v106v13v5v10v69v43v69v45v41v28v24M775.4 489v54v32v42v16v1v27v5v64v9v54v46v35v108v58v41v18v32v42v116v38v12v120v18v37v34v18v32M777.6 612v7v25v38v43v94v113v125v22v57v18v29v20v40v57v58v104v18v3v8v78v55M779.8 456v6v18v15v1v43v108v1v65v17v4v16v32v431v74v13v158v134v3M782 568v19v3v48v60v26v75v100v88v110v52v28v125v60v4v279M784.2 472v40v49v1v9v13v12v93v28v5v43v39v18v238v38v43v53v45v127v62v22v20v19v29v15v42v18v4M786.4 482v29v5v60v62v15v3v24v86v29v16v20v158v33v16v45v23v41v61v32v39v78v78v16v92v19M788.6 493v4v25v53v7v24v62v55v246v96v3v13v81v17v181v160v51M790.8 514v14v18v5v45v11v8v74v62v9v137v8v8v164v16v19v92v85v64v137v8v92v15M793 564v51v5v8v47v16v35v29v31v28v137v82v8v57v12v9v120v5v274v50v16v25v1M795.2 527v27v8v51v18v1v1v19v1v30v31v31v11v27v45v144v102v26v28v2v38v15v75v43v224v2v10v7v50v33M797.4 501v47v6v10v10v28v6v2v6v17v12v42v129v24v36v10v93v38v31v43v17v8v198v5v46v4v31v27v40v5v110M799.6 493v27v32v43v4v46v57v10v6v74v77v31v16v40v3v74v85v28v30v35v90v4v24v20v99v21v25v50v60v2v1v36M801.8 517v26v7v20v50v12v44v6v3v34v20v13v14v128v39v113v64v142v42v36v31v17v145v41v55M804 464v53v20v30v20v7v41v8v82v34v79v36v27v12v103v77v18v2v13v9v80v52v11v81v96v18v38v47v21M806.2 475v54v22v47v27v15v25v167v84v3v10v51v51v3v11v45v153v39v70v101v83v6v52v11v3v12v5v17M808.4 506v20v6v15v17v6v60v35v43v28v7v36v86v26v9v25v37v155v33v72v2v23v22v23v1v34v122v16v47v2v74v44M810.6 565v9v27v13v4v17v29v73v41v1v49v5v33v69v191v23v87v62v39v28v26v58v73v64v1M812.8 467v56v2v61v1v16v75v67v20v203v50v56v125v230v59v49v29v2v8v34v4v17M815 504v27v34v30v14v46v129v27v157v30v51v42v5v107v38v8v57v4v50v39v15v60v30v69v15M817.2 541v2v34v29v95v27v131v118v64v48v11v9v4v97v133v4v19v119v153M819.4 530v3v18v4v35v58v46v43v102v60v80v46v35v27v21v6v5v79v25v5v169v19v19v156v29v4v16M821.6 536v18v7v24v11v91v4v22v48v21v59v10v36v61v136v15v33v5v1v45v8v74v52v41v47v12v62v16v5v82v6v8v36M823.9 476v44v4v4v14v8v43v15v13v32v11v10v50v13v155v180v23v29v112v17v26v129v24v13v8v90v31v17M826.1 512v16v30v5v15v6v37v89v44v17v23v3v27v287v30v26v20v9v15v37v191v35v14v37v2v55v4v18M828.3 487v18v46v35v2v24v73v42v56v10v73v108v20v59v2v21v22v74v17v63v31v76v27v103v65v14v46v11v9M830.5 493v31v7v21v70v22v143v228v65v26v46v29v19v38v29v39v67v21v32v50v34v86v22v22v2M832.7 476v38v19v20v22v23v7v6v39v70v2v40v20v80v78v83v94v29v31v209v62v112v23v8v14v4v39M834.9 470v42v21v79v47v12v18v8v17v69v204v69v50v13v13v67v22v13v13v73v39v11v41v31v63v68v15v1v18M837.1 531v98v40v3v329v127v83v25v7v86v2v31v32v36v16v32v29v75v27v1v46v2M839.3 476v57v15v77v33v59v38v19v12v180v236v42v70v98v3v17v6v145v16v2v20v38M841.5 515v36v28v11v15v10v25v19v78v16v6v41v92v202v124v16v36v95v34v47v5v15v65v42v21v56v3M843.7 581v8v13v72v65v130v70v93v107v211v142v13v58v31v15v5v10v6v7M845.9 527v1v2v24v51v118v247v38v52v47v53v51v98v27v34v28v16v14v47v4v31v28v42v34v3v8v30M848.1 543v21v75v12v136v4v117v17v8v48v114v14v203v241v12v73v11M850.3 596v49v6v114v25v18v30v62v39v139v37v224v61v25v25v129v13v19v51M852.5 491v57v5v6v6v48v48v3v45v48v13v74v69v8v18v22v66v28v58v5v5v4v4v12v7v77v76v64v7v3v8v2v43v56v15v52v16v7v12v5M854.7 526v14v2v9v69v21v7v72v78v117v22v176v75v83v86v61v108v24v34v64M856.9 557v142v62v20v30v81v16v27v4v20v84v101v29v17v7v147v88v94v16v42v7v3v41M859.1 506v6v15v34v13v23v29v71v12v65v8v38v17v295v24v30v46v7v2v20v12v49v19v13v99v10v60v63v8v23v10v6v9M861.3 534v15v7v27v4v34v2v9v103v3v4v86v144v73v12v9v147v13v154v87v30v63v51v4v4v1M863.5 555v11v48v41v46v54v14v84v89v21v91v172v29v24v32v41v2v66v5v7v48v42v12v43v1v8v14v16v1v28v6v7M865.7 505v20v12v36v11v41v4v26v120v37v47v22v37v76v30v54v57v18v26v73v94v11v51v224M867.9 559v60v6v4v11v6v81v26v68v107v132v91v5v8v3v12v28v53v12v2v13v16v58v21v140v32v49v3v2v18M870.1 508v12v50v46v6v18v23v91v14v201v91v24v104v53v36v63v150v3v56v4v46v1v53M872.3 567v26v19v55v47v24v99v306v7v2v8v30v2v104v22v56v17v54v29v8v12v72v27v1v35M874.5 511v69v28v2v15v9v111v33v127v88v17v71v3v31v51v3v38v2v7v36v53v3v15v125v135v41v9v15v16M876.7 522v5v202v2v11v11v291v105v7v7v37v79v6v5v12v23v24v35v26v84v77v12v26v2v8v5v1M878.9 531v12v56v7v12v22v22v23v50v10v20v4v25v180v73v5v23v61v23v70v112v58v144v24v12v6v27v16v10v23M881.1 498v40v22v34v5v24v43v7v18v2v34v11v17v5v36v24v9v78v5v6v51v34v112v1v68v66v35v33v21v25v9v102v63v30v27v14v4v15v2v23M883.3 538v3v3v55v3v1v1v81v73v46v215v15v95v49v141v3v31v24v8v12v66v7v82v10v49v17v3v8M885.5 620v25v7v42v30v66v2v125v154v75v49v76v37v14v6v56v11v16v71v4v116v6v43M887.7 497v6v5v3v19v34v7v7v18v3v5v60v15v92v10v39v34v132v110v98v3v3v145v161v84v13v4v5v19v24M889.9 550v37v58v3v46v47v80v19v231v27v36v6v1v19v21v36v31v163v16v60v144v2M892.1 514v1v61v32v8v3v15v7v46v38v42v140v221v34v59v68v17v164v33v47v13v25v10v6v9v10v2v1M894.3 513v22v31v31v13v22v213v23v10v115v2v138v22v108v66v35v12v23v48v130v13v3v12v6v28M896.5 510v16v63v26v27v51v30v49v70v6v123v30v53v126v5v76v43v76v81v10v12v60v3v13v29v10v20v21M898.7 570v11v38v19v10v117v65v4v59v104v19v23v51v93v8v28v1v17v40v57v20v62v79v43v6v33v3v22v4v15v11M900.9 508v1v33v39v19v86v187v25v18v60v25v6v39v44v39v50v26v81v81v35v6v24v98v19v18v25v13v21v16M903.1 539v4v16v8v21v16v13v156v50v153v14v5v169v14v80v18v52v291v7v26M905.3 544v29v139v12v24v17v19v29v58v19v3v10v60v24v63v31v139v48v33v112v17v69v56v22v4v41v4v10v8v3v6M907.5 504v18v78v39v49v91v40v107v220v27v27v14v49v15v228v53v45v30v9M909.8 573v13v64v33v39v88v23v63v19v43v5v23v20v41v114v16v20v47v32v85v19v19v52v5v5v42v33v56v25v10v35M912 537v53v5v33v2v32v95v61v37v20v15v87v9v109v33v39v8v197v55v36v33v18v36v83v23M914.2 549v29v6v1v44v226v20v166v14v62v27v25v216v4v3v29v14v99v32v32v12v6v4v10v38M916.4 583v12v9v100v97v30v17v67v74v9v97v27v23v24v18v6v58v33v86v1v34v63v8v120v17v1v8v11v37M918.6 511v117v54v67v69v13v50v435v35v11v3v1v164v30v11v43v48M920.8 523v11v3v10v11v19v79v91v10v17v65v105v49v13v46v123v27v14v129v24v25v72v37v25v65v15M923 514v50v32v24v10v140v16v12v19v60v24v94v40v15v45v59v25v100v14v16v9v6v205v31v8v46v5v25v17v1M925.2 509v25v11v5v15v31v3v48v94v18v71v2v3v39v90v30v4v82v80v24v30v2v12v35v17v11v5v144v44v40v50v12v38v3M927.4 586v8v17v10v5v4v24v147v57v68v8v2v29v49v3v7v14v46v28v1v37v69v111v14v99v129v25v14v22v10v8v14M929.6 550v3v19v1v24v15v37v112v35v14v59v18v64v63v95v17v8v68v4v1v8v39v33v30v44v34v19v23v25v65v16v53v5v22v9v10M931.8 541v24v11v7v15v34v24v79v37v57v111v71v34v54v51v28v3v26v5v235v76v3v40v62v24v11v1M934 524v13v84v31v21v30v23v3v80v4v8v10v257v162v69v30v67v12v34v78v41v64v24M936.2 598v58v2v192v4v76v15v11v5v57v31v8v299v30v28v92v54v21v1v30v15M938.4 574v1v38v87v62v11v9v51v11v8v180v1v68v33v23v11v61v6v124v12v42v106v9v47v39v26v20v7v5M940.6 514v22v56v26v7v9v9v7v114v13v111v118v88v3v97v48v5v14v68v50v30v117v2v20v20v3v73M942.8 528v28v146v69v63v14v24v45v263v92v10v72v247v23v15v7v4v7M945 530v61v1v1v14v25v174v59v5v3v37v161v82v20v54v16v152v72v114v54v17M947.2 585v33v15v91v67v71v51v199v33v58v257v6v9v105v22v1M949.4 585v78v110v37v29v28v3v71v1v29v5v189v102v17v4v6v62v86v155v27v2v14M951.6 533v27v34v123v30v16v11v23v5v20v133v137v5v7v31v12v30v5v46v9v37v9v189v29M953.8 523v54v3v58v14v66v1v10v81v242v35v19v13v71v60v17v7v2v46v12v11v29v14v59v123v45v37v10v3v10M956 608v21v21v27v86v31v8v58v118v86v4v27v54v47v6v59v12v28v17v148v34v87v3v10v36v7v14M958.2 519v6v8v51v3v2v13v17v184v5v4v36v5v173v131v12v20v4v27v34v31v44v43v12v25v125v34v13v9M960.4 569v38v5v18v137v95v78v130v1v7v96v77v6v52v47v64v64v15v40v29v2v7v3v26v10v4v8v34v5M962.6 538v8v48v57v164v20v36v97v192v119v126v10v79v5v7v49v9v72v1v4v1v13M964.8 513v19v230v53v2v255v16v67v7v53v5v22v2v29v17v16v5v162v10v16v98v1v16v42v19M967 539v5v26v163v84v20v26v25v6v98v7v121v26v88v19v51v22v16v17v63v49v16v32v119v15M969.2 539v21v42v18v122v104v20v92v44v146v36v55v32v119v13v21v114v14v22v18v1v19v12v18v10M971.4 540v5v8v49v9v8v29v132v24v2v52v25v21v38v115v51v35v29v15v9v21v2v53v31v18v62v169v17v7M973.6 520v4v5v15v55v6v15v25v13v17v2v1v46v7v90v18v13v1v25v59v127v11v20v1v37v25v5v9v198v58v126v2v81v12v2v1v20M975.8 599v16v4v14v193v25v195v18v192v44v6v83v7v40v4v21v7v26v28v4v9v53v24v61M978 517v8v4v12v32v57v20v46v48v48v3v21v48v45v278v25v16v165v142v33v2v17v3v8v6v5v15v35v10M980.2 525v11v74v15v30v51v68v10v36v19v59v37v71v28v30v46v31v47v44v6v14v14v46v116v57v117v10v1v22v22M982.4 519v70v16v15v2v23v31v76v61v10v41v43v44v50v37v37v50v28v29v89v26v186v3v6v52v79M984.6 529v91v2v11v51v114v51v11v30v30v43v188v25v8v30v42v25v71v77v98v23v51v8v6v5M986.8 557v12v13v132v109v124v79v22v157v106v202v110v11v23v4M989 522v2v6v11v89v25v96v36v112v46v103v6v107v11v62v67v44v56v24v55v28v13v88v18M991.2 567v1v14v33v6v2v4v20v6v12v117v326v18v12v52v8v34v25v20v33v121v130v38v3v24v50M993.4 626v161v66v17v63v333v18v24v87v12v39v63v27v25v49v18v24M995.6 517v14v45v42v38v6v93v28v111v63v68v195v19v7v260v8v25v9v26v41v15v8v22M997.9 597v13v219v60v1v24v72v12v28v131v106v28v33v5v89v60v147v2v2v19v21v5M1000.1 563v3v16v4v21v8v219v4v34v6v101v198v4v44v99v10v93v42v93v11v36v13v10M1002.3 513v341v55v14v129v57v23v54v6v14v7v156v37v32v8v22v117v55v8v22M1004.5 552v67v10v7v22v139v60v58v133v51v101v203v16v20v69v6v20v86v11v18v5v3v20M1006.7 515v43v54v142v20v22v3v7v7v4v49v144v82v45v6v6v16v74v23v109v88v15v11v114v15v8v8M1008.9 623v8v150v40v35v73v67v127v142v25v15v8v12v42v40v21v29v16v76v19v40v20v7M1011.1 567v24v271v9v47v8v60v22v38v9v6v12v7v20v32v33v16v56v45v31v53v98v21v3v2v91v26v32v13v19v5M1013.3 533v1v35v246v28v14v57v9v179v9v190v6v74v86v80v14v40v9v12v13M1015.5 513v32v58v192v31v40v4v51v55v16v1v29v56v59v74v13v8v5v6v4v8v81v50v19v77v24v15v84v21v20M1017.7 620v32v119v50v35v22v37v418v5v59v118v17v15v13v34v2v11v1v28v17v19v3M1019.9 573v40v14v30v125v10v23v334v183v4v12v15v62v20v80v54v13v6v23v14v16v10v18M1022.1 515v22v3v38v24v14v36v111v34v57v54v5v8v5v49v125v54v85v41v6v73v39v21v1v13v21v26v32v8v91v4v18v12M1024.3 540v11v136v45v63v27v95v3v7v22v66v52v14v72v45v21v54v10v57v84v21v24v134v36v11M1026.5 548v69v8v205v3v73v41v5v27v54v1v111v30v68v35v18v27v91v41v2v26v112v26v43v7M1028.7 531v21v33v35v132v33v60v13v77v61v124v65v19v107v1v62v25v54v1v19v10v121v5M1030.9 544v19v34v32v10v56v22v24v33v17v17v24v43v144v31v56v3v12v3v17v36v45v41v12v56v27v23v1v79v30v127v5v18v10M1033.1 519v60v15v33v39v105v16v31v75v70v2v85v38v39v1v3v13v15v48v10v35v20v1v22v14v17v119v110v3v13v1v7v3v42v17M1035.3 594v19v10v225v2v47v56v138v49v27v45v47v10v39v38v24v7v13v11v13v14v55v110v6v13v15v10v15M1037.5 572v43v152v65v5v15v27v3v23v145v109v34v79v101v80v89v27v21v4v20v4v12v21M1039.7 545v51v195v8v61v38v7v25v39v37v71v169v75v24v27v26v14v136v31v33v7v14v14M1041.9 603v14v207v102v34v122v19v130v80v17v3v44v2v26v57v8v137v29v21v2v20M1044.1 576v14v33v95v136v19v31v134v38v31v22v58v1v16v61v44v8v36v3v18v30v5v84v22v13v73v1v5v4v56v5v1M1046.3 578v20v32v40v13v164v7v22v2v41v9v2v43v45v57v3v65v55v76v19v34v118v27v74v10v9v40v2v34v30M1048.5 603v2v20v64v5v273v5v144v81v60v14v29v27v4v14v85v130v36v46M1050.7 621v24v49v13v162v126v5v135v161v13v10v20v13v116v21v17v53v16v20v15v68M1052.9 522v60v202v28v24v7v3v36v22v15v65v3v89v43v12v40v15v131v20v5v98v19v48v88v33M1055.1 539v9v33v43v9v13v19v33v93v93v2v15v25v13v33v47v46v28v41v23v67v35v131v32v140v44v11v38M1057.3 534v21v30v72v10v89v29v174v53v38v51v44v105v110v41v12v150v8v62v1v9M1059.5 517v9v37v7v22v48v39v146v4v37v14v10v40v95v18v37v38v13v86v51v3v29v50v19v40v28v25v49v74v17v10v7v22v16v3M1061.7 644v2v10v99v36v90v5v70v63v117v67v99v28v1v16v32v91v127v41v6v6M1063.9 541v12v13v17v300v13v10v2v42v93v112v57v8v43v95v3v74v50v36v21v52v72M1066.1 520v87v25v7v144v52v85v69v68v184v122v13v38v2v9v49v31v47v33v35v49M1068.3 572v10v18v28v56v8v138v46v7v297v28v83v8v13v21v6v12v42v8v1v12v69v2v25v59v13v34v7v1v14v6M1070.5 554v143v70v5v54v97v3v108v107v18v76v29v24v23v3v51v3v23v7v92v25v60v44v1v3v8v17M1072.7 538v31v7v39v26v73v81v3v36v19v17v51v51v146v2v35v122v59v39v111v1v64v63v26v2v13v9M1074.9 646v118v76v5v53v31v105v18v72v73v95v68v44v65v54v113v1M1077.1 552v53v11v6v15v13v84v53v20v41v26v72v53v22v2v161v75v71v36v5v16v94v99v24v15v7v7v7M1079.3 790v18v30v31v33v134v3v25v40v132v130v25v11v36v17v3v55v22v38v8v48v2v4v13v6v7M1081.5 528v32v67v7v138v76v77v114v17v31v10v148v4v50v41v8v9v28v4v51v40v45v53v11v22v3v14v1v6v7v3v9v11M1083.7 549v8v42v10v21v200v1v106v6v14v12v46v114v16v26v86v31v9v43v6v45v47v16v79v6v13v9v36v63M1086 654v185v44v45v6v7v314v2v11v17v44v43v24v29v14v15v43v21v31v92v3v15M1088.2 537v15v12v210v73v20v2v32v15v24v62v1v53v102v136v141v10v15v42v6v12v2v16v10v58v20v36M1090.4 549v2v3v47v1v35v6v111v116v17v43v47v129v22v11v81v25v46v188v103v27v1v32v1v16v6v17M1092.6 527v58v6v37v17v76v60v44v30v30v25v3v16v199v35v45v7v69v18v10v39v67v34v37v17v18v34v7v5v6v55v7v3v34M1094.8 544v30v8v23v5v33v15v42v128v292v277v43v36v27v39v12v5v14v38v11v6v14v8v7v6M1097 627v154v53v5v32v37v13v16v192v10v9v149v27v32v99v120v10v14v11v13v1M1099.2 519v12v11v8v9v11v122v271v12v81v18v7v25v44v64v38v26v93v91v23v72v40v17v24v6v4v25v4M1101.4 539v93v4v4v1v145v1v73v35v18v28v28v1v89v28v50v1v24v185v18v48v23v137v9v31v64v1M1103.6 548v26v35v175v46v43v24v13v74v167v119v9v53v16v2v73v78v75v15v5v32v8v7M1105.8 522v40v79v163v11v90v10v13v35v17v69v15v98v29v2v24v14v98v16v3v124v46v122v29M1108 534v17v11v177v65v52v237v29v154v23v28v19v22v49v9v87v56v25v21v6v11M1110.2 538v155v29v6v88v91v4v5v8v86v30v63v15v137v71v59v85v34v50v33v9v8v16v8v5v47M1112.4 524v39v91v185v51v8v38v3v153v37v4v125v64v6v104v17v2v33v163v12M1114.6 562v6v30v10v7v33v208v42v2v60v13v9v72v209v24v25v81v14v28v70v21v6v30v35v15v15v37M1116.8 526v71v119v17v32v82v100v3v9v35v66v6v35v96v4v49v25v20v25v3v44v5v12v22v103v21v11v34v4v33v1v20v18M1119 562v18v91v154v68v23v12v92v148v87v22v119v85v94v8v2v27v3v12v22M1121.2 542v151v172v14v28v11v75v57v49v11v60v36v49v18v87v17v3v1v33v4v115v20v14v5v5v16v16v35v33M1123.4 581v41v61v9v22v122v90v149v40v86v8v163v23v82v23v43v48v3v3v7v38v11v22M1125.6 751v107v49v20v73v355v6v74v23v106v43v6v11v42v5v13M1127.8 792v61v19v11v32v390v170v117v94M1130 538v122v129v93v38v120v8v14v128v102v212M1132.2 608v30v120v38v88v387v121v113v83v95M1134.4 540v148v28v227v10v22v94v333v111v4v160M1136.6 580v16v59v146v106v131v140v164v53v190v26v16v14M1138.8 594v56v151v76v101v579v48v3v1v6v37M1141 641v234v86v83v41v28v480v37v57M1143.2 600v54v235v69v250v210v80v21v48v35v11v62v6M1145.4 917v3v28v198v69v159v59v67v8v12v102v17v8M1147.6 661v44v564v71v204v5v19v3v22v82v5M1149.8 685v6v545v104v93v161v6v21v33M1152 645v7v107v104v3v55v49v4v144v4v264v66v71v63v32v28v21M1154.2 637v15v16v415v108v232v71v13v78v15v14v2v53M1156.4 610v81v55v36v218v93v276v174v60v36v22v19M1158.6 595v329v403v6v14v1v20v90v101v3v39v32v3v8M1160.8 930v12v140v24v230v18v2v129v16v120v40v25M1163 600v34v118v154v29v100v194v289v73v33v17M1165.2 543v39v8v334v14v225v22v43v4v176v25v93v82v9v17v5M1167.4 532v25v56v98v83v166v10v167v138v42v64v103v21v100v14v9v31v23M1169.6 836v22v207v2v117v146v321M1171.8 708v102v63v40v11v24v158v102v109v81v30v2v101v96v58M1174.1 594v44v8v3v73v120v122v61v24v62v50v84v176v60v113v71v6v6v5v10M1176.3 597v60v89v34v62v17v95v8v236v35v170v2v12v86v143v38M1178.5 534v108v90v26v80v84v20v10v4v7v137v124v29v41v25v208v66v53v12v21v1v1M1180.7 529v33v147v249v1v3v28v18v162v30v212v12v120v65v3v5v2M1182.9 592v2v55v23v131v42v20v72v12v98v51v14v277v14v11v13v166v22v16v9v3v6v17M1185.1 556v30v124v84v441v80v42v72v24v15v12v104v20v49v2v8M1187.3 558v85v78v149v33v21v4v28v99v39v60v189v43v14v8v3v16v26v92v16v9v10v5v18v5v1v26v12v9v3v13v16v3M1189.5 555v15v8v2v4v6v66v60v62v60v35v64v9v11v46v288v26v16v70v12v135v24v25v18v12v26v16M1191.7 572v36v17v219v81v25v39v65v84v187v70v36v96v23v10v46v1v21v8v20v1v36M1193.9 526v10v90v14v2v128v5v108v3v128v38v136v47v10v120v27v18v2v7v5v17v13v26v19v50v40v31v10v6v10v18v22M1196.1 569v35v27v168v2v3v13v42v10v12v58v7v7v1v212v2v219v66v21v23v135v2M1198.3 532v3v30v67v78v159v88v61v146v195v11v7v8v50v36v60v110v4v9v6v9M1200.5 537v11v26v20v32v10v8v134v34v72v65v4v13v7v9v5v54v7v3v13v323v2v50v127v6v17v22v20v6v8v11v5v15v7v4M1202.7 571v5v16v15v6v23v5v35v183v75v3v15v11v17v34v228v9v22v111v9v25v48v18v7v44v9v6v42v68v7v10v16M1204.9 549v2v37v32v1v7v10v20v143v65v37v6v12v35v21v98v19v49v119v30v6v12v62v25v50v4v90v25v4v6v4v44v1v3v5v8v26v1v3v12v1M1207.1 565v17v53v13v11v7v17v79v43v103v31v9v32v17v5v75v73v41v16v160v43v13v6v122v3v4v32v40v29v25M1209.3 536v47v33v13v5v3v94v71v117v5v155v120v170v13v32v4v2v93v79v17v4v2v22v22M1211.5 582v26v123v169v10v45v3v148v257v54v29v21v53v67v44v9v4v9v22M1213.7 548v25v8v15v2v25v34v276v13v5v99v84v12v270v25v28v10v59v88v2v27v3v15v5M1215.9 609v41v181v76v13v18v5v96v41v81v216v19v31v11v59v4v18v51v2v6v40v6v20v28v7M1218.1 529v1v29v35v12v8v9v3v1v1v234v46v45v3v84v206v109v28v4v19v24v2v57v7v87v57v9v9v7M1220.3 554v29v7v10v11v44v7v1v58v100v84v75v69v13v29v129v12v62v106v28v15v47v83v18v43v43v2M1222.5 538v19v42v26v36v135v56v64v3v22v13v11v9v85v161v2v41v205v5v115v39v10v4v7v1v7v13M1224.7 580v34v40v5v163v124v1v8v87v56v308v27v3v7v182v2v37v3M1226.9 542v23v67v16v2v39v30v132v42v31v22v10v11v9v4v5v85v84v26v3v119v144v53v131v49v2M1229.1 553v5v45v8v1v280v9v69v87v18v92v70v59v68v58v33v30v68v16v26v17v34v5v7M1231.3 548v20v31v18v19v19v127v151v8v63v53v169v23v29v9v13v133v25v34v54v64v9v5v15v5v7M1233.5 575v8v20v161v92v13v24v67v297v17v126v12v3v25v2v148v5v44v23v9v2M1235.7 539v84v1v20v10v5v32v123v82v85v192v46v163v56v8v93v80v26v51M1237.9 548v29v22v4v223v137v8v44v15v241v144v12v19v14v63v67v6v2v4v4v38v12v11M1240.1 573v274v49v58v15v54v94v257v6v7v88v15v4v72v16v25v8v4v7v4v19v12v14v13M1321.6 1478v158M1323.8 883v85v701v23M1326 569v314v65v233v231v69v113v74v3M1328.2 683v365v133v295v4v113v74M1330.4 571v382v15v219v223v259M1332.6 678v9v257v20v10v73v429v3v155v3v61M1334.8 572v307v67v25v440v181v44v5v55v4M1337 684v194v8v302v2v224v285M1339.2 681v203v85v216v289v114v108v6M1341.4 570v111v276v16v72v18v121v220v7v5v176v79v18M1343.6 884v62v23v74v7v9v135v208v76v118v1v41v57v5M1345.8 572v103v7v9v269v6v1v17v197v10v217v78v4v102v48v21v17v12M1348 675v202v73v18v6v217v3v229v63v4v94v77v3v14v14v4v5M1350.2 683v5v258v12v5v26v423v16v39v7v11v95v90v1v17v4v14M1352.5 561v114v268v5v3v31v193v14v10v275v125v31v13v55v9M1354.7 680v192v7v88v3v10v443v43v24v104v1v1v5v62v29v3v5v4M1356.9 559v1v318v8v56v5v8v2v6v6v23v183v14v222v10v158v54v2v34v15v15v2M1359.1 575v104v9v191v13v60v7v7v3v231v207v10v48v3v4v4v101v1v16v84M1361.3 558v118v18v1v130v59v66v224v18v8v231v36v3v18v92v5v4v8v4v5v62v3v1v8v14v10M1363.5 886v205v76v264M1365.7 569v119v249v217v282v38v159v35M1367.9 562v13v107v3v230v41v9v127v63v7v158v132v5v7v3v22v152v5v12v2M1370.1 559v3v359v21v547v169v17v1v10M1372.3 584v96v11v279v123v239v90v64v3v2v128v5v36M1374.5 584v107v182v54v28v514v25v16v113v40v7v20M1376.7 557v366v48v77v96v76v212v34v25v17v111M1378.9 677v8v3v242v28v65v658v14M1381.1 574v2v116v205v10v2v9v28v55v99v221v149v4v4v19v101v48v18v4v3v6M1383.3 559v115v9v265v22v13v92v349v35v22v3v27v132v6v3v26M1385.5 689v16v191v35v152v29v166v144v1v11v46v30v179M1387.7 569v104v23v243v31v20v57v20v118v250v20v4v11v165v41M1389.9 793v94v69v18v190v31v226v17v85v79v47v8v11v31M1392.1 577v196v43v94v45v140v322v45v29v119M1394.3 684v222v13v27v17v16v27v44v29v3v259v107v28v35v16v61v1v73v20M1396.5 685v11v4v30v43v28v125v8v590v76v19v2v12v13v24v15v2v4M1398.7 598v305v5v34v60v36v24v32v34v7v17v46v233v60v128v32v5M1400.9 543v17v28v99v130v53v195v13v70v258v26v83v46v26v7v4v15v17v20v6M1403.1 678v40v187v42v241v39v207v7v61v1v32v5v39v12v35v6v35v28M1405.3 670v45v46v67v87v33v243v22v169v1v22v89v83v8v7v32v62M1407.5 560v95v10v36v9v175v55v77v82v41v8v108v1v34v67v55v10v2v16v61v16v34v17v90v29M1409.7 550v46v9v99v35v51v22v91v16v35v166v209v36v27v55v13v25v70v22v13v38v2v45M1411.9 684v170v57v152v53v51v128v26v25v12v34v2v72v13v3v17v36v3v5v19v37v4v37v27v40v2M1414.1 825v62v6v65v90v25v46v15v67v83v12v43v10v39v68v12v29v3v14v55v12v1v126M1416.3 556v55v47v88v42v37v19v172v113v36v32v113v29v10v44v34v12v6v51v19v1v47v5v10v17v57M1418.5 565v57v7v127v44v29v8v52v32v3v75v6v48v2v107v82v7v25v17v191v46v22v21v73v28v15M1420.7 546v8v51v4v152v35v13v10v124v16v96v3v37v55v9v83v68v35v41v46v6v1v73v34v40v47v18v5v11v4M1422.9 591v25v109v10v1v7v123v5v15v15v11v20v5v132v146v14v30v62v36v26v41v13v69v62v16v6v15v28v13v3v17v2v7M1425.1 560v44v19v65v361v40v139v36v94v39v12v15v7v5v28v6v3v19v4v74v17v9v10v3v9v16v9v41v20v17M1427.3 569v9v90v74v24v17v8v10v10v45v24v66v92v7v4v52v45v44v63v21v4v30v121v28v17v43v62v22v60M1429.5 588v57v13v76v5v5v26v75v4v36v90v19v34v34v166v1v6v27v8v15v44v174v64v17v31M1431.7 555v17v18v67v26v99v17v42v36v85v27v18v1v255v91v43v74v38v19v17v37v1v2v45v30v50M1433.9 599v20v12v32v18v74v2v72v71v40v56v151v96v1v1v19v1v179v30v60v5v16v53v10v4v17v8v11v6v1v26M1436.1 568v24v57v16v61v4v20v4v26v15v58v2v42v71v170v60v62v23v32v53v31v68v53v46v58v10v10v4v32M1438.4 617v39v24v50v6v28v8v29v25v9v28v81v9v32v22v7v47v24v16v75v35v16v50v53v6v69v24v49v37v4v60v1v18v22v4v50v22M1440.6 601v5v27v4v44v8v15v13v50v86v7v11v9v26v73v6v48v30v83v29v102v7v28v41v138v40v24v15v48v14v12v6v7v35M1442.8 598v72v53v38v5v12v25v42v45v7v35v18v24v2v4v38v49v215v14v36v78v64v51v9v53v36v1v13v12v23v20v5v21M1445 626v31v42v21v19v17v7v18v13v46v7v10v55v49v89v78v9v49v32v19v35v79v2v5v55v66v16v39v14v8v44v5v20v29M1447.2 627v24v13v84v139v9v25v13v68v141v89v72v27v43v38v110v19v18v8v9v3v22v15v65M1449.4 602v29v3v15v81v25v12v38v12v22v28v75v24v48v14v31v12v10v9v10v14v16v9v36v37v15v5v39v96v56v79v48v5v52v19v10v11v58M1451.6 547v46v12v1v7v50v18v63v6v28v11v94v92v4v98v71v15v23v3v20v6v27v36v112v9v27v7v96v10v12v16v13v12v7M1453.8 579v23v10v2v28v27v2v16v18v18v40v66v10v2v27v42v9v10v1v72v67v54v3v120v15v28v34v60v35v45v35v8v14v28v5v12v9v30v65v32M1456 619v23v13v4v1v19v8v192v59v32v205v63v12v99v120v33v45v20v28v2v4v24v35v64M1458.2 582v70v9v72v107v16v21v27v31v8v4v1v4v98v13v163v8v95v12v13v31v7v61v69v31v4v1v6v5v8v46v48v13v28M1460.4 547v39v4v12v21v11v16v27v2v2v39v82v10v238v53v6v9v8v1v36v22v25v45v172v10v14v4v67v57v6v5v8v26v14M1462.6 590v38v27v12v4v31v27v20v16v5v1v11v6v20v5v95v13v28v136v21v8v4v29v13v68v21v16v77v82v34v13v3v4v32v9v15v1v24v13v10v18v11v11v58M1464.8 573v21v14v10v61v3v3v28v17v5v25v6v45v26v17v12v3v11v160v97v34v10v30v60v217v58v2v23v11v19v6v18v49v1v17v41M1467 598v3v39v31v3v15v28v25v4v6v44v23v10v76v17v10v4v11v54v42v81v102v95v17v1v14v37v3v37v7v9v13v9v29v53v19v9v14v1v27v10v1v47M1469.2 579v41v18v5v23v25v1v27v65v7v10v55v34v35v7v79v230v94v83v194v13v7v9v19M1471.4 652v26v1v4v39v35v28v76v44v11v3v113v1v132v10v1v12v9v7v58v27v111v72v56v33v15v43v102v14M1473.6 626v41v19v8v72v19v15v36v2v24v4v43v6v55v80v21v11v33v2v46v98v10v27v178v42v12v27v8v2v70v86M1475.8 601v9v4v15v6v14v53v20v42v12v45v66v158v155v265v27v73v20v23v29v11v11v51M1478 592v6v18v34v3v2v49v20v22v17v34v1v74v195v105v12v32v19v25v107v1v37v7v47v8v40v21v48v7v6v3v44v2v26v6M1480.2 605v15v37v8v13v5v37v105v302v167v27v19v60v110v27v22v34v3v14v52v10v54M1482.4 578v62v9v20v78v47v32v67v16v38v15v59v25v85v2v16v4v15v28v55v18v15v86v11v10v5v15v29v99v17v3v51v21v3v16v4v73M1484.6 628v13v10v18v26v5v7v101v46v62v17v26v25v33v15v32v9v11v144v22v151v38v67v56v22v26v45v1v2v30v13v2M1486.8 579v22v24v9v35v23v12v17v101v6v14v65v59v15v2v42v56v22v6v88v127v118v28v44v5v61v11v44v11v4v2v30M1489 543v31v44v46v16v13v8v6v7v4v24v101v12v17v20v13v29v273v76v2v13v126v25v5v12v58v2v7v10v21v30v21v13v23v12v34M1491.2 588v32v17v23v8v54v13v6v4v3v5v18v48v22v44v11v2v4v37v58v90v113v8v9v6v15v4v4v3v164v163v12v2v16v1v8v13v70v10M1493.4 594v95v74v10v228v14v36v155v225v11v36v83v2v14v153M1495.6 627v19v4v8v3v54v20v15v30v17v11v3v1v49v29v38v4v21v32v60v11v26v19v3v13v13v58v103v17v21v3v9v33v68v100v9v4v32v3v2v10v2v35v20v65M1497.8 579v2v21v6v62v59v4v1v16v83v26v72v20v182v119v19v9v28v100v74v20v13v14v18v10v30v4v26v24v36v29M1500 566v51v5v13v59v38v9v126v36v36v11v19v19v15v27v87v14v135v37v1v18v8v80v72v12v9v54v22v6v4v10v36v44v33v27M1502.2 587v25v5v95v16v4v54v84v72v123v70v17v45v22v4v123v14v45v54v57v7v44v11v27v6v3v3v34v7v23v24M1504.4 648v9v47v13v2v12v1v6v25v5v80v117v3v209v46v81v114v32v2v47v46v21v31v5v33M1506.6 578v27v11v12v8v16v20v16v37v6v9v41v23v93v57v33v16v31v15v83v57v39v15v49v139v23v47v42v12v41v18v1v11v25v22v16v7M1508.8 583v13v16v12v45v17v61v21v16v20v1v80v23v41v13v15v81v3v28v9v153v32v12v36v88v36v15v183v31v29v9M1511 547v47v1v2v56v5v4v21v20v84v10v58v24v3v68v57v18v31v48v168v170v117v28v10v49v2v5v21v10v21M1513.2 625v21v44v16v41v55v3v169v12v121v9v7v91v49v138v81v14v56v46v17v36v10v35v38M1515.4 581v3v20v2v4v17v3v29v18v24v11v80v2v12v16v1v15v45v59v16v78v15v24v63v16v1v24v73v15v97v5v5v13v74v24v69v31v13v11v13v30v4v9v4v19v31M1517.6 597v26v39v19v1v27v36v4v14v2v19v59v38v66v29v18v48v46v26v37v110v54v23v176v7v14v2v44v1v31v10v11v1v11v2v13v32v9v19M1519.8 564v28v53v8v7v56v8v9v164v37v10v91v24v11v31v87v34v64v27v180v25v19v12v37v1v2v18v4v14M1522 580v27v120v45v12v16v6v19v6v28v50v12v4v2v11v56v2v11v35v23v26v219v79v2v48v15v20v11v13v1v12v32v5v29v1v17v11v1v48v3v34M1524.2 624v5v5v24v1v54v67v8v127v13v10v36v2v17v6v11v11v54v32v12v16v29v35v149v133v29v73v41v8v2M1526.5 568v82v42v34v11v6v55v3v44v112v61v32v61v9v1v10v38v31v16v32v58v133v63v15v17v22v4v17v3v4v8v24v13v4v48M1528.7 590v2v10v17v18v14v21v11v10v5v1v9v2v4v54v4v7v62v14v57v43v76v33v68v165v95v73v46v38v11v16v9v25v13v12v7v13v69M1530.9 625v7v14v4v11v19v23v11v7v1v48v16v42v34v40v2v8v22v6v10v1v25v69v19v126v24v90v24v4v11v22v134v12v23v76v3v3v55v57M1533.1 596v4v14v96v15v23v22v59v33v30v48v137v85v53v43v25v5v16v82v34v95v61v50v13v1v13v6v18v3v8M1535.3 572v21v6v30v6v7v9v10v4v22v98v76v6v51v18v3v74v20v163v33v10v13v62v72v42v45v17v60v19v32v14v8v56M1537.5 608v153v26v84v97v3v50v9v3v28v73v104v27v78v66v55v29v16v63v8v13v44v35v9v14v15M1539.7 611v20v6v4v19v13v8v11v59v28v3v18v9v6v25v35v127v12v140v53v1v102v69v76v52v6v69v5v3v1v1v52v20M1541.9 613v18v23v2v8v29v9v57v24v49v74v13v11v39v35v58v12v238v122v126v10v14v3v12v26v6v2v82M1544.1 708v1v3v65v3v16v17v5v22v30v98v44v48v146v89v78v37v105v21v4v38v5v8v6v26v27M1546.3 578v25v41v46v35v31v35v31v64v10v13v27v21v3v90v40v32v23v36v28v27v100v76v18v71v11v69v14v9v87v13v10M1548.5 696v17v113v8v13v19v20v25v46v3v39v38v63v70v54v98v95v78v22v68v1v31v50M1550.7 564v20v5v74v71v45v15v46v44v8v22v8v58v11v1v7v4v1v55v62v105v120v30v68v58v55v5v11v5v1v6v77v2v13M1552.9 598v3v9v16v21v12v14v26v7v75v10v66v87v15v49v55v40v50v42v82v149v24v68v16v19v27v19v5v2v1v10v6v2M1555.1 585v28v60v83v37v49v198v36v130v114v47v9v51v137v38v4v3v82M1557.3 616v43v16v17v1v26v16v7v98v14v93v97v33v45v68v22v29v70v1v30v65v79v30v11v29v20v27v11v26v14v62M1559.5 588v12v34v20v18v7v84v141v15v3v20v6v14v61v16v37v8v3v62v113v87v73v54v9v8v28v13v8v34v5v60v6v7v15v21v15v7v14v32M1561.7 609v55v70v86v36v23v24v3v48v41v52v5v49v32v156v54v36v89v23v28v5v9v65v18v19v22v41v47M1563.9 600v10v13v1v16v14v17v10v74v3v8v10v7v32v3v14v67v78v68v165v1v23v62v12v35v43v7v80v88v8v17v3v138M1566.1 596v2v17v35v11v45v70v32v5v71v9v93v43v66v57v22v6v22v6v56v93v50v66v56v35v17v6v8v42v31v26M1568.3 595v2v45v34v22v39v3v25v71v57v3v46v41v53v15v51v57v1v11v35v17v34v26v131v38v55v5v23v29v21v8v15v2v37v31v41v10M1570.5 592v77v23v14v36v18v2v34v15v16v4v92v179v11v8v162v109v28v172v24v66v56M1572.7 641v11v73v26v49v78v59v129v49v96v14v110v38v70v51v6v19v6v12v5v5v2v129v8M1574.9 576v76v24v8v31v11v11v22v5v26v13v50v3v2v211v89v70v38v15v16v37v45v5v23v63v106v10v11v49v75v4M1577.1 551v71v22v4v41v74v6v28v14v8v16v48v10v223v24v19v10v25v10v7v2v11v44v46v32v61v6v6v6v110v15v19v5v3v20v44v1v21v16v11M1579.3 586v14v25v39v49v40v3v9v54v12v12v8v8v1v21v62v16v5v21v2v74v20v7v34v16v13v39v56v15v11v87v20v81v2v6v14v64v17v15v10v9v38v26v8M1581.5 575v34v11v33v1v9v4v7v43v7v61v18v38v41v25v26v14v1v2v27v43v38v6v98v26v5v12v123v12v42v99v33v3v18v17v35v1v7v7v15v6v41v13v83M1583.7 599v4v13v15v21v41v1v39v56v29v13v68v22v36v8v79v62v38v29v208v43v137v26v3v5v14v7v21v22v28v23v26M1585.9 596v4v82v5v22v56v19v7v67v23v31v29v197v69v122v25v40v5v22v20v46v22v36v13v2v3v6v2v45v78v32v1M1588.1 599v48v14v34v13v19v37v14v122v46v12v9v6v131v64v99v60v17v9v20v118v6v44v14v40v21v5v40v6v30v8v16M1590.3 637v9v15v85v35v11v8v1v33v16v2v86v16v14v7v44v73v64v43v13v1v15v1v16v21v159v38v28v12v34v11v27v36v30v20v47v9v51M1592.5 622v22v15v14v48v26v76v6v4v2v41v169v10v73v10v27v50v21v46v24v9v32v19v46v13v70v19v5v15v1v36v7v1v8v23v9v3v27v3v33v63M1594.7 588v43v21v43v21v24v35v6v5v44v84v28v206v43v32v112v90v41v81v11v6v40v8v18v53v11v24M1596.9 584v25v16v29v15v63v46v20v17v38v22v65v5v31v25v76v23v3v29v33v22v33v86v164v16v56v5v10v17v10v14v86v28v7v2M1599.1 565v71v1v5v30v12v12v28v9v21v52v30v101v24v34v24v64v25v340v43v42v17v34v3v17v3v16v3v28v11v27v26v6v7M1601.3 542v2v45v2v31v9v16v10v1v124v5v83v89v23v10v97v72v116v16v57v136v34v13v5v55v3v22v2v7v2v10v11v48v64M1603.5 612v10v8v13v32v9v28v42v11v15v43v2v29v112v106v14v32v93v2v107v5v18v37v2v1v160v20v39v8v13v15v72M1605.7 587v5v37v142v20v30v40v75v144v24v58v22v111v39v12v58v31v107v21v4v5v22v36v13v33v1v35M1607.9 661v66v13v17v15v112v113v8v166v3v148v34v35v80v6v85v1v2v2v24v22v7v127M1610.1 570v41v28v8v5v27v1v66v1v2v1v4v63v2v19v22v82v118v17v20v15v36v31v84v53v11v175v39v68v48v17v6v1v35M1612.3 646v2v84v5v2v71v53v21v148v162v104v94v25v17v62v22v16v88v6v5v33v49v17M1614.6 559v18v66v28v48v2v22v40v26v22v19v19v79v55v14v1v19v27v38v33v5v20v15v3v70v32v67v106v23v45v57v14v36v6v44M1616.8 613v8v34v13v5v8v25v91v14v1v40v2v51v84v28v86v35v2v62v2v12v1v18v28v20v49v5v54v110v27v39v38v7v14v7v2v48v83M1619 595v12v13v8v15v19v89v16v50v19v7v17v14v28v73v2v32v1v47v7v60v31v113v4v54v44v131v2v10v19v35v3v36v3v6v30v115M1621.2 614v11v207v116v5v24v130v1v15v13v56v34v89v74v132v33v13v38v18v4v39v9v94v6M1623.4 656v26v48v34v141v23v56v21v17v49v3v25v3v59v75v8v89v64v19v14v68v3v31v49v18v4v3v91v60M1625.6 595v43v37v9v21v8v77v7v16v36v1v71v21v25v69v8v24v7v11v13v7v37v40v120v159v10v10v5v5v8v1v21v36v4v23v31M1627.8 575v3v20v13v28v11v38v59v66v10v17v20v4v1v134v35v22v50v11v39v21v4v113v21v83v55v20v52v80v67v55M1630 570v42v194v11v8v25v4v19v16v77v2v48v24v47v115v91v20v21v43v21v51v25v12v37v14v61v40v1v18v78M1632.2 605v14v23v58v14v30v15v3v27v1v48v118v14v13v11v80v22v23v49v121v27v3v24v3v101v28v2v38v1v69v12v7v57v63M1634.4 604v9v21v18v3v33v35v3v4v1v13v47v10v115v12v70v52v5v21v39v38v74v12v9v34v24v53v26v15v17v4v38v5v44v22v18v29v20v21v6v18v8v40v38M1636.6 601v26v2v4v18v5v9v47v6v1v66v35v8v11v2v7v80v90v33v44v44v9v43v8v45v9v45v24v9v180v10v28v7v34v12v17v20M1638.8 655v13v52v23v119v46v34v17v43v56v16v12v16v13v47v112v24v18v36v23v26v60v64v28v4v2v23v6v33v7v4v15M1641 623v24v33v15v16v23v59v1v17v9v29v31v91v35v2v9v8v7v27v82v22v152v46v83v5v86v66v17v5v2v4v44v25M1643.2 602v3v9v14v96v1v20v50v32v10v68v12v45v100v15v49v2v78v2v25v40v78v55v158v32v38v7v2v2v88v14v16M1645.4 592v11v15v63v28v13v3v13v36v4v31v2v2v10v41v27v11v46v19v47v74v2v2v13v20v12v104v140v11v131v27v52v3v14v1v3v76v6M1647.6 676v10v40v3v12v24v5v23v50v11v7v77v82v83v57v14v37v110v35v104v123v1v12v3v21v18v5v10v15v30v4v10M1649.8 605v44v6v10v79v65v2v7v147v131v45v26v15v20v111v33v64v57v13v28v17v18v72v8v9v6v4v6M1652 621v60v95v7v25v11v80v36v30v57v3v39v14v187v31v117v145v10v8v34v96v16v10v18v3v8M1654.2 547v39v61v10v15v15v37v23v175v13v26v18v28v4v9v51v57v84v122v185v13v84v1v14v5v10v23v74v10M1656.4 592v20v9v34v26v19v39v28v41v3v70v4v9v57v37v13v1v100v11v1v5v159v13v40v10v21v38v24v28v3v9v94v5v50v31v7v24v24v9v42M1658.6 643v18v65v6v18v31v42v16v150v56v12v31v148v8v2v14v28v6v3v7v90v7v6v31v48v9v32v9v10v36v6v40v38v8v8v58M1660.8 574v47v46v17v11v20v7v18v55v17v54v52v1v32v46v68v93v27v54v33v153v156v22v16v12v5v39v4v24v49v11M1663 593v7v11v58v83v11v5v5v7v33v3v47v8v67v48v29v87v77v47v46v83v32v48v66v49v1v46v15v3v25v12v28v13M1665.2 585v22v95v14v51v10v30v4v29v7v7v24v24v16v51v10v8v2v311v46v1v50v141v9v2v51v38v9v14v13v64v1v9M1667.4 611v33v14v3v28v17v37v18v4v39v61v7v65v5v29v102v2v82v31v23v41v41v21v38v98v6v130v18v46v9v77M1669.6 633v6v36v96v11v25v49v30v8v12v71v37v83v97v21v98v5v101v118v18v17v5v9v20v23v3v27v27v4v1v8M1671.8 581v1v4v4v48v36v68v24v13v8v161v31v71v1v8v9v36v14v8v80v15v23v26v75v138v88v13v81v6v32v7M1674 553v9v45v20v9v56v18v26v15v18v99v35v28v51v38v4v136v165v53v26v20v14v85v34v23v1v24v5v11v20v28v26M1676.2 562v40v3v3v28v5v7v34v1v13v12v8v39v36v15v3v37v19v28v53v23v91v52v17v18v75v18v65v62v75v129v43v159M1678.4 592v19v65v23v29v8v8v54v24v33v131v26v125v11v10v11v45v107v76v55v59v17v18v13v42v10v9v1v11v19v14v21v13v4M1680.6 658v90v14v18v40v13v3v180v5v63v26v80v46v31v6v18v82v80v19v91v64v27v12v40v24v6M1682.8 584v35v9v111v9v6v8v25v11v34v4v24v25v135v25v19v63v63v61v69v47v63v43v18v102v1v7v20v62v26M1685 542v38v10v22v63v1v58v74v13v25v3v30v113v22v169v2v19v49v5v24v3v9v26v46v20v4v92v40v1v11v12v9v7v46v1v3v1v23v2v16v7M1687.2 587v14v15v31v1v12v22v25v68v26v9v1v42v24v117v27v2v6v7v3v11v14v32v44v37v28v79v52v35v16v25v25v35v16v4v64v32v6v2v36v66v5v26v31M1689.4 655v30v67v22v71v58v21v30v2v40v25v8v164v21v10v8v64v57v18v43v6v55v24v48v54v20v12v26v2v3v64v12M1691.6 572v36v37v3v47v25v48v3v5v78v31v1v88v39v9v66v40v12v54v51v269v21v3v9v10v11v27v16v49v13v78v13M1693.8 562v14v112v41v15v6v35v48v24v185v46v87v155v31v15v6v17v64v15v5v68v2v33v30v6v35v91v14v7M1696 547v27v52v84v48v4v22v23v67v62v32v8v164v1v41v7v62v4v9v23v17v7v13v53v61v70v3v17v125v44M1698.2 607v15v145v72v45v24v2v52v3v4v56v58v9v64v91v4v241v24v6v4v7v39v26v17v25v2v11v26v75v36M1700.4 555v56v13v21v92v92v31v11v68v46v18v90v13v19v4v63v74v35v18v7v9v4v10v19v20v55v15v41v32v33v29v59v9v46v3v13v25v2v7M1702.7 567v24v32v38v3v26v8v34v63v40v104v8v1v25v65v28v12v21v4v57v129v40v37v48v94v18v34v17v46v81v39v14M1704.9 573v7v7v5v44v30v5v22v35v64v20v19v7v148v9v14v16v18v68v29v18v5v5v30v32v38v11v111v11v50v39v26v11v24v21v12v3v8v5v40v23v15v102v2M1707.1 620v113v42v52v45v2v7v36v98v66v79v57v136v53v32v78v22v18v87v20v51v28M1709.3 597v34v13v16v11v17v72v3v2v24v11v11v13v190v45v28v22v21v4v33v55v47v105v257v1v6v3v9v15v13v54v7M1711.5 755v99v45v97v29v161v18v24v6v50v33v16v24v130v26v67v20v5v8v1v3v4v9v14v10v5v10v3v41v23M1713.7 700v107v153v38v140v31v12v15v19v2v42v13v28v46v77v59v27v20v13v2v14v10v17v26v102v43M1715.9 729v17v115v110v82v12v2v23v11v49v28v51v168v55v143v6v17v108v2v10M1718.1 552v44v86v75v6v37v4v253v6v36v204v29v3v13v130v24v8v74v11v146v56M1720.3 570v17v61v32v15v51v1v59v101v148v20v142v1v6v7v68v13v35v11v15v150v31v19v3v16v12v31v17v1v33v11v8v25v15v11M1722.5 596v139v32v16v1v33v13v38v12v34v102v32v6v14v3v59v3v169v30v30v21v2v81v30v11v5v9v17v7v54v13v129M1724.7 616v10v80v20v17v14v22v15v12v35v4v3v113v30v15v1v39v86v67v30v16v66v85v165v13v7v3v28v38M1726.9 610v80v14v141v3v11v4v7v20v53v33v5v157v5v30v18v45v10v27v8v63v22v87v1v32v60v16v14v8v7v3v42v10v11v88M1729.1 557v162v20v18v12v81v148v107v5v51v1v7v39v8v4v152v3v39v2v76v80v42v4v28v60v18v3v14v4v11v10M1731.3 682v31v2v68v10v1v17v29v97v27v18v101v92v21v25v26v5v26v21v21v27v36v143v61v13v34v30v67v2v7v1M1733.5 580v44v22v57v6v47v53v11v36v100v2v91v51v111v31v2v18v82v43v15v42v78v30v111v23v66v35M1735.7 550v52v14v7v54v33v49v85v27v169v113v86v75v17v98v3v114v26v51v11v10v32v2v8v21v34v9M1737.9 613v42v13v154v25v81v256v14v22v228v36v21v57v30v16v18v4M1740.1 559v44v82v17v3v18v57v11v108v170v8v11v17v19v10v20v17v33v15v18v42v151v56v42v38v9v17v23v9v84v46v4v29M1742.3 567v47v60v154v36v76v122v3v108v55v16v31v56v50v11v68v14v49v15v10v42v12v4v4v9v17v27v70v62M1744.5 674v150v3v2v3v3v45v8v100v40v1v72v12v3v37v4v21v96v38v66v21v112v18v32v4v25v17v1v26v8v129v1M1746.7 564v33v55v14v96v44v25v42v12v13v15v3v48v36v29v2v29v19v7v20v11v73v48v10v175v7v140v16v42v86M1748.9 599v21v42v48v54v136v41v1v86v10v27v40v2v18v7v73v23v80v132v54v48v4v42v7v4v54v28v20v45v33v27M1751.1 591v1v52v24v60v26v2v79v52v51v17v24v30v14v33v82v131v12v17v284v18v6v11v10v14v2v8v31v42v17v14M1753.3 587v18v25v46v47v15v18v18v16v86v60v12v139v30v14v27v72v209v13v13v143v34v4v7v13M1755.5 549v36v15v85v13v61v4v44v52v68v129v20v19v41v60v14v177v7v120v32v33v20v186v14M1757.7 657v205v34v19v13v46v58v42v7v14v69v52v31v30v11v8v77v6v44v96v18v31v56v20v36v84M1759.9 581v10v21v45v48v1v3v71v13v93v94v35v7v9v32v31v4v53v74v119v86v115v6v12v13v6v51v13v33v13v8v62v6M1762.1 640v11v98v12v4v92v52v34v39v27v6v4v41v29v49v51v11v1v79v25v42v49v62v14v42v29v36v24v4v4v1v30v58v14v6M1764.3 583v15v22v67v16v4v31v6v63v18v4v6v85v23v35v16v29v62v12v23v29v104v4v30v131v69v56v109v8v8v66v22M1766.5 615v42v28v2v9v2v3v14v19v16v1v28v39v21v4v212v118v61v3v49v41v59v30v15v3v42v17v33v12v22v133v25v16v10v60v6M1768.7 554v22v53v12v1v172v9v8v42v70v70v132v34v7v59v17v26v57v32v20v21v16v11v38v26v42v25v65v33v63M1770.9 623v107v28v2v10v8v46v25v13v80v3v16v5v83v29v38v82v27v5v32v2v58v9v21v123v80v6v5v17v15v32v51v2v30v8v13v38M1773.1 549v9v45v45v19v13v21v18v39v28v13v36v27v8v113v6v72v39v145v16v104v115v20v212v83M1775.3 553v19v31v21v22v46v51v50v33v44v88v28v252v89v153v21v37v22v73v8v46v27v18v3v9v4v36M1777.5 671v161v22v25v143v3v121v101v12v1v8v3v28v105v192v4v16v20v10v20v17v16v47M1779.7 621v47v12v46v2v20v16v45v29v41v38v54v134v39v40v78v44v3v10v21v55v187v16v6v3v14v15M1781.9 671v13v36v55v13v36v73v23v20v81v248v2v81v35v3v15v3v40v39v4v45v29v35v11v33v58M1784.1 589v3v2v44v1v63v41v19v18v26v20v18v4v50v49v3v82v120v123v102v6v26v19v21v16v28v47v18v70v50v15v7M1786.3 635v83v74v44v7v135v48v75v94v15v22v8v64v36v51v31v11v7v69v17v49v3v10v17v32v8v30v10v44v49M1788.5 618v32v86v85v1v7v7v35v75v7v5v61v53v23v5v5v60v116v164v54v5v9v10v13v16v23v42v4v21v37v12v18v77M1790.8 569v32v98v121v6v22v4v76v4v52v30v37v95v242v26v96v50v2v7v49v78v8v16v16v20M1793 542v4v4v88v21v5v5v16v11v97v17v84v13v4v28v39v31v41v38v74v10v3v42v15v32v37v44v28v83v40v35v8v24v44v20v8v30v105M1795.2 627v37v11v52v30v128v55v71v37v48v139v67v148v2v96v19v4v12v2v4v39v6v41v60v29v9M1797.4 559v28v5v87v9v5v16v5v60v1v9v27v100v50v69v38v27v55v55v13v9v1v40v45v53v44v16v13v70v1v20v33v5v2v53v55v1v1M1799.6 639v23v30v19v26v36v31v70v19v16v72v43v75v79v45v28v17v100v11v17v5v29v1v37v21v54v14v12v5v10v13v9v3v54v47v70M1801.8 648v19v13v52v21v36v23v33v84v38v35v74v24v4v6v22v69v15v56v8v84v63v12v5v20v30v31v2v24v30v7v10v26v21v70M1804 656v23v3v101v13v17v35v27v6v32v20v90v19v21v78v59v3v44v206v7v6v9v27v96v15v54v19v50M1806.2 608v37v41v5v21v14v74v20v40v37v19v7v75v9v107v20v6v25v69v48v35v9v99v16v106v11v5v9v23v37v52v43v17v38M1808.4 614v10v59v44v117v11v5v65v54v50v30v105v54v15v93v103v48v40v11v9v21v15v46v65v4v30v50v5M1810.6 635v43v110v10v38v101v24v4v105v29v47v1v142v22v24v92v82v19v47v10v49v11v120v23M1812.8 589v89v26v13v106v12v36v6v8v15v15v58v28v5v72v55v31v144v159v1v97v55v20v11v9v31v9v50v20v10v7M1815 571v4v108v33v11v44v43v10v166v16v118v46v184v15v24v16v188v13v12v25v24v3v77M1817.2 628v9v68v78v11v1v135v6v45v35v10v52v43v60v51v65v9v48v31v20v7v88v6v76v33v21v14v49v18v9v36v8v23v4M1819.4 559v43v132v29v50v147v78v37v15v25v3v28v103v2v15v86v1v25v12v25v2v3v130v8v32v27v13v27v31v7M1821.6 594v36v2v36v71v8v128v19v1v61v105v21v44v11v9v30v75v7v23v16v59v12v6v60v4v5v27v36v24v10v27v18v8v12v48v36v17v80v4v6v11M1823.8 737v33v286v113v61v140v81v19v1v25v114v14v11v55v10v15v47v31M1826 577v7v90v6v7v42v173v37v79v75v213v1v34v60v26v36v114v8v5v35v21v43v42M1828.2 560v19v86v101v48v56v8v39v80v37v46v75v16v108v37v34v47v9v10v29v73v22v7v5v13v30v7v13v26v2v7v48v35M1830.4 595v49v53v31v139v8v15v11v57v95v100v83v81v119v28v118v3v24v9v3v2v24v13v1M1832.6 555v44v112v23v10v2v3v63v62v42v54v24v96v49v19v105v1v4v23v33v17v39v35v103v37v6v6v22v40v55v45v26v3v6v56M1834.8 593v94v24v59v19v43v19v43v13v20v61v6v36v126v37v69v17v69v7v24v102v37v18v69v28v42v20v29v49v30M1837 567v117v30v59v24v22v14v108v23v12v28v31v33v111v8v15v58v39v93v62v21v16v1v26v54v13v14v10v27v42M1839.2 712v76v19v32v30v9v52v82v42v29v19v75v26v21v14v49v14v69v30v20v30v92v65v12v5v25v4v3v34v11v79v15M1841.4 647v69v68v27v22v3v139v102v56v116v6v64v20v34v8v9v91v10v22v32v30v14v2v10v38v62v4M1843.6 655v19v218v64v4v13v3v14v39v93v73v53v66v3v7v46v74v73v40v91M1845.8 564v53v27v11v124v27v96v62v1v16v70v2v50v41v123v87v99v13v6v2v62v22v24v9v6v30v23v23v112v10v23M1848 623v127v31v14v14v11v65v27v4v33v28v2v7v34v40v37v10v25v35v27v23v62v48v2v101v1v43v59v25v136v26v24v2v43v3M1850.2 771v39v33v46v16v45v59v27v16v12v16v22v29v5v110v11v13v58v48v39v41v26v71v45v40v9v25v20v100v1M1852.4 611v16v3v26v36v51v72v158v11v6v33v111v94v77v12v27v26v2v22v68v34v82v26v6v2v64v4v12v7v15v11v7v26v31M1854.6 589v57v103v1v4v16v65v35v33v19v72v6v30v25v44v5v35v137v19v4v34v5v92v31v2v8v53v26v4v28v65v29v42v4v11M1856.8 653v26v24v22v106v4v8v15v72v41v56v9v50v35v68v85v29v4v7v44v69v61v84v19v12v6v2v9v18v4M1859 636v90v32v158v40v13v31v22v4v73v2v49v68v10v66v120v19v10v46v2v41v19v18v7v3v9v28v13v16v33v4v12v16v85M1861.2 623v46v84v146v40v55v52v65v89v3v15v95v28v144v66v4v1v10v59v34v18v2v84v17M1863.4 594v21v108v237v21v16v28v102v77v95v21v21v9v26v81v10v26v142v5v3v20v22v34v11v19v3v54v8M1865.6 744v1v139v38v16v55v85v1v11v148v43v42v134v41v4v44v53v13v3v63v114M1867.8 610v34v346v168v12v55v138v7v7v65v115v76M1870 692v7v54v64v62v57v35v16v26v83v101v23v240v110v25v37v42v29M1872.2 624v24v278v71v6v12v485v50v4v25v24v152v12M1874.4 620v17v70v41v142v145v307v242v89v27v17v45v39v26M1876.6 1002v5v13v66v6v10v126v58v76v62v58v77v26v17v5v18v129M1878.9 639v97v69v116v18v130v150v73v46v44v66v39v8v134v54v7v16M1881.1 628v121v57v61v127v106v2v8v16v76v13v15v74v1v102v11v66v98v30v29v37v3v44v78M1883.3 724v54v1v17v54v3v16v75v3v8v31v38v19v33v14v32v27v12v20v79v79v35v3v59v84v3v34v90v26v43v11v30v2v48M1885.5 587v121v53v19v10v25v131v64v2v55v111v73v1v13v50v20v2v45v67v32v56v27v1v2v71v2v18v9v29v42v21v56M1887.7 578v81v5v7v33v20v8v85v109v19v5v9v25v24v110v26v73v77v34v171v8v4v29v56v4v4v38v33v42v6v2v23v13v48M1889.9 587v24v112v88v22v13v47v10v45v17v20v9v125v23v93v27v13v14v49v42v42v73v54v38v32v1v52v28v14v36M1892.1 647v85v2v22v20v27v37v91v154v31v48v49v17v64v28v88v132v63v25v57v34v48v14M1894.3 558v77v66v26v77v4v51v48v98v31v7v75v81v133v28v6v6v108v22v79v5v35v28v10v2v7v3v24v67v18v27M1896.5 638v21v13v95v106v39v49v22v16v24v103v1v25v14v63v33v70v8v54v31v4v61v24v4v34v1v6v21v6v22v20v7v28v2v39v56v21v22M1898.7 564v30v18v56v35v30v6v17v10v5v10v15v30v8v44v8v37v19v27v65v12v3v14v23v13v125v26v90v42v153v17v43v11v2v70v87v17v13M1900.9 613v178v30v146v29v30v25v39v7v30v16v7v101v4v104v98v35v96v4v13v13v8v3v7v14v4v8v68v31v4v26v1v7M1903.1 654v7v6v123v61v84v1v17v23v49v45v78v38v45v56v4v30v114v66v18v27v36v36v12v28v5v39v40v4v45M1905.3 566v32v14v54v27v6v14v7v27v147v37v6v14v25v20v129v3v86v63v99v26v4v12v39v8v58v47v23v4v7v66v51v8v44M1907.5 570v17v90v133v30v5v29v2v20v34v12v87v7v59v62v13v10v11v57v169v45v45v22v18v13v51v40v129v21M1909.7 608v80v57v65v31v50v11v2v87v148v67v130v76v40v23v4v15v7v44v15v5v37v71v9v27v5v5v6M1911.9 668v59v13v127v34v135v24v98v31v46v5v27v12v35v24v23v37v22v70v14v2v66v21v4v26v34v24v32v6v3v4v9v21v40v16M1914.1 647v79v25v127v14v3v66v9v9v16v29v23v14v3v14v116v160v23v55v94v8v2v24v8v12v14v2v6v6v25v30v14v19v97M1916.3 578v101v20v6v19v10v44v80v18v67v8v3v61v193v23v36v20v7v93v8v34v17v34v2v35v50v22v24v16v28v43v44v24v15M1918.5 623v53v20v50v13v71v29v55v49v16v12v25v93v71v11v7v8v27v34v45v8v29v69v2v40v71v56v20v10v9v40v50v104M1920.7 563v107v27v45v24v64v3v45v23v16v16v72v55v32v39v19v47v58v41v48v60v50v7v36v52v33v33v15v5v41v13v108M1922.9 710v5v54v7v120v60v35v25v7v50v46v3v21v19v3v17v38v111v33v31v7v114v15v50v35v2v20v13v34v29v3v42v12v53M1925.1 559v81v3v15v5v41v1v22v5v12v59v6v23v17v16v5v51v8v76v32v19v1v10v74v61v123v9v22v13v32v116v60v31v22v5v30v4v25v29v1v14v42v17v19M1927.3 613v176v43v49v44v2v69v327v52v7v3v39v17v83v43v22v13v23v7v15v47v23v10v32v28v31M1929.5 669v7v2v5v29v11v50v1v68v69v3v12v2v12v129v70v58v16v30v68v26v3v8v20v17v169v42v32v1v6v21v18v55v8v18v19v20v19M1931.7 644v103v33v5v23v37v16v83v39v74v96v108v16v9v44v94v17v14v82v59v1v19v10v21v18v33v15v66v26v41M1933.9 616v123v118v22v4v26v48v131v163v4v27v23v50v23v9v14v66v2v91v15v65v4v3v70v53v1v19v17M1936.1 601v85v1v70v12v27v57v24v41v5v19v10v35v65v50v8v28v31v30v69v19v3v10v17v117v58v7v38v19v59v18v8v3v7v21v33v6v20v62M1938.3 639v72v79v154v26v27v39v6v47v8v25v38v14v29v18v47v31v16v123v51v57v52v54v25v7v62v6v17v18v15v9v41M1940.5 573v73v9v53v6v39v76v78v63v25v3v79v1v4v14v24v38v19v84v140v46v12v15v17v19v31v2v7v3v28v3v8v14v11v47v4v34v3v38v1M1942.7 618v40v43v17v1v15v24v15v44v4v31v15v55v24v43v59v36v15v50v140v4v9v5v12v183v71v16v14v6v5v20v29v97M1944.9 655v30v88v31v8v4v50v27v95v12v23v30v45v10v106v12v2v47v71v66v12v48v40v14v37v2v22v62v7v40v45v15v8v13v52M1947.1 685v26v34v34v1v50v34v2v12v22v122v4v11v187v76v9v44v5v20v32v24v67v125v6v12v70v6v40v78M1949.3 571v54v74v79v17v29v80v30v63v71v26v162v37v33v6v62v37v17v8v10v107v40v17v7v22v8v15v11v24v82M1951.5 576v44v26v25v35v26v26v1v13v1v9v9v19v66v6v42v188v67v96v157v154v21v10v105v8v53M1953.7 563v105v9v3v6v6v3v25v68v21v6v13v132v26v49v18v26v60v13v101v32v55v4v135v16v73v53v54v2v26v93M1955.9 601v22v34v14v109v58v1v49v49v58v4v29v29v12v1v85v45v13v56v1v78v20v129v10v7v54v22v31v49v3v65v14v19v12v60M1958.1 567v128v44v46v17v123v42v5v30v30v222v87v94v17v24v17v38v10v6v29v11v7v33v32v21v16M1960.3 611v8v28v33v22v146v24v47v49v93v1v42v51v57v101v3v12v27v4v65v16v49v17v11v96v1v11v79v83M1962.5 635v49v27v12v53v18v36v33v78v177v13v39v103v23v20v64v3v91v4v54v24v11v26v15v5v11v156v31M1964.7 556v93v20v47v60v6v16v5v22v22v31v31v20v75v15v53v1v102v18v27v49v24v90v108v22v17v27v45v2v4v39v25v3v23v1v53v18v48M1967 622v20v20v14v37v8v197v65v89v88v5v41v8v16v59v8v3v23v45v51v25v34v39v68v56v4v35v5v174M1969.2 573v70v48v9v7v26v45v24v121v70v31v17v24v29v23v13v119v13v36v3v26v10v10v20v12v22v9v87v22v11v10v2v15v64v43v18v48v4v43v2v19M1971.4 555v85v90v93v19v36v51v2v5v89v23v42v6v27v61v15v26v15v31v66v36v25v47v12v165v26v22v8v48v17v64v11M1973.6 559v40v32v45v1v1v34v28v41v132v21v21v26v7v45v31v15v11v43v74v58v29v58v35v11v75v27v63v42v3v17v14v19v9v18v1v46v29v33v3v23M1975.8 580v10v55v99v16v18v128v47v13v36v46v24v109v103v55v19v17v18v129v29v25v12v23v1v18v11v2v3v17v4v14v5v10v33v42v35M1978 639v160v27v18v15v8v3v83v107v22v88v14v44v29v1v2v89v159v41v9v17v26v1v2v13v17v28v8v10v13v69v2v1v5v32v20M1980.2 694v105v78v39v8v14v25v26v14v70v208v46v29v23v46v8v134v15v20v44v60v30v92M1982.4 638v26v85v13v62v11v37v13v20v74v72v60v24v88v110v6v4v35v52v49v60v34v24v2v10v27v22v13v48v24v39v22v3v40M1984.6 761v1v21v11v16v25v20v12v17v52v29v21v184v13v6v7v108v24v47v92v75v5v59v10v22v100v26v6v90M1986.8 682v43v3v20v85v4v56v221v7v159v82v99v164v63v46v123M1989 668v89v63v55v61v99v2v31v14v14v62v44v40v3v40v48v14v77v33v148v41v22v14v62v25v4v2v51M1991.2 678v1v15v21v26v1v10v36v14v32v5v59v37v18v16v52v61v106v61v73v7v1v64v8v18v126v20v11v47v23v76v12v20v24v16M1993.4 563v38v50v77v107v17v21v8v2v20v3v7v2v19v10v100v12v14v22v72v135v27v1v7v75v140v28v28v63v34v4M1995.6 596v73v68v39v2v49v16v7v162v18v178v29v2v9v57v23v30v81v24v59v12v23v53v9v1v28v33v3v17v85v34v3v2M1997.8 693v4v24v41v23v4v14v22v56v37v41v16v2v32v12v88v16v129v256v22v16v17v3v37v4v10v5v11v11v9v6v57v7v8v29v9v42v21M2000 605v17v16v37v11v57v36v25v85v7v48v36v60v11v12v16v6v10v18v9v115v125v26v75v80v13v3v2v73v11v123v2v59M2002.2 576v80v40v73v11v8v9v99v54v12v9v44v17v57v1v58v210v35v8v53v17v73v19v28v7v47v41v31v10v25v53v29M2004.4 685v5v27v18v1v4v11v102v41v64v7v7v128v8v46v7v51v35v77v163v35v69v53v61v15v9v48v22v40M2006.6 667v200v11v14v67v9v11v21v12v33v8v40v13v10v55v149v59v57v19v97v70v8M2008.8 773v29v194v18v17v6v20v55v35v34v67v54v28v89v38v18v12v9v93v14v17v21v5v4v14v52v21v10v17v47v2v11v39M2011 582v1v22v87v27v9v65v15v28v178v37v2v19v79v3v47v73v23v59v62v29v38v48v21v75v23v30v4v3v23v11M325.4 406v26v5v59v18v6v67v9v39v189v133v4v35v18v34v32v67v118v12v7v2v20v17v30v11v48v24v3v57v39M398.6 383v37v7v39v36v16v76v3v31v42v44v106v47v17v3v154v30v45v42v18v35v20v112v19v17v91v7M1260.5 622v77v8v38v8v139v1v169v23v60v42v3v12v143v90v12v13v35v1v9v2v3v4v2v6v9v2v3v1v2v4v2v2v5v6v3v1M1266 652v9v13v14v27v14v32v33v4v4v263v69v30v247v24v5v7v12v37v4v1v1v3v2v5v5v1v1v1v2v4v3v2v4v10v1v4v1v3v1v2v6v3v1v2" marker-start="url(#mr)" marker-mid="url(#mr)" marker-end="url(#mr)"/>
<path d="M249 494v24v14v39v8v10v52v15v12v121v6v4v4v4v10v12v31v2v50v27v9v15v5v9v5v25v5v4v15v64v9v5v15v29v56v6v25v14v11v15v27v7v2v47v20v44v10v76v1v35v3M251.2 379v4v9v83v5v11v2v5v9v3v4v4v3v58v21v131v22v5v21v36v5v13v19v20v1v14v2v9v3v36v41v24v9v88v60v37v16v16v1v1v8v11v57v31v2v5v16v32v39v1v12v38v7v2v50v18M253.4 494v5v21v2v17v6v16v17v133v13v24v4v8v11v17v34v1v71v23v47v3v5v11v8v47v90v70v7v21v21v27v122v24v2v7v22v3v34v28v40M255.6 322v65v70v7v4v7v81v6v6v9v23v29v13v1v43v12v22v7v86v1v2v47v7v1v117v23v9v22v114v50v94v7v20v18v51v89M257.8 394v82v1v26v38v13v2v8v2v14v14v4v14v55v35v7v9v24v4v25v9v12v34v70v31v5v47v16v14v1v164v10v15v5v2v31v46v33v16v14v32v22v44v2v14v23v10v53M260 346v48v89v6v12v67v13v15v1v17v66v12v2v53v48v47v23v66v43v6v21v7v90v6v8v39v43v13v38v2v5v33v42v12v50v15v1v13v16v10v15v1v6v61M262.2 346v87v39v34v12v10v37v174v24v3v5v8v38v26v103v42v66v25v4v20v9v10v17v8v32v37v60v51v30v2v1v11v37v35v8v1v1v19v15v5v61M264.4 340v121v35v2v7v37v20v19v38v3v125v37v8v7v96v6v144v32v17v21v17v59v30v32v67v22v1v8v4v69v11v1v18v6v6v1v35v23v32v1M266.6 369v2v99v23v17v41v18v41v22v19v3v1v14v5v9v44v23v40v104v33v72v5v25v49v22v6v59v22v42v55v25v10v13v17v11v23v4v35v39v5v12v3v19v26v11v15v32M268.8 378v91v18v2v1v2v11v13v38v6v76v3v16v19v20v34v5v2v76v11v7v3v30v2v54v51v7v8v53v24v9v5v97v11v2v12v1v112v28v50v16v48v9v14v11v26v36v9v17M271 369v95v19v36v49v12v57v47v2v12v17v86v8v39v11v4v26v17v22v33v17v23v29v17v33v9v21v10v2v24v12v60v38v58v14v15v21v16v49v12v4v13v16v22v61M273.2 368v100v3v10v4v24v66v13v6v1v17v98v31v10v29v5v18v35v7v188v33v1v3v5v15v33v108v4v15v7v2v5v113v7v6v46v45v45M275.4 425v44v38v13v19v16v14v27v17v14v48v13v8v14v9v23v1v50v64v34v26v3v33v72v85v1v8v50v1v37v9v9v32v18v8v24v14v44v47v25v16v4v7v33v4v20v29v16M277.6 427v40v16v62v18v4v5v19v18v2v58v22v8v8v27v7v4v57v3v41v23v10v53v47v27v24v17v39v19v31v38v6v14v11v51v4v9v13v6v41v11v19v1v8v25v28v41v25v24v16M279.8 325v21v14v104v11v43v23v28v32v7v9v23v1v12v5v35v93v27v14v34v6v66v35v48v14v5v25v18v50v3v4v69v19v91v28v55v38v30v6v9v9v11v1v4v8v16v2v16M282 343v82v39v4v3v3v11v13v17v6v14v41v10v36v21v57v2v24v68v24v65v23v28v67v2v72v21v51v21v25v1v46v32v5v29v122v6v34v16v15v32v35M284.2 342v56v30v23v47v15v26v17v9v3v18v27v6v56v21v1v13v22v8v33v1v87v54v4v24v8v49v21v14v74v20v13v32v5v8v7v11v25v38v53v29v11v8v43v13v40v4v9v12v15v52v4v19M286.4 377v35v51v13v4v9v13v50v25v10v27v4v17v2v6v77v21v6v2v1v2v98v47v31v20v4v15v34v20v17v3v42v4v14v51v25v21v62v4v9v4v4v26v24v12v20v29v25v20v15v4v2v16v30v5v21v12v8M288.6 323v90v41v5v26v1v45v18v1v10v5v22v22v2v13v24v45v17v21v57v46v23v11v5v22v31v35v71v127v10v11v32v8v39v39v18v24v7v11v15v90v23v36v21v33M290.8 431v48v15v9v96v11v29v1v4v4v10v34v35v27v45v25v9v7v10v19v6v35v45v77v1v28v49v17v41v21v31v3v12v21v6v18v44v41v5v18v11v90v28v53v8M293.1 324v7v87v30v22v12v15v23v13v12v3v8v3v6v8v25v1v15v8v13v30v5v16v4v20v63v9v34v33v17v25v29v13v22v12v24v81v15v28v9v85v4v15v36v21v22v6v2v16v83v11v15v58v2M295.3 337v2v63v37v43v10v12v12v16v20v38v18v41v37v57v15v37v1v19v5v12v6v107v1v36v25v64v5v3v5v41v23v39v72v15v1v27v52v15v28v4v9v65v6v2v22v60M297.5 360v111v2v113v25v1v4v73v4v26v13v14v174v117v11v30v17v1v24v4v18v53v21v28v19v5v11v15v42v15v14v4v70v18v8v63v15v7M299.7 425v48v45v11v77v26v43v76v22v8v68v23v3v35v42v38v4v29v40v10v10v104v9v41v20v17v45v32v51v11v4v7v11v32v2v8v8v2v9v2v8v7v44M301.9 326v95v52v10v4v6v10v4v37v5v53v4v30v4v20v5v41v17v12v2v41v43v11v96v69v98v51v7v23v5v1v10v13v8v18v41v32v8v3v8v1v21v8v29v4v2v14v6v21v66v31v5v8v2v2M304.1 410v31v105v11v13v6v26v16v18v50v92v2v3v34v16v7v2v40v75v79v35v92v6v22v58v20v16v25v4v79v25v11v2v17v94M306.3 450v6v26v1v4v13v50v12v92v9v49v9v29v5v26v13v29v5v15v45v19v24v20v18v15v3v145v38v19v6v77v11v12v1v2v13v2v15v60v76v4v14v13v10v20M308.5 444v14v21v31v7v39v8v13v61v24v16v1v42v5v53v12v55v60v12v5v11v34v15v20v22v17v4v2v36v42v37v14v6v55v5v31v30v8v7v4v7v50v12v8v3v3v7v23v9v56v39M310.7 336v28v76v36v56v19v25v11v9v6v43v30v27v22v55v12v2v9v5v1v20v79v60v4v5v21v18v22v46v16v61v33v32v16v9v37v4v11v14v10v16v6v16v24v28v15v19v3v16v38M312.9 444v23v11v21v7v2v20v5v6v2v94v60v14v33v2v123v34v9v29v12v24v4v1v25v19v22v17v8v52v2v75v36v22v28v51v32v5v9v9v13v2v14v8v8v2v62v26v18v27M315.1 348v15v122v5v13v13v33v15v25v7v1v4v20v39v24v16v55v190v37v1v24v43v22v30v84v40v15v12v4v13v20v9v1v18v54v21v1v7v22v6v33v18v4v27v21v4M317.3 424v9v38v12v6v13v14v5v14v31v3v16v23v85v15v18v72v17v60v17v13v42v59v18v67v42v12v10v36v18v12v5v8v13v48v26v10v37v19v4v7v1v9v19v7v34v79v16M341.5 1026M343.7 933v102v352M345.9 934v6v89v6v2v354v163v3M348.1 559v368v6v1v81v5v13v2v1v348v3v3v1v1v1M350.3 554v8v362v84v1v2v16v1v6v4v11v331v5v2v3v3M352.5 553v372v2v1v10v71v16v11v11v1v335v14v160v1M354.7 551v1v6v4v4v371v57v7v20v358v4v4v8v158v3v5M356.9 559v6v356v80v32v16v2v2v7v9v307v1v3v5v8v1v168M359.1 550v2v3v1v2v2v5v347v9v28v6v33v16v22v9v5v5v2v9v8v3v302v8v3v10v2v2v2v148v3M361.3 552v14v353v23v46v6v1v24v19v15v13v3v299v4v3v3v4v6v5v7v1v1v139v2v4v5v4v2M363.5 547v15v362v13v39v8v6v6v15v53v13v310v7v3v151v2v1v1M365.7 543v4v4v3v6v5v3v341v9v5v3v4v9v12v4v28v15v4v5v12v7v18v2v4v2v311v13v26v138v1v1v6v8v3v3v1M367.9 544v7v4v1v4v5v4v1v339v6v37v15v9v10v20v21v3v1v20v3v22v10v3v273v2v9v6v3v6v6v7v3v1v140v6v1v2M370.1 552v2v2v10v341v2v10v4v17v2v5v6v9v31v9v13v44v17v280v3v2v1v5v7v3v7v2v3v4v1v1v2v138v6v4v10v7v1v1M372.3 556v2v15v331v4v14v3v28v3v4v18v13v2v39v3v17v23v13v266v4v7v5v3v15v2v3v5v6v3v4v125v2v4v5v3v1v10M374.5 538v1v3v14v4v5v2v5v323v3v15v2v1v1v1v8v9v2v28v34v4v3v14v2v5v34v17v280v2v5v5v1v10v8v19v4v117v6v1v12v15v2v3M376.7 536v3v1v1v5v2v2v2v17v5v1v319v21v27v25v8v14v13v13v2v4v34v10v6v281v19v2v5v7v6v2v3v3v3v9v1v115v5v1v7v1v4v3v13M378.9 539v4v8v10v5v1v2v3v2v1v335v2v9v4v8v12v6v65v7v5v5v1v37v24v254v4v4v6v1v2v4v5v1v7v1v2v2v12v4v1v5v120v5v7v12v15M381.1 546v4v14v6v321v18v8v6v1v29v15v16v16v20v7v3v17v1v24v7v8v5v253v6v7v3v5v7v20v16v5v2v1v123v2v3v1v3v1v5v10M383.4 552v5v1v5v14v1v319v6v2v14v6v21v28v7v4v13v4v2v1v5v11v7v5v23v1v40v249v2v2v11v5v3v13v4v5v4v2v15v119v11v22v3M385.6 537v3v10v6v10v8v6v347v12v1v9v22v18v8v37v26v10v12v2v5v5v10v235v1v1v15v1v10v3v7v1v5v2v3v2v10v5v5v3v1v1v1v104v3v12v3v28M387.8 529v1v1v7v4v5v9v4v1v7v2v1v4v8v336v7v19v1v11v1v23v15v12v10v3v2v3v12v9v32v21v4v236v2v6v5v3v3v2v3v9v3v2v5v3v16v1v1v125v3v5v3v6v8v4v1v8M390 539v4v3v2v5v1v21v4v1v1v2v293v15v8v4v17v30v18v4v9v16v31v19v4v1v25v12v3v242v2v3v7v2v5v2v12v2v5v1v9v2v2v6v12v3v4v1v1v5v1v100v3v2v5v1v3v12v3v1v20M392.2 531v7v2v7v5v8v11v5v5v1v1v315v3v6v3v8v13v2v9v3v14v32v15v17v12v20v1v7v19v8v9v234v1v7v6v23v2v9v1v2v1v14v1v5v2v108v2v1v7v4v1v3v5v4v8v20M394.4 527v1v7v29v1v4v5v5v1v311v3v3v13v6v3v13v26v2v6v16v13v7v1v2v1v32v10v21v16v247v3v1v3v4v1v2v6v4v1v6v10v4v2v3v1v2v9v6v6v8v2v10v88v9v9v14v6v3v3M396.6 539v12v4v12v2v5v1v8v1v3v277v29v1v7v8v34v2v2v15v66v39v30v2v5v3v222v1v5v2v4v1v2v2v7v1v7v6v5v13v2v2v2v7v3v2v3v7v4v94v1v11v5v16v2v1v2v9v4v6M398.8 522v12v3v1v4v1v7v4v1v3v16v15v274v17v39v3v1v13v38v13v17v1v12v6v12v19v13v18v14v8v217v8v3v8v3v7v4v13v1v2v5v9v2v17v14v4v3v3v82v4v24v2v1v16v15M401 521v12v5v21v4v1v14v1v4v1v1v280v1v2v3v10v3v8v19v24v1v16v2v37v28v28v17v26v3v3v2v6v218v4v1v9v2v11v3v2v1v2v2v2v1v1v2v4v3v8v4v4v10v8v4v3v4v4v86v5v1v5v3v2v17v13v3v1v6v2v1v5v2M403.2 521v5v9v12v11v29v276v7v12v34v9v31v16v3v6v12v44v4v10v2v36v2v12v8v209v13v37v5v7v7v10v8v103v6v2v1v2v2v6v6v8v1v7v2v8v7v5M405.4 367v1v28v19v104v10v3v17v4v23v9v5v5v203v42v18v5v12v2v17v16v2v16v20v3v11v7v38v4v6v15v4v1v3v4v1v24v3v1v3v4v5v13v53v167v1v2v3v1v7v1v1v1v2v5v14v2v4v13v4v1v7v7v1v5v6v1v1v4v2v4v1v3v3v1v8v59v4v14v6v9v10v12v11v9M407.6 392v17v52v61v3v1v5v15v5v6v23v5v11v49v1v16v10v99v54v17v7v1v43v6v138v13v78v73v16v15v35v76v29v5v25v2v52v46v11v12v25v6M409.8 365v14v4v149v11v2v14v29v56v35v44v11v14v19v16v44v31v2v4v1v23v12v15v23v12v14v123v36v13v75v38v123v23v5v19v3v13v47v10v4v13v10v3v15M412 417v36v25v9v44v16v17v5v7v5v14v10v64v28v79v17v14v39v54v1v35v3v37v23v61v10v7v18v34v53v53v33v13v45v8v60v14v98v4v58M414.2 369v15v36v2v4v140v32v183v19v9v4v39v53v17v1v9v17v12v17v10v64v6v9v3v7v14v28v5v25v134v76v6v42v16v91v7v19v1M416.4 481v97v38v27v51v71v57v28v7v21v1v15v4v23v11v8v7v3v10v31v38v7v4v3v68v7v42v2v26v3v23v1v6v4v73v11v13v13v11v18v21v23v3v4v15v5v5v2v2v90v3v44M418.6 419v6v10v37v15v19v58v3v7v5v2v7v165v59v15v34v5v92v49v7v40v1v3v54v11v12v93v97v1v39v1v43v16v42v26v57v11v1v7v12M420.8 409v4v18v51v73v1v60v14v47v18v1v2v12v45v13v43v12v35v14v7v6v8v51v9v12v80v5v43v16v10v139v7v38v30v25v20v55v5v8v15v13v45v37v6v11M423 375v34v23v35v88v9v34v5v57v9v17v19v9v111v20v28v7v24v14v23v7v4v1v57v28v8v61v22v28v8v15v2v38v30v43v81v19v16v6v19v3v15v48v6v16v27v1v6M425.2 412v6v109v45v4v33v9v39v11v110v57v1v12v65v36v19v4v1v4v1v17v16v35v53v108v14v8v26v17v21v91v15v2v4v32v17v16v44v2M427.4 393v29v6v7v32v20v50v20v6v154v33v66v13v12v3v1v36v7v5v23v15v11v30v41v51v4v41v150v17v15v17v14v2v43v55v33v3v19v22v21v15v13v21M429.6 378v69v3v33v19v38v218v58v4v15v25v14v33v20v13v20v16v6v187v40v11v8v107v20v54v3v54v48v53v10M431.8 541v20v12v3v6v85v115v9v51v11v22v2v13v36v22v56v17v55v23v57v16v26v53v164v7v23v13v30v83M434 417v61v6v64v11v41v9v15v59v10v108v121v23v52v7v40v30v14v62v58v30v9v1v34v32v69v14v16v87v19v5v31M436.2 377v24v35v3v28v23v64v10v3v3v15v85v5v19v117v11v20v8v41v75v7v6v13v10v60v57v130v20v10v58v79v42v33v22v27v10v29M438.4 368v7v55v52v73v11v15v1v11v7v8v18v20v81v5v98v23v19v16v21v14v1v19v41v97v17v38v94v54v17v63v47v39v22v29v38v15M440.6 375v9v48v43v47v28v6v9v33v20v10v11v8v77v3v37v29v37v60v30v27v10v26v15v7v17v12v15v1v21v12v18v6v46v62v83v64v34v37v35v48v20v20M442.8 398v44v53v31v3v17v136v117v12v29v103v32v17v64v34v23v1v50v7v109v11v39v12v55v23v4v25v9v22v90M445 417v17v132v8v22v1v3v14v3v4v16v20v15v11v58v10v43v52v8v7v9v1v47v6v4v12v126v30v11v2v1v4v9v2v65v8v15v17v4v15v48v20v23v47v7v21v14v4v36v4v6v85v3M447.2 394v53v101v3v9v22v8v2v45v90v6v45v148v18v3v89v1v24v7v1v40v28v8v119v19v19v12v45v45v9v10v48v29v7v5v33M449.4 395v88v98v1v7v11v16v31v17v11v93v42v92v31v7v28v76v34v3v11v2v1v13v17v17v8v89v29v11v5v18v15v72v9v18v16v23v6v38v32v10v36M451.6 377v152v3v4v13v25v7v4v56v25v26v13v25v10v3v45v4v324v44v45v26v39v35v26v9v47v14v10v5v6v17v1v27v8v1v3v50v16v8v18M453.8 379v78v5v93v13v21v4v1v167v38v34v10v100v21v9v112v2v6v20v21v3v15v2v14v16v17v66v50v15v60v17v11v10v9v25v9v41v50v2M456 389v71v4v5v3v37v27v15v23v8v3v10v15v11v4v19v1v4v48v59v13v12v1v34v1v18v19v37v130v44v30v63v48v87v2v25v31v12v79v16v13v20v31v17v13M458.2 470v84v27v10v4v76v26v15v46v49v16v14v15v4v200v15v130v53v63v101v1v1v1v64v12v9v5v12v7v4M460.4 375v16v60v10v11v7v65v52v19v2v4v20v13v77v65v22v36v76v7v151v25v61v80v71v48v15v28v4v18v36v47v20M462.6 375v8v14v44v20v16v73v43v43v77v25v1v72v14v11v11v6v6v39v25v4v5v43v104v34v6v1v25v14v156v3v43v47v47v14v13v1v11v50v6v9M464.8 379v6v181v50v123v4v2v48v6v53v7v71v32v3v103v9v75v89v24v49v33v3v21v2v23v10v1v12v28v5v23v2M467 393v19v36v98v12v38v9v3v9v5v10v2v3v10v44v80v23v24v18v15v21v4v1v17v68v30v74v53v24v68v13v63v103v57v3v4v4v3v21v14v21v21v3M469.2 506v21v42v7v16v13v24v30v4v2v7v25v18v92v11v25v13v10v66v5v110v23v40v22v53v6v7v36v73v17v70v31v1v9v14v82M471.5 609v16v1v1v3v11v50v50v6v12v27v31v58v45v58v85v1v1v1v2v14v45v107v79v99v17v21v7v19v10v4v66M473.7 512v12v8v40v13v17v27v35v58v78v36v15v36v176v31v64v44v25v21v6v14v1v32v157v3v15v5v67M475.9 402v34v2v93v59v10v45v102v109v7v11v5v4v22v32v123v5v9v3v27v11v74v123v93v34v62M478.1 537v77v19v29v15v54v58v19v1v53v71v10v32v84v12v1v21v14v1v138v4v1v88v40v64v6v2v36v39v5M480.3 407v82v97v25v9v71v39v9v12v60v9v43v193v58v127v22v27v67v89v41v4M482.5 581v36v1v3v7v25v43v17v1v2v62v22v10v13v28v121v97v6v30v27v152v12v11v6v24v1v12v41v15v27v1v30v9v11v16v18v14v2v11M484.7 565v15v17v43v58v35v1v49v32v41v102v89v20v1v14v60v27v42v54v11v52v26v83v57v13v2M486.9 507v43v13v1v56v3v9v2v9v2v54v22v84v48v4v24v13v163v3v23v2v67v55v14v7v25v35v4v65v12v28v27v17M489.1 417v84v51v54v2v9v15v3v4v1v7v21v88v5v38v27v54v18v19v7v127v5v24v3v2v9v53v89v26v75v27v11v13v31v62v10M491.3 411v103v41v43v29v4v2v22v10v131v22v103v48v94v3v11v1v13v57v9v100v20v108v66v39v33v1M493.5 626v78v27v3v4v22v7v14v67v17v83v135v6v10v68v70v11v22v40v27v1v108v22v57M495.7 505v70v3v84v17v95v25v23v18v130v85v17v1v199v16v7v22v60v94v18v42M497.9 418v169v45v15v6v3v5v4v13v5v49v59v30v13v24v90v12v113v8v6v57v240v25v24v44v2v10M500.1 434v207v1v24v62v80v60v213v65v20v94v98v16v5v67v29M537.5 393v106v52v17v5v62v9v15v2v6v35v14v41v76v20v28v121v4v54v71v13v24v4v6v39v33v6v27v35v2v13v13v4v12v2v47v8v3v12v6v3v4v18v5v17M539.7 446v20v71v40v81v5v12v7v2v1v18v5v1v2v22v23v17v15v58v76v63v163v149v5v50v1v9v53v2v26v11v60v29M541.9 413v114v16v18v22v20v38v9v26v19v143v4v159v17v209v6v8v10v41v22v30v1v3v37v6v5v6v13v12v60v2v14M544.1 518v3v43v17v14v14v2v43v26v30v12v40v9v4v158v101v106v59v36v10v28v8v38v7v16v12v37v8v22v1v45v31v4v34M546.3 431v65v31v42v24v11v33v12v13v21v21v49v143v66v15v28v17v84v28v1v57v21v11v24v1v22v6v48v41v8v113v13v19M548.5 426v89v2v19v31v4v14v23v13v34v1v12v15v18v27v21v5v57v109v40v85v13v69v22v25v13v4v18v10v75v5v5v6v21v45v4v16v7v8v9v5v11v33v2v23v52v2M550.7 410v83v24v63v47v2v26v7v9v2v7v6v15v3v7v8v1v1v5v103v73v277v6v6v1v17v30v28v69v26v8v43v8v12v11v10v6v18v71M552.9 417v4v95v32v19v7v3v96v11v15v35v4v26v66v26v141v162v6v4v38v2v13v85v2v10v11v39v41v10v14v1v37v5v21v15M555.1 436v5v6v91v97v1v10v15v28v8v29v13v214v19v149v17v43v3v7v7v14v29v3v82v6v20v17v16v13v12v9v19v1v1v43v7v17v19v26M557.4 417v116v32v60v18v55v31v12v11v5v133v24v186v30v3v55v35v1v35v21v112v3v5v11v27v9v9v9v50v17v26M559.6 464v35v49v13v4v40v4v11v7v1v28v6v20v7v4v3v312v128v28v38v22v8v20v13v45v6v5v2v5v11v2v34v15v27v5v26v35M561.8 448v31v17v35v10v36v24v5v46v2v18v27v5v17v16v22v26v187v73v18v80v1v14v8v20v54v27v112v35v19v22v3v19v11v2v6v24v10v37M564 490v33v1v23v32v4v8v15v7v8v6v26v41v1v2v19v5v24v13v2v8v4v11v8v251v70v35v21v26v28v16v77v17v29v79v21v43v61M566.2 522v17v1v44v22v33v9v44v10v14v5v2v9v15v11v216v83v59v24v11v47v124v28v28v24v44v26v12v15M568.4 514v31v51v13v10v10v7v34v4v2v6v3v11v7v1v29v4v6v81v74v96v24v10v110v59v42v17v30v48v15v26v46v9v20v7v11v5v1v32v5v3M570.6 412v36v65v9v13v2v53v11v10v27v6v6v16v1v39v29v173v110v2v63v70v5v49v7v8v55v31v61v18v12v20v45v32v3M572.8 431v55v4v24v28v71v18v24v50v30v42v253v101v41v30v10v34v7v23v46v12v9v21v66v3v23v70v35M575 408v109v45v22v1v5v37v42v7v36v2v5v13v12v23v25v98v171v41v12v20v4v54v13v22v94v49v40v70M577.2 466v69v8v4v4v37v27v20v3v4v7v21v9v3v20v9v2v7v13v35v1v12v12v121v115v82v13v6v27v17v4v23v27v5v4v69v83v8v14v4v104M579.4 414v114v57v12v53v42v28v9v20v54v16v145v20v65v16v3v48v69v7v34v23v38v10v5v48v2v3v40v133M581.6 421v14v27v25v60v12v7v23v9v11v12v7v25v6v12v15v14v27v6v7v1v209v39v79v3v75v11v3v29v92v12v10v25v9v54v3v63v8v6v17v15v12M583.8 440v13v51v44v26v70v16v12v24v3v4v30v22v135v7v95v122v7v30v50v21v12v14v4v7v5v17v1v16v35v2v4v12v19v22v28v38v80v9M586 416v4v79v15v20v12v25v15v4v2v7v7v39v10v15v13v8v26v3v8v1v13v23v10v3v61v25v7v99v50v73v19v31v73v15v39v17v29v44v5v5v8v9v30v6v10v30v8v34v6v10M588.2 422v79v34v4v29v25v8v93v45v28v29v57v144v47v38v22v32v52v8v2v31v64v9v40v14v48v3v7v14v5v73v60M590.4 491v42v33v12v19v44v8v57v31v5v2v11v6v103v70v213v25v41v46v51v6v8v6v10v58v3v23v32v16v3v25v1v17v54M592.6 413v7v20v18v20v3v73v25v16v51v23v2v8v18v2v7v39v169v190v7v8v11v15v32v33v13v9v5v38v26v11v22v15v27v9v7v15v16v22v37v3v52v14v5v2v6M594.8 653v12v1v39v21v4v8v9v18v7v163v41v115v4v26v3v89v55v45v18v1v7v12v4v6v12v14v36v2v4v10v15v44v6v22M597 413v126v3v40v6v9v20v1v24v6v3v5v34v3v29v3v12v97v8v16v263v24v41v14v36v1v1v9v29v25v77v1v60v11v26v86v9M599.2 426v97v40v67v12v18v7v2v21v3v33v100v93v34v143v22v8v25v14v14v12v2v75v23v11v41v15v16v10v23v28v4v16v15v9v2v3v23v2v62M601.4 420v97v27v15v2v17v13v37v7v3v8v9v6v6v12v28v12v27v80v17v122v75v105v3v47v144v9v29v61v26v31v15v54M603.6 497v25v8v3v1v36v2v3v5v35v7v8v66v4v8v31v3v4v24v132v75v44v79v242v2v3v8v1v17v17v3v15v48v22v29v26M605.8 460v26v34v2v33v21v13v24v10v2v3v28v5v4v19v15v61v14v39v124v5v64v40v20v34v46v20v36v54v20v24v34v6v15v3v39v7v14v2v17v74v6v20v6M608 418v107v84v27v21v9v11v3v44v31v7v74v103v4v88v40v34v95v6v99v9v14v11v12v51v19v16v2v29v9v10v47v3v6M610.2 439v25v26v49v17v36v22v19v7v16v9v2v1v12v12v9v39v1v15v358v23v1v21v23v3v5v4v69v107v45v15v26v8v7v10v14v7v63M612.4 475v60v2v6v3v33v11v22v22v7v1v2v49v4v11v36v20v181v60v95v34v10v7v18v84v5v17v33v70v3v10v3v4v9v44v16v2v83M614.6 467v60v54v29v12v15v18v5v53v8v13v4v10v424v10v27v24v29v46v32v9v13v5v24v50v16v4v6v2v34v11v11v19v8M616.8 535v42v16v2v1v2v30v10v9v48v61v91v233v35v21v17v58v4v51v29v34v45v4v6v2v28v60v2v15v34v14v8v4M619 424v36v33v68v17v20v9v14v8v5v40v31v7v10v12v16v9v3v21v14v156v351v31v4v19v8v9v32v8v21v4v14v114v4M621.2 418v27v40v75v35v26v45v3v21v9v6v14v3v5v28v4v15v392v16v26v66v5v12v9v13v56v42v46v35v8v3M623.4 533v50v9v21v6v38v73v72v7v126v169v28v35v9v8v87v73v46v16v3v15v27v20v35v13v4v13v1v9v9v16v2M625.6 429v15v74v102v12v12v7v22v6v36v16v80v191v7v49v74v6v23v30v24v1v4v30v11v4v3v8v5v43v10v4v8v4v7v1v23v3v22v2v56v24v17v11v24v43M627.8 452v47v13v2v6v9v7v5v10v24v2v38v14v2v4v13v41v25v34v27v41v13v237v75v30v27v26v16v24v37v30v54v87v1v36v2v5v17v1v4v5v4v8v15v8v7M630 445v98v57v2v11v7v22v4v41v9v20v45v259v12v77v5v36v27v13v22v42v14v21v43v31v3v10v6v46v22v7v4v37v18v36v39M632.2 445v1v6v81v10v31v17v2v7v7v25v2v10v2v15v26v16v3v10v20v27v230v126v49v38v15v40v10v19v8v12v4v26v4v19v3v5v21v2v15v21v1v29v6v31v3v26v15v7v15v9M634.4 510v74v6v13v5v1v57v2v4v30v8v43v40v326v23v3v3v7v46v16v5v23v40v17v18v6v15v59v6v2v107v14v21v42M636.6 487v1v9v30v41v22v22v21v4v73v29v23v42v55v27v64v117v17v108v10v84v7v87v17v11v20v18v56v4v6v36v2v26v16M638.8 442v6v66v7v25v6v17v11v7v6v11v6v2v8v20v17v7v8v10v2v6v29v4v68v29v99v221v6v11v54v36v32v33v100v13v2v2v13v85v23v21v6v3M641 455v97v4v37v15v48v5v21v8v2v50v6v18v61v127v7v72v29v1v3v48v26v55v42v7v3v41v5v5v28v17v9v25v35v19v10v12v5v48v28v27v11v17M643.2 525v8v36v28v7v6v80v6v31v71v358v14v1v11v33v4v6v9v15v31v62v26v2v2v81v9v4v49v14v5v27v26M645.5 428v2v5v121v3v7v14v1v2v17v36v11v19v9v3v21v53v30v63v12v173v120v81v23v40v20v20v15v1v16v6v17v10v5v3v15v24v17v24v48v12v1v11v12v11M647.7 427v148v48v22v2v13v3v3v6v41v4v3v11v2v11v4v111v105v77v17v42v42v17v84v33v4v15v27v4v23v16v3v3v1v10v8v60v20v4v13v19v9v3v6v25v19M649.9 516v13v12v39v41v2v11v16v51v1v4v19v45v1v145v21v157v21v8v5v7v62v9v33v35v43v3v30v32v3v5v5v1v23v15v16v12v7v20v1v28v2v13v10M652.1 439v92v9v2v61v6v6v4v16v29v1v87v45v14v179v16v27v73v13v11v2v11v1v18v53v3v14v7v24v3v7v58v40v75v1v40v36v27v8v25M654.3 1382v10v32v66v6v51v20M656.5 1338v43v21v47v10v28v4v54v7v15M658.7 1333v7v7v12v33v14v6v22v4v28v5v33v7v6v16v4v11v7v15v12M660.9 451v61v31v7v50v15v10v8v9v3v38v41v5v7v127v8v154v75v33v34v25v9v3v39v37v4v30v33v22v3v1v2v2v1v4v29v11v2v47v46v5v13v14v1v11M663.1 522v11v40v12v8v38v9v66v23v31v11v174v19v50v14v26v36v2v22v106v11v34v62v25v58v24v1v61v22v15v3v16v3v15v11M665.3 552v51v5v97v74v16v33v125v82v61v23v21v1v5v2v108v12v37v25v14v16v60v12v7v12v72v3v60v17M667.5 454v19v66v41v41v15v15v29v39v1v28v28v4v14v1v18v42v122v140v14v43v11v17v15v7v2v27v15v8v63v5v48v5v6v41v19v15v7v22v4v16M669.7 478v24v82v16v33v27v26v9v29v3v16v141v34v83v63v142v5v20v14v4v12v15v59v19v41v9v8v14v49v33v14v5v23v48v5M671.9 432v40v15v33v9v13v37v1v9v14v79v8v8v55v141v97v127v16v12v27v28v14v27v24v26v17v5v7v29v23v61v73v11v82v1M674.1 449v2v40v8v21v54v22v38v34v36v67v22v62v12v46v103v89v19v37v41v7v6v34v60v14v2v11v40v47v15v14v4v13v1v15v43v3v9v26v11M676.3 437v68v76v13v16v7v46v4v12v17v167v52v298v35v5v1v2v47v69v49v5v56v31v7v51v28v12M678.5 444v66v18v2v33v6v17v6v42v13v8v13v153v20v5v83v155v105v58v1v18v2v61v1v5v28v63v2v7v3v31v29v2v24v12v18v49M680.7 511v3v73v37v39v1v4v40v5v2v45v42v29v47v25v36v33v19v5v104v46v12v29v11v33v21v6v9v19v17v41v57v5v29v29v43v11v15v12v29v3M682.9 510v10v15v17v35v2v12v4v3v2v1v4v14v76v58v10v90v68v50v92v74v9v50v7v19v19v22v13v24v6v4v7v1v1v58v2v1v28v2v3v12v6v5v96v9v7v37v8M685.1 508v21v52v75v8v8v4v10v31v17v1v100v22v260v3v64v5v10v47v39v32v43v20v2v1v2v6v20v32v6v20v11v7v8v2v20v2v27M687.3 500v3v16v9v20v32v8v22v11v19v1v13v2v75v12v10v3v27v21v90v48v54v5v24v12v36v70v7v29v7v22v35v14v68v94v8v9v25v16v24v15v30v35v12v22M689.5 446v44v17v37v68v4v3v84v3v14v6v69v146v35v25v22v30v35v43v15v16v40v10v3v44v12v43v1v23v41v8v13v13v1v63v17v20v71v21M691.7 496v4v56v6v5v88v4v23v18v15v60v24v114v65v11v13v57v33v2v70v12v40v1v21v28v2v10v41v29v61v6v4v6v3v13v9v39v7v67v24v17M693.9 473v53v18v15v7v8v3v39v2v26v7v7v7v16v55v20v28v22v350v70v12v8v23v10v12v14v7v2v4v10v20v43v4v17v19v4v11v42v9v2v15v38v25v20M696.1 437v78v4v61v47v10v6v12v94v10v321v42v68v3v14v1v4v3v69v35v2v26v12v2v25v130v39v9v31M698.3 462v84v13v50v13v18v8v180v56v53v38v1v154v24v31v26v7v27v25v5v32v190v3v2v53v29M700.5 445v19v48v5v1v10v5v40v33v16v4v1v1v30v1v21v11v31v90v36v306v44v7v47v8v50v5v59v28v17v29v23v13v12v14v11v6v3v6v9v57M702.7 442v6v16v69v56v44v21v28v2v7v12v72v2v9v2v27v145v92v84v10v56v1v56v27v4v11v4v42v25v2v48v40v20v6v13v22v13v1v11v17v32M704.9 542v28v7v4v20v1v7v26v6v30v6v4v7v87v77v105v148v96v38v10v73v82v23v48v8v19v38v36v19v21M707.1 458v73v114v88v37v4v22v6v8v3v75v54v30v46v26v11v4v89v1v99v7v14v6v9v8v31v4v5v12v16v23v89v7v36v3v16v2v11v1v8M709.3 530v9v29v3v13v54v97v9v35v83v87v18v65v16v22v39v19v55v59v98v18v1v23v21v1v6v55v36v4v17v18v4v17v35v12v16M711.5 462v14v17v89v19v51v5v14v27v5v16v10v46v10v10v35v5v14v160v3v57v72v12v40v15v3v2v22v1v18v152v19v116v2v8v17v50M713.7 485v10v68v17v9v43v4v7v17v12v5v1v14v25v70v30v90v42v11v37v52v34v59v45v10v1v23v76v19v1v6v4v29v163v22v12v24v9v40M715.9 518v33v6v5v2v9v47v23v88v8v25v34v59v104v94v35v10v1v104v2v32v40v9v33v24v9v12v73v35v6v26v13v10v30v10M718.1 541v39v37v41v13v24v1v12v16v87v7v132v28v19v3v119v31v88v4v20v43v54v108v61v49v26v4M720.3 440v3v88v20v55v1v10v21v8v3v5v31v5v24v25v50v79v23v4v11v218v19v74v54v30v3v4v12v17v15v55v31v20v43v39v33v4v14v21M722.5 558v39v39v39v2v4v6v26v15v2v11v15v29v34v2v32v26v100v36v54v16v8v61v71v35v33v37v13v67v3v14v6v108v16v10v2v4v5v34M724.7 549v45v4v18v55v6v20v17v1v37v93v19v77v13v27v13v28v80v9v1v25v43v20v14v90v38v8v13v93v86v10v2v4v32M726.9 446v88v25v18v30v20v7v8v1v12v3v52v20v65v53v171v138v57v41v32v52v28v10v33v19v23v72v9v2v2v6v23v31v2v5M729.1 521v10v7v24v7v53v29v11v16v46v7v11v7v38v65v21v3v203v13v27v48v11v3v36v39v47v6v1v12v8v37v44v23v5v20v34v44v16v26M731.3 447v45v18v1v1v116v9v9v14v6v38v56v113v36v6v85v64v45v2v32v14v54v62v31v21v13v6v25v12v79v20v3v51v35v38M733.5 443v8v96v14v45v24v2v43v1v21v11v41v19v26v83v103v74v15v47v33v4v71v18v24v5v10v7v10v4v5v10v1v2v111v64v8v65v19v3M735.8 510v22v35v11v8v6v3v47v4v6v6v2v6v27v6v24v12v8v30v8v60v30v114v31v46v11v14v15v6v83v4v1v52v6v23v31v128v6v7v35v30v10v49v5v8M738 527v39v19v7v31v39v19v9v40v21v49v19v82v67v49v9v17v132v77v5v13v31v26v37v20v35v28v13v1v13v23v26v11v30v1v2v15v15M740.2 446v74v47v28v2v6v49v24v57v20v1v26v5v56v337v26v50v3v31v81v55v90v16v10v14v31v23v7M742.4 507v19v21v1v39v25v87v5v8v7v7v16v10v11v5v259v46v40v50v11v42v12v32v12v3v20v25v40v27v105v33v51v17v15v17v12M744.6 473v80v23v2v5v41v17v11v40v20v24v1v1v14v11v23v6v53v6v19v59v44v12v13v29v123v46v14v61v14v7v81v19v13v5v114v55v3v16v17M746.8 540v21v17v35v68v25v10v18v17v6v12v40v56v6v55v112v7v136v52v61v16v10v22v13v64v5v4v11v49v66v21v18v11M749 508v47v37v28v28v34v23v4v6v11v21v2v84v101v85v27v31v32v5v41v48v28v8v48v23v20v5v16v41v65v7v39v16v4v18v32v4v28v11M751.2 554v19v16v28v10v44v5v16v2v12v8v8v11v18v19v8v111v84v33v105v33v47v15v27v12v56v40v26v36v29v86v26v28v8v7v50M753.4 538v62v9v18v57v2v82v5v2v12v2v65v37v175v51v107v3v30v10v26v25v180v82v5v41M755.6 452v13v14v19v38v26v13v14v6v70v42v29v34v12v107v65v1v36v4v56v20v101v20v5v86v95v6v81M757.8 533v7v55v38v3v1v18v21v11v94v39v217v49v27v14v1v112v19v44v45v12v61v15v124M760 497v15v16v5v28v27v10v11v1v18v83v94v36v1v12v30v12v14v128v34v28v58v2v63v88v31v10v56v8v37v2v65v19v91M762.2 557v30v5v15v13v22v18v63v2v93v8v161v2v39v3v204v20v2v23v29v10v59v31v26v45v10v4v59v34v34M764.4 502v14v16v58v10v11v14v20v13v2v39v32v10v33v16v4v172v83v3v10v6v4v53v9v48v7v4v28v44v38v29v10v132v40v26v42v10v48M766.6 524v9v73v49v29v21v2v60v23v129v105v45v1v13v140v29v121v90v3v8v2v68v32v3v2v42v2M768.8 474v68v3v28v8v24v34v8v1v12v10v2v8v19v34v3v17v12v12v37v50v105v20v2v219v32v8v9v43v20v39v56v14v17v87v1v59v1v1M771 476v45v23v24v17v25v54v5v28v17v37v8v51v10v43v17v90v29v87v73v14v37v8v30v13v33v37v13v53v13v77v14v85v27v1M773.2 462v36v40v10v16v28v14v26v14v13v2v64v5v3v35v5v43v10v116v19v8v92v9v4v84v176v4v90v7v23v58v25v1v40v1v3v20M775.4 464v59v45v2v16v16v20v24v12v2v14v12v8v15v8v5v18v17v1v123v143v17v18v20v7v31v67v29v33v26v123v81v4v127v9M777.6 459v54v73v42v1v6v19v10v15v5v21v35v35v37v6v50v200v28v22v10v32v60v6v20v3v22v47v143v95v2v28v14M779.8 472v35v14v3v31v38v17v21v3v143v34v15v87v108v103v48v8v1v114v23v35v140v17v29v16v5v29v10M782 468v17v61v28v7v4v14v20v6v16v10v5v16v18v12v2v419v144v3v138v38v30v4v11v87v43M784.2 481v36v9v1v23v37v40v5v11v74v12v3v2v23v9v41v18v42v1v49v25v56v9v44v33v29v7v37v19v82v22v6v2v46v67v5v161v12v1v1v16v3v38M786.4 544v20v3v5v7v24v2v6v1v7v12v27v25v64v106v15v178v6v44v36v24v4v10v23v39v39v89v56v14v11v69M788.6 498v3v5v31v3v22v4v8v5v17v9v20v53v25v11v33v42v71v32v35v94v24v3v55v63v17v24v24v28v19v4v33v19v93v60v5v88v2v20v1v3v22v5M790.8 510v67v4v16v3v20v20v17v10v40v64v96v100v79v9v2v49v15v67v6v27v35v10v128v11v22v21v13v2v102v8v16v14v34M793 507v29v2v53v43v71v5v8v1v124v30v168v28v37v10v25v10v68v5v20v56v32v11v24v11v95v7v34v70v4v12M795.2 501v49v7v21v12v32v108v4v16v22v32v72v7v26v97v18v61v1v14v11v3v5v1v1v12v62v20v77v38v8v28v23v24v33v6v27v44v50v73M797.4 461v88v16v13v2v4v8v76v31v61v9v64v57v35v11v88v32v23v94v42v11v13v181v40v17v37v35v23v27M799.6 493v15v16v33v37v6v5v28v37v81v96v19v42v46v26v79v13v34v4v12v83v9v2v36v5v37v92v29v24v102v34v12v6v48M801.8 530v12v9v26v28v1v2v20v23v17v35v12v65v7v19v89v11v74v67v9v12v38v10v4v3v11v165v86v7v13v36v89v29M804 524v4v2v34v1v44v10v10v7v1v38v18v19v3v28v91v51v122v47v2v26v21v8v20v19v52v11v8v37v49v98v50v34v35v23v58v5M806.2 529v22v86v22v23v48v26v53v36v36v55v99v49v10v53v18v6v51v15v18v135v12v27v46v7v2v80v31M808.4 508v23v1v24v19v1v32v29v57v55v61v99v27v19v2v5v69v30v17v50v26v3v78v78v3v18v66v53v157v5v34M810.6 515v22v14v45v17v41v14v6v4v47v85v28v90v69v53v22v20v18v9v10v160v85v2v6v42v126v3v27v28v27M812.8 595v26v1v10v6v50v3v7v42v11v12v3v32v53v13v23v152v17v1v54v19v149v133v30v34v1v11v22v20v20v58v3v15M815 464v4v53v14v36v28v70v37v4v10v24v33v129v50v30v42v24v26v21v16v241v30v1v5v11v26v25v41v4v78v5M817.2 494v4v30v43v38v30v43v2v9v16v48v32v10v56v46v8v67v18v44v11v14v15v7v5v26v52v41v36v87v104v53v58v14v16v12v2v30v10v8v2v11M819.4 508v5v53v19v35v46v11v3v14v16v5v66v145v25v1v103v61v4v6v18v104v5v11v77v34v43v5v13v12v52v47v14v28v17v3M821.6 512v16v3v59v32v69v17v16v21v35v105v95v1v109v128v52v5v15v3v68v110v18v75v49v39M823.9 492v35v6v7v51v14v12v29v38v9v5v17v37v40v11v144v68v53v25v19v23v13v80v38v5v28v14v11v1v80v8v35v133v11v5v19v6M826.1 546v16v8v6v21v29v36v68v29v1v81v60v92v14v63v42v58v10v13v15v12v2v44v26v60v27v5v67v75v2v7v31v57v28M828.3 508v2v16v1v27v1v3v32v11v49v26v53v54v3v21v75v6v18v4v6v70v101v18v23v34v45v13v3v107v28v9v127v46v11v17v16v3v7v10v17v26M830.5 480v26v14v16v40v4v2v4v27v17v38v1v6v10v15v11v25v28v24v40v36v7v26v34v16v177v22v57v130v45v25v60v71v5v54v8v25v5v3v10v11M832.7 549v15v3v14v9v25v5v37v28v1v34v48v9v37v55v46v10v46v81v6v34v30v13v26v7v36v1v11v7v5v7v45v30v21v2v4v13v23v49v119v67v2v2v31M834.9 571v3v26v17v7v1v9v1v5v22v21v19v2v64v152v32v12v18v43v6v21v55v27v12v101v73v10v37v66v32v21v1v11v48v27v60v21M837.1 523v24v4v115v2v81v2v15v47v17v131v8v94v42v11v44v84v15v2v77v68v111v65v2v3v5v19v39M839.3 490v69v5v6v3v18v8v6v42v31v81v23v18v39v29v41v58v121v1v28v30v87v1v2v135v2v15v7v140v34v11v37v22v1M841.5 539v8v6v48v12v17v101v10v30v24v121v4v75v15v26v101v54v53v57v55v44v132v58v3v28v23v5M843.7 543v6v35v9v43v3v5v26v37v32v16v25v9v127v28v137v61v38v16v16v31v41v30v27v49v22v2v122v54v8v19v5M845.9 483v9v118v4v3v19v6v31v6v28v11v7v60v102v114v9v50v8v52v4v44v12v38v35v9v73v3v16v4v27v37v162v9v5v1v14M848.1 547v9v3v12v18v44v46v32v53v162v9v66v86v4v3v27v58v125v24v112v110v25v23v13v17v11v10v12M850.3 508v79v6v8v20v23v88v38v1v111v54v22v61v11v48v23v21v18v49v176v61v1v83v10v65v15v6v10v5v10v8v13M852.5 517v1v59v19v2v24v6v57v22v59v20v29v100v25v58v30v18v81v5v3v24v8v9v18v36v18v21v170v62v33v23v25v7v8v29v9v5M854.7 548v2v45v8v5v3v82v46v1v24v103v8v102v31v8v42v55v75v148v78v61v31v41v4v5v10v8v31v13v8v10M856.9 493v21v18v11v7v2v61v140v78v45v2v76v48v24v50v90v11v44v27v2v23v3v12v38v64v135v7v12v14v17v9v7v1v17v4v11M859.1 504v73v4v7v1v17v9v31v7v90v17v22v90v74v91v7v44v72v40v12v1v50v1v203v26v87v12v25v1v45M861.3 558v26v81v1v33v38v24v12v27v72v18v33v62v14v14v7v14v145v3v158v54v117v5v33v20v4v34v4v43M863.5 487v49v32v15v18v2v35v50v5v62v23v43v7v127v155v38v40v4v5v6v11v7v46v37v16v32v55v15v8v8v19v58v56v20v3v26v1v22v12v8M865.7 532v15v17v17v1v7v33v10v17v3v23v51v4v2v59v5v57v106v20v4v102v87v1v6v84v10v51v28v12v11v104v8v110v6v33M867.9 540v34v28v15v6v4v8v56v44v84v1v39v72v78v116v10v37v46v103v24v44v32v10v20v29v22v59v33v15v1v12v4v25M870.1 586v42v9v21v14v7v8v25v32v19v11v17v12v107v8v124v10v65v26v30v82v6v254v2v87v4v2v18v3v2v2M872.3 569v8v26v5v12v9v19v1v61v5v1v3v49v58v54v47v52v32v33v25v9v23v28v6v22v38v27v54v75v26v44v14v4v144v22v6v6v2v1v1v1v1v12v1M874.5 498v4v63v1v15v6v26v5v4v5v21v14v68v13v107v156v45v3v18v46v85v2v78v29v68v2v3v57v18v79v13v44v2v17v1v25v20M876.7 508v19v55v18v57v113v29v11v7v7v16v17v92v34v30v187v15v10v28v7v13v176v10v13v28v52v14v1v20v7v22v7v8v4v5v8M878.9 512v7v3v46v13v19v27v3v8v93v122v67v15v33v22v52v15v74v1v56v4v36v53v20v12v8v8v2v24v116v16v29v61v7v3v12v6v5v2v16v18M881.1 539v9v45v17v10v2v23v1v6v11v5v57v33v4v124v8v132v17v14v8v47v30v42v29v16v69v10v13v8v25v32v3v61v7v61v28v33v5v5v2v9v2v7v2v9M883.3 510v15v11v23v65v18v68v29v19v160v22v24v52v25v31v116v12v3v57v32v40v8v42v114v84v15v19v24v2v15v8M885.5 516v42v33v18v9v11v126v12v15v28v175v6v17v66v27v35v50v17v34v102v3v7v3v53v14v11v9v13v78v43v31v10v6v7v5v7v4v1v2v17M887.7 555v30v16v6v15v8v4v18v1v24v33v73v12v45v125v39v50v78v34v68v5v5v17v21v9v39v105v8v13v10v24v4v25v1v55v7v8v14v9v24v1v7M889.9 525v20v37v22v15v1v39v4v9v28v81v19v25v69v19v17v14v6v57v14v145v20v25v3v33v37v3v8v21v34v23v25v65v28v72v9v19v7v7v13v7v9v4v11M892.1 509v5v34v34v22v3v6v6v22v21v13v205v1v155v33v12v175v44v15v5v18v46v8v37v100v4v25v14v23v2v12v6v4v3v11v8v6M894.3 599v6v47v9v84v35v17v106v21v35v43v34v18v4v111v19v48v13v14v23v124v86v1v3v15v22v5v4v54v9v4v1v11v12M896.5 519v24v22v5v5v5v24v9v1v5v70v73v1v55v40v250v18v11v30v4v42v32v1v22v21v3v29v19v22v9v31v1v79v15v9v21v39v3v25v2v1v2v2v3v3v1v52M898.7 524v7v10v34v28v63v62v7v60v26v43v134v19v66v14v10v84v6v3v14v53v7v9v183v22v10v3v21v24v3v21v40v3v5v4v8v9v10M900.9 505v2v24v26v4v15v17v6v15v5v13v34v119v35v33v2v82v13v21v32v15v25v6v50v27v33v25v56v25v47v229v7v21v18v25v16v5v10v17v9M903.1 513v21v7v1v2v4v24v10v6v19v33v3v7v90v67v16v8v18v24v19v20v110v113v5v18v5v56v12v3v4v16v40v33v131v38v29v55v12v5v24v11v3v10v1v8v15M905.3 503v15v4v12v2v39v4v5v13v24v41v91v23v23v11v247v75v5v34v20v26v22v140v2v1v3v35v195v6v4v10v5v16M907.5 546v5v43v15v5v130v8v20v13v12v2v70v66v5v4v45v22v40v57v56v10v16v1v76v123v20v81v9v31v49v20v9v25v16M909.8 526v45v9v42v23v10v5v79v25v20v63v26v38v70v57v80v19v17v8v21v12v20v5v59v26v20v7v86v129v52v12v5v1v14v7v12M912 510v13v37v31v17v132v47v3v26v282v6v5v46v11v57v29v111v10v25v10v7v12v1v29v38v25v2v33v35v5v10v2v17v5M914.2 517v19v12v10v10v79v75v54v9v25v20v51v93v47v13v70v58v10v87v26v27v45v21v57v15v47v52v8v56v1v5v1M916.4 627v4v90v30v34v114v10v87v37v12v12v36v181v42v78v16v100v48v16v22v3v10v1v6v34v20M918.6 571v4v13v23v18v5v31v21v259v14v13v141v17v3v21v21v15v20v90v13v51v66v28v1v98v32v9v6v14v5v20v7v2v13v2M920.8 509v40v6v1v27v35v91v84v4v47v122v137v23v10v52v12v1v12v92v45v30v4v1v21v68v63v30v17v35v9v15v2v2M923 527v16v67v4v9v24v76v85v16v134v95v33v16v27v2v23v21v22v5v43v33v21v21v55v39v19v37v113v11v15v5v4v24M925.2 563v43v14v66v135v8v15v51v8v69v30v30v62v55v156v20v33v89v15v29v28v56v24v14v6v10v7v1v5v14v9M927.4 517v46v36v1v15v5v155v9v2v1v166v80v53v68v41v15v1v5v7v57v3v11v43v7v29v19v75v11v12v3v44v50v15v29M929.6 525v12v5v3v12v58v18v15v12v139v1v5v19v11v157v9v278v3v29v59v11v30v4v34v93v28v40v16v5v16v3M931.8 542v5v4v3v3v9v5v87v110v38v121v90v182v68v9v81v19v8v21v115v54v27v4v19v9v21v4v2v10M934 524v4v4v2v8v55v50v24v35v5v72v12v116v40v30v342v25v61v19v4v34v40v90v24v16v32M936.2 543v53v141v142v21v11v47v6v38v102v15v32v5v20v8v55v22v12v25v20v57v10v1v8v74v59v17v7v12v21v12v16v3v2v1v8v7v17v4v8M938.4 535v20v35v13v12v5v50v83v17v2v28v52v24v14v69v23v19v13v47v17v59v38v9v7v89v52v38v22v27v124v34v41v18v1v1v23v10M940.6 541v23v4v2v7v15v14v80v39v53v21v36v69v25v10v20v6v2v1v31v82v31v31v37v15v117v26v7v4v43v102v40v16v52v7v2v4v14v14v5v1v13M942.8 508v12v5v15v6v20v13v14v22v5v25v2v49v37v52v4v6v29v18v46v1v75v2v31v24v73v9v4v29v70v90v34v64v3v151v57v1v9v9v15v3M945 581v12v96v9v185v25v4v11v30v10v4v84v10v18v23v35v27v46v24v61v43v57v65v103v31v3v17v9v7v3v4M947.2 510v5v27v3v16v62v107v11v65v19v101v5v85v122v6v44v22v44v18v144v78v72v24v20v1v12v13v3v21v10M949.4 514v30v55v17v148v12v24v31v8v111v122v78v32v66v17v16v72v73v15v38v24v2v5v33v6v50v41v34M951.6 509v38v9v36v1v8v37v2v6v4v154v26v3v25v100v15v16v170v1v28v11v17v17v34v57v59v69v8v17v41v37v30v42M953.8 518v21v64v1v6v12v11v12v36v38v64v7v15v7v34v20v6v51v53v39v108v14v62v15v56v41v98v52v51v26v42v9v11v5v22v1v18M956 532v39v37v104v40v16v4v48v4v16v11v21v11v84v44v71v156v32v34v84v15v23v110v41v9v10v7v24v1v39M958.2 613v15v41v64v53v39v6v106v20v10v112v2v10v16v57v1v42v33v104v25v53v29v51v21v29v27v33v5v20v9v4M960.4 536v4v238v12v58v2v28v18v126v41v25v15v92v16v18v48v5v8v46v2v9v8v2v26v27v16v34v12v136v16v2v6v35M962.6 564v48v4v118v98v51v97v162v10v2v121v62v30v145v23v7v28v4v43v2v5v1v4v27v2v7M964.8 544v5v3v15v57v22v16v87v48v12v20v23v112v17v86v4v5v55v169v67v1v42v25v25v102v12v17v6v27v23v1v3v13M967 517v44v10v21v46v53v34v43v40v11v21v30v14v7v39v43v1v44v6v6v35v25v13v17v21v1v39v15v39v21v14v12v13v73v14v5v56v6v12v11v14v79v5v26v16v10v37M969.2 579v48v15v147v1v14v77v231v93v9v27v13v16v56v1v62v11v21v4v10v71v32v23v39v10v7v2v1v4v5v39M971.4 514v7v52v12v111v4v23v51v7v29v3v23v44v11v75v68v19v46v22v51v40v26v4v82v142v85v6v52v23v16v9v6M973.6 603v4v10v27v1v98v76v1v17v119v110v43v172v29v13v5v74v72v63v7v11v6v11v27v27v9v8v5v9M975.8 543v3v5v235v95v20v1v193v52v12v13v59v19v14v13v31v102v51v51v35v4v24v3v1v6v1v37v2v11v4v2v14v9M978 548v14v20v48v15v6v1v36v137v24v20v25v67v32v58v57v39v51v214v113v24v7v8v3v41v4v1v18v33v12v1M980.2 523v47v39v121v32v14v4v10v108v5v1v100v43v162v1v14v82v18v75v63v102v2v15v17v13v2v6M982.4 554v40v1v4v51v174v65v11v14v8v15v7v108v55v2v7v30v9v31v47v21v21v18v21v81v12v80v39v16v69v9v9v4v3v32M984.6 548v5v16v106v69v10v15v51v4v11v75v67v66v1v21v5v2v18v28v1v62v24v54v4v19v6v6v31v68v19v133v1v30v37v1v11v19v1M986.8 573v9v9v9v3v207v111v22v42v15v58v69v66v23v62v2v1v61v58v19v16v1v142v37v2v1v3v5v2v9v5v7v3v16v2v1M989 561v40v11v11v2v15v5v14v74v78v34v7v52v65v109v30v11v30v27v45v7v34v25v20v92v51v17v44v17v21v45v9v8v8v7v19v7v17v5M991.2 539v4v7v26v2v7v40v8v6v1v3v184v38v31v5v24v44v3v76v40v24v13v23v51v70v53v190v45v17v27v3v5v1v6v5v8v9v5v9M993.4 614v100v7v27v97v62v19v26v16v115v9v30v39v64v69v4v27v4v5v152v70v36v17v1v2v6v9v10v9v13v18M995.6 549v66v101v48v70v13v34v127v5v98v98v27v4v2v49v3v17v14v74v9v17v10v1v93v59v8v14v3v9v4v8v5v2v3v4v13v9M997.9 548v21v3v7v9v4v14v68v96v21v21v41v117v11v9v4v12v69v122v5v62v8v1v26v103v27v101v14v39v1v8v10v13v3v11v2v12M1000.1 512v28v47v17v37v14v154v16v22v8v77v10v148v16v10v14v21v20v87v41v23v18v49v42v95v26v59v9v9v2v7M1002.3 522v51v20v4v3v177v1v36v18v4v110v54v6v70v135v37v23v28v26v110v39v91v44v4v5v5v12v6v4v8v1v19M1004.5 551v24v10v27v39v19v206v192v30v61v5v52v11v42v67v74v7v39v42v84v4v15v9v4v7v2v1v7v5v22v8M1006.7 544v25v84v89v45v12v6v133v173v85v56v46v26v52v21v16v19v46v21v8v55v2v45v4v11v8v12v17M1008.9 548v2v28v1v58v2v141v67v1v14v27v12v149v20v2v12v38v1v39v20v49v15v8v26v54v38v107v17v12v4v23v62v1v6v28v17v6M1011.1 586v8v2v1v80v123v3v12v94v36v37v9v234v29v1v75v1v38v26v67v18v4v111v3v3v9v9v17v28M1013.3 581v19v2v44v62v39v34v19v2v106v32v14v63v81v21v24v69v21v28v23v2v24v16v71v63v4v35v46v39v7v7v13v39v1M1015.5 577v69v103v20v41v37v30v7v22v15v2v72v7v24v60v64v4v6v15v15v12v37v40v16v10v10v9v125v49v54v48v1v2v4v20v9v2v5M1017.7 612v4v51v50v19v94v168v33v12v23v68v10v16v3v22v22v2v38v8v4v13v6v14v22v6v3v237v17v23v15v5v13v11v13M1019.9 515v130v3v22v107v4v55v22v67v54v19v67v54v26v30v108v1v21v4v54v20v84v95v37v3v6v3v4v4v21M1022.1 563v4v6v52v23v31v33v13v9v37v40v42v5v34v6v127v21v26v11v50v29v5v23v20v72v3v17v56v7v18v9v3v28v26v16v11v23v8v9v15v34v21v24v3v13v1v7v1v1v16v8v14M1024.3 569v10v35v41v23v18v101v25v44v114v22v24v105v89v14v3v47v33v30v35v9v24v25v28v17v89v2v15v30v7v14v5v3v1v2M1026.5 550v86v3v28v87v49v4v28v67v62v78v16v147v19v42v60v27v27v13v54v15v63v3v33v5v8v20v1v11v15v1v11v16M1028.7 519v37v2v21v11v28v28v11v26v18v73v21v13v14v27v27v14v67v22v173v27v34v28v16v35v4v16v26v102v19v8v23v15v18v44v21v10v3v5v3v5v13v5v16v1v4v3M1030.9 522v11v16v44v61v11v1v200v19v10v10v51v20v64v5v14v16v55v5v51v24v31v33v78v21v171v4v10v14v28v3v17v14v14v8v10v14M1033.1 598v46v8v66v45v79v9v17v52v34v1v15v7v57v98v113v53v24v142v114v6v14v33M1035.3 613v11v23v207v3v6v125v16v50v19v4v17v48v64v10v25v48v13v2v33v25v26v62v37v16v62v2v16v18v6v2v4v4v37v14M1037.5 606v1v154v31v54v25v12v16v5v6v14v96v9v39v11v4v29v2v53v19v6v19v77v3v4v32v1v7v64v74v129v24v8v8v1v3v2v11M1039.7 533v6v66v7v8v5v2v18v19v176v20v15v9v11v1v69v1v147v3v123v102v10v52v15v5v145v51v1v1v19v7v11M1041.9 532v36v20v49v11v97v62v1v10v21v45v33v10v1v10v89v101v13v37v57v67v23v23v24v22v69v35v6v36v6v40v23v9v3v11v5v25v7M1044.1 526v9v9v27v32v55v195v2v5v15v2v68v6v7v5v43v55v7v57v115v51v50v4v3v15v8v22v56v3v50v88v1v2v26v5v7v10v10v5M1046.3 540v31v31v236v6v83v10v40v64v27v63v4v12v39v49v5v40v56v8v9v79v45v94v17v6v18v5v10v16v3v27v4M1048.5 524v27v15v31v9v6v180v19v21v32v29v34v15v2v6v5v85v68v19v41v20v18v54v30v20v13v10v27v2v199v43v1v5v3v2v1v12v9v10v6v11M1050.7 522v2v19v13v32v10v17v22v24v21v80v9v71v9v12v12v15v2v45v48v19v35v7v88v18v66v66v38v2v21v7v3v27v9v3v47v1v38v11v45v13v56v12v1v14v1v14M1052.9 532v60v33v15v17v121v58v2v1v31v3v14v49v175v169v45v13v2v6v1v15v33v34v161v19v20v4v1v1v1v4v10v26M1055.1 524v24v44v13v15v63v46v85v11v12v5v5v1v51v10v6v59v57v17v25v21v5v12v79v13v1v34v75v11v6v134v137v13v8v5v3v5v8v7v13v3M1057.3 537v11v9v97v8v33v97v22v13v63v56v46v21v54v13v15v17v12v48v12v28v57v4v2v24v56v7v7v6v33v97v53v14v14v4v12v24v11v10M1059.5 530v15v26v15v35v6v83v90v4v72v55v6v10v64v12v106v124v25v75v58v28v4v11v23v2v15v25v43v14v24v4v11v1v13v6v1v4v2M1061.7 579v51v28v81v82v39v86v48v12v54v83v5v18v136v28v37v14v57v72v65v10v16v21v5v2v9v1v4v2v5v2v29M1063.9 526v26v16v9v16v1v19v6v2v3v41v77v9v58v3v14v26v1v33v8v9v16v26v28v39v116v13v55v1v72v7v7v29v26v2v14v16v4v58v34v15v29v21v65v12v23v1v7v5v1v29M1066.1 518v2v27v1v34v88v136v30v68v8v22v61v33v129v18v7v2v20v83v35v18v9v6v14v9v72v72v23v42v30v1v7v43v2v1v9M1068.3 573v21v37v21v57v82v46v10v6v26v17v23v7v29v46v5v103v1v14v81v1v12v90v4v44v14v133v2v43v28v8v2v18v14v2v6v37v8v9M1070.5 534v10v17v6v27v35v13v5v20v62v92v8v60v221v103v6v45v35v81v47v78v98v13v16v3v5v2v9v9v5v12M1072.7 557v26v16v27v33v59v57v81v21v82v144v3v36v31v16v47v68v38v137v51v61v18v23v3v6v9v4v2v12M1074.9 642v95v106v6v26v109v20v11v135v14v146v9v3v58v18v82v15v65v28v4v12v3v6v27v7v1v24v4M1077.1 528v9v77v26v85v39v67v37v9v18v15v75v20v65v62v153v71v29v20v21v5v24v43v30v32v24v15v1v10v2v9v4v15v7v1v3v6v3M1079.3 556v343v16v33v29v36v10v15v110v11v82v84v27v56v14v29v82v37v13v23v20v4v5M1081.5 542v41v36v25v39v47v78v31v22v82v44v11v20v28v93v144v7v6v3v20v31v7v76v5v17v92v13v47v18v3v10v32M1083.7 572v3v4v10v17v23v20v44v18v52v67v3v14v39v4v3v9v28v12v1v4v63v55v51v89v20v60v26v16v5v23v23v56v48v21v2v86v2v7v1v1v14v23v11v21v5M1086 575v44v33v125v62v10v53v17v99v31v91v72v14v43v33v12v110v79v6v18v34v34v1v11v4v6v1v25v6v28M1088.2 529v8v9v23v15v17v15v7v19v9v22v32v21v43v37v18v12v2v60v197v7v42v9v59v36v59v3v35v62v32v33v51v4v37v12v7v11v21v14v2v1v8v4v17v12M1090.4 550v20v12v9v21v15v162v19v54v45v3v3v113v130v39v6v79v22v13v6v22v31v135v53v13v22v5v12v10v12v10v2v2v14v5M1092.6 544v62v34v24v43v19v56v73v19v4v26v16v38v34v162v58v1v40v15v27v2v17v44v86v3v18v9v4v4v62v2v73v7v3v1v1v3v10v4v31v4M1094.8 548v3v148v14v37v34v9v27v41v134v32v54v39v22v67v9v155v6v31v6v32v4v8v14v19v40v23v15v26v1v7v15v4v1v4v25v3v2v20M1097 532v11v21v42v52v29v3v101v66v14v1v57v145v73v96v14v3v45v4v5v131v42v44v12v14v3v9v11v23v14v10v1v1v10v6v8M1099.2 569v107v71v70v47v12v10v14v62v51v78v6v6v6v3v87v26v53v70v26v15v1v29v1v28v40v55v12v65v7v9v3v1M1101.4 567v7v5v3v4v5v19v65v24v25v30v36v28v48v12v11v17v6v47v12v28v1v97v36v63v1v42v52v14v59v18v18v16v28v40v8v29v26v9v19v20v21v1v7v1v3v2v1v15v32v5M1103.6 565v55v157v116v12v22v25v85v21v49v3v14v7v22v44v81v55v82v55v49v2v87v18v8v10v31M1105.8 532v43v12v120v39v16v210v38v24v97v191v65v20v74v84v18v6v36v13v12v3v1v6v1v5v7M1108 523v13v6v12v22v56v124v27v12v9v96v6v25v58v53v3v44v32v33v15v27v8v7v1v4v30v148v11v3v35v28v40v25v14v29v7v29v1v4v20v7v6v4v1M1110.2 570v70v31v33v123v9v15v52v17v15v1v5v91v34v78v56v15v10v53v29v119v31v88v9v40v6v15v4v6v6v44M1112.4 550v71v73v11v4v74v52v24v27v7v22v48v14v43v48v11v69v51v25v10v11v102v11v18v35v71v70v34v4v4v21v7v1v7v1v1v2v4v23M1114.6 541v12v44v26v3v30v11v14v64v15v13v171v31v5v6v20v90v12v22v11v48v54v71v2v9v39v27v11v72v48v45v35v5v8v1v14v2v7v2v2v1v13M1116.8 632v6v42v42v21v64v16v26v44v70v30v34v3v2v54v1v39v28v4v12v5v19v22v6v121v27v46v31v51v34v28v8v41v20v4v3v14v8M1119 637v9v72v33v53v73v9v20v1v127v19v34v96v22v243v35v52v26v12v24v17v18v13v27M1121.2 530v71v201v30v107v22v6v84v2v32v18v33v65v55v9v7v32v29v9v40v23v14v108v73v10v4v13v8v1v27v22M1123.4 548v50v24v29v24v48v92v74v77v25v13v27v213v99v62v3v5v3v57v28v75v18v4v1v8v2v11v9v8v6v12v14v2v1M1125.6 641v102v159v151v31v59v190v24v44v75v111v20v3v25v6v11v27M1127.8 817v116v107v3v7v216v1v133v196v40v6v15v3v1M1130 605v32v171v55v31v21v58v71v6v24v161v191v196v14M1132.2 619v138v166v121v225v96v21v2v90v113v1v34v5M1134.4 611v69v98v38v369v117v76v72v4v63v12v10v20v64v57M1136.6 666v117v124v32v181v60v136v110v80v28v25v60v11v13v23M1138.8 664v366v192v23v176v44v124v10v51v38M1141 626v12v120v179v124v5v9v121v178v65v80v52v28v29v14v9M1143.2 598v3v2v10v17v317v91v151v16v344v23v5v25v19v43v9M1145.4 634v17v231v64v16v148v104v129v55v24v121v96v2v8v10v28M1147.6 639v284v13v14v24v12v60v13v175v166v28v28v41v72v33v34v14M1149.8 628v345v39v17v72v25v521v19v7M1152 609v39v160v135v19v96v171v124v149v40v73v17v11v24v2M1154.2 651v13v216v40v8v111v118v226v36v111v2v36v35v13v11v5v11v2v20v17M1156.4 542v59v2v176v257v32v41v65v412v2v21v18v7v34M1158.6 568v8v40v340v15v133v332v111v96v8M1160.8 592v43v36v115v105v146v57v11v35v82v122v17v83v76v18v17v39v9v21v8v23v6M1163 603v187v108v299v37v9v125v195v46v4v34v1M1165.2 597v15v55v12v134v47v61v37v41v120v43v40v147v5v64v153v13v31v21v6v12v31M1167.4 531v55v28v15v112v60v118v6v43v415v283M1169.6 530v76v129v43v22v33v82v20v6v159v30v346v105v2v74v2v13M1171.8 546v107v24v23v23v24v34v4v183v2v19v44v18v202v181v134v5v19v31v7v13v2v20v10M1174.1 532v62v38v74v4v25v114v57v46v14v157v58v156v115v21v54v44v10v25v13v5v5v14v23v5M1176.3 574v36v17v49v11v29v45v20v335v190v22v41v100v86v60v1v4v7v4v7v10v16v8v20M1178.5 528v4v17v26v28v57v2v18v47v103v44v4v2v25v40v28v6v27v17v67v32v167v5v97v53v4v5v6v11v9v28v79v20v2v15v21v16v2v21M1180.7 540v46v5v2v1v3v5v92v121v26v22v49v10v62v9v81v67v74v35v174v3v97v9v79v5v2v9v3v8v7v5v1v29M1182.9 561v34v20v5v33v31v195v34v24v6v3v3v22v51v276v13v39v35v20v25v3v1v4v10v64v47v28v21v4v3v1v53v17M1185.1 608v19v14v18v272v26v6v15v9v91v4v45v21v19v49v177v17v3v17v7v18v17v111v39v4v28v37M1187.3 557v50v16v10v15v81v67v31v32v1v49v61v190v87v170v17v7v160v2v6v5v7v8v4v16v3v9M1189.5 547v22v27v13v20v43v121v1v120v10v21v6v2v5v113v3v52v11v73v21v80v137v81v33v22v13v7v12v14v5v8v4v3v3v18v2v1M1191.7 529v81v22v3v5v20v2v105v5v193v54v54v4v13v112v67v21v70v31v23v46v45v2v17v37v27v5v2v9v34v3v3v1v20v4v4v14M1193.9 544v39v9v19v17v32v252v20v5v4v15v23v106v276v18v24v22v49v136v25v4v8v4v12v2v1v27M1196.1 565v2v25v36v4v6v2v8v15v101v32v129v12v3v15v3v41v116v296v3v45v19v17v35v87v3v39v3v7v8v5M1198.3 589v15v5v10v45v165v53v33v19v42v6v30v98v17v11v136v5v181v23v10v41v68v15v6v5v9v2v3v9v15v7v15M1200.5 556v31v28v4v36v10v10v33v12v24v61v19v85v16v14v4v3v5v6v7v92v36v47v25v38v49v30v70v12v52v13v36v31v7v33v13v32v43v1v5v3v1v3v15v11v2v4v2v1v5M1202.7 591v18v25v22v10v23v18v220v8v18v2v23v102v38v56v46v189v29v8v85v68v12v1v8v10v3v16v12v10M1204.9 544v37v6v15v38v11v1v6v140v76v36v25v4v1v10v12v67v13v201v14v8v145v11v39v7v49v67v30v2v37v2v10v7v1M1207.1 574v5v10v59v37v52v74v48v38v27v8v2v3v1v2v2v202v128v130v2v40v28v2v50v23v6v21v41v8v4v5v1v2v2v3v14v21M1209.3 551v54v49v15v222v44v40v2v199v184v73v4v12v25v1v13v75v55v19v17v2v4v2v21v3M1211.5 545v9v33v4v5v33v18v19v165v178v27v174v107v6v21v7v14v44v12v7v110v11v18v9v3v6v3v4v10v2v4v6v10v1v12v20v7v32M1213.7 578v1v34v28v6v18v11v37v187v8v38v13v2v1v118v137v92v3v56v24v34v7v40v48v48v30v19v6v13v1v2v17v9v9v5M1215.9 565v16v17v27v148v155v15v2v4v7v4v17v20v75v36v2v169v24v21v7v20v4v54v6v4v3v25v92v10v32v24v3v11v6v40v23v1M1218.1 530v111v50v24v123v19v85v1v2v1v4v12v19v15v157v80v164v32v13v44v1v24v2v76v7v5v13v13v13v5v7v1v1v7v31M1220.3 538v55v11v19v22v3v93v96v98v4v9v7v16v10v7v128v72v2v46v23v58v87v11v144v31v37v12v10v5v30M1222.5 528v40v6v13v26v6v27v7v2v68v65v112v22v8v11v11v51v59v19v11v19v40v39v81v24v13v64v40v3v11v51v52v23v18v19v21v5v12v1v4v5v1v7v20v2M1224.7 554v10v36v14v4v11v32v1v37v25v10v28v49v95v32v5v5v3v5v9v3v10v28v76v5v85v5v78v117v41v10v35v6v7v29v31v17v3v19v1v1v23v19v4v4v3v11v8v3v5v2v7v3v6v8v8v6M1226.9 528v5v60v40v32v167v12v76v32v27v22v25v91v198v68v20v22v138v33v4v10v6v4v2v16v2v4v9v7M1229.1 606v17v10v3v17v33v33v13v14v22v7v61v5v119v268v162v7v13v7v12v17v1v14v13v3v47v8v27v8v46v8v18v4v6v9v2v19v4v8M1231.3 532v12v57v24v5v5v1v113v16v45v110v8v141v16v44v16v70v193v9v18v36v5v76v26v29v18v13v4v22M1233.5 543v30v36v1v10v23v16v1v12v23v15v66v33v52v17v24v1v14v11v12v13v1v4v3v24v91v77v35v18v191v38v3v80v54v47v9v10v10v6v9v13v2M1235.7 540v82v27v6v234v9v30v8v7v1v15v21v2v96v13v101v17v106v3v104v28v15v7v112v9v31v7v25v5v6M1237.9 585v6v72v2v2v73v86v99v4v24v22v11v148v171v142v36v12v25v1v83v12v12v23v2v2v12v22M1240.1 570v28v18v49v140v97v6v16v7v9v1v8v8v2v166v29v120v74v19v21v1v19v7v49v58v1v26v38v30v37v1v18v24M1319.4 1591v46M1321.6 568v400v216v226v67M1323.8 570v379v642v79v24M1326 570v111v1v201v62v530v3v112v1v1v1v98v2M1328.2 568v114v288v1v79v3v355v67v118v75M1330.4 565v2v3v109v286v1v86v132v225v3v62v6v1v1v111v72v27v2v1v1M1332.6 569v4v309v82v82v6v420v12v1v103v3v1v46v30v24v7M1334.8 951v20v3v70v15v122v3v3v223v64v3v1v160v1v25v5v1v23v1v2M1337 563v4v118v2v192v8v55v2v1v7v94v138v221v14v167v53v34v21M1339.2 680v1v2v2v1v2v189v4v73v3v10v2v2v71v12v363v4v57v6v104v11v37v35v2v16v12M1341.4 561v1v116v11v1v191v61v4v21v1v3v1v71v16v1v124v2v5v2v212v3v3v10v1v49v2v7v3v4v103v5v46v21v7v3v16v5v5v5M1343.6 566v1v1v115v201v57v6v2v10v4v18v56v2v4v11v123v8v4v218v4v6v3v3v1v48v2v119v38v1v8v1v1v2v22v2v31v1M1345.8 571v2v105v3v200v8v38v39v11v8v205v2v214v7v11v1v52v3v1v9v97v14v41v7v20v4v3v2v8v2v1v5v2v2v5M1348 567v124v3v180v7v5v3v51v9v5v3v445v22v44v5v2v110v9v1v1v1v3v1v39v4v26v2v3v2v17M1350.2 559v12v107v2v7v4v197v50v5v11v3v5v9v1v1v13v103v88v19v206v2v5v1v13v1v43v9v114v6v3v2v34v4v2v7v14v1v2v12v12v4v5v3v5M1352.5 561v7v3v8v103v4v2v6v1v182v2v5v51v5v5v5v5v29v206v1v4v2v2v210v3v71v1v1v3v2v5v87v1v1v7v3v43v1v15v10v5v1v4v2v16v7v5M1354.7 557v3v4v12v103v3v9v3v3v176v8v15v52v2v9v20v8v1v203v5v2v204v1v1v3v3v1v2v9v5v4v37v12v7v9v90v7v27v19v11v10v21v15v12M1356.9 563v2v22v90v2v2v11v2v4v180v3v11v32v4v13v31v7v1v15v102v86v7v3v3v4v198v2v1v9v3v3v1v4v12v31v1v1v5v8v8v3v1v2v1v105v34v11v2v2v12v4v10v11v1v18v2M1359.1 568v106v11v8v6v8v169v6v3v2v5v54v3v11v19v2v11v4v1v180v3v222v5v8v17v32v15v4v108v1v6v36v3v6v5v13v2v1v8v1v1v10v3v4v6v4v2v7M1361.3 560v8v3v2v4v6v91v3v17v178v4v2v10v2v1v2v43v24v7v6v5v18v2v41v136v13v7v4v198v1v4v3v11v4v10v2v33v2v2v4v104v5v5v9v55v5v2v1v9v1v4v12v4v6v5v2v2v4M1363.5 630v79v378v75v232v283M1365.7 701v12v124v86v33v10v6v5v2v109v8v51v10v57v168v58v32v8v12v143v38M1367.9 591v230v99v46v93v25v353v35v123v46v5M1370.1 658v117v38v120v156v57v13v4v20v23v4v221v6v57v165M1372.3 603v114v189v2v41v66v25v110v7v3v172v123v5v179v48M1374.5 564v6v3v15v4v98v69v4v40v69v73v3v18v27v3v33v21v6v1v82v47v23v17v59v109v41v3v40v3v6v9v119v46v44v3M1376.7 566v63v32v247v4v34v17v50v47v94v12v228v28v26v28v50v25v39v61M1378.9 551v9v28v17v5v52v18v90v61v74v68v38v11v36v11v15v9v71v227v64v25v195M1381.1 584v40v40v48v49v91v7v27v10v13v22v23v34v2v61v30v7v14v4v3v55v229v53v18v144v40v27v9v1M1383.3 656v21v10v60v148v29v50v6v92v1v1v226v135v18v15v16v12v9v93v1v18v8v9v22v41M1385.5 578v241v112v15v120v5v1v24v299v51v105v7v59v92M1387.7 590v273v49v89v71v33v11v45v257v8v1v39v24v1v170v8v4v20v5M1389.9 587v84v27v185v35v76v56v56v198v100v65v7v24v103v71v26M1392.1 549v44v106v21v103v63v14v13v3v6v49v75v5v13v27v23v35v4v26v35v187v79v34v1v1v81v6v12v32v14M1394.3 617v52v29v104v99v103v94v31v6v10v6v33v143v98v54v9v35v36v99v3v10v21M1396.5 553v126v17v13v40v6v143v5v26v37v5v24v27v85v30v256v22v37v32v6v18v12v33v47v47v9v5v8v1v13v2M1398.7 588v32v5v14v29v44v76v6v28v64v4v6v14v24v59v16v123v6v4v52v206v14v8v18v7v40v9v32v72v20v20v34v31M1400.9 558v45v97v77v52v77v69v145v10v1v8v19v8v41v155v1v65v47v31v31v2v42v14v3v42v60M1403.1 552v27v82v45v114v113v55v64v22v6v57v5v166v172v10v30v5v1v40v117v16M1405.3 552v49v1v22v93v4v70v6v59v67v87v7v1v24v94v196v14v24v23v39v8v28v79v34v3v18v49v1v18v44M1407.5 595v2v17v11v40v9v13v36v50v90v39v74v5v2v14v24v16v68v22v73v4v55v9v45v1v47v29v41v18v4v10v4v29v33v33v15v16v16v20v1v6v1v22M1409.7 551v1v164v100v136v16v3v75v9v7v133v9v58v136v36v16v41v27v23v29v24v39v29v13v20v3v2M1411.9 586v18v144v13v64v30v73v13v91v5v36v12v26v45v48v33v6v10v8v3v25v13v24v68v13v35v84v35v6v2v4v24v2v6v19v30v36M1414.1 577v31v7v26v6v17v62v29v17v30v28v57v10v13v52v10v142v10v21v33v34v18v33v10v147v36v6v71v17v12v4v9v27v56v38M1416.3 626v58v2v8v29v12v60v20v22v8v33v28v5v177v12v74v15v14v126v18v16v25v8v39v14v16v31v40v20v1v1v66v1v9v19v8M1418.5 569v13v5v2v15v22v29v1v2v19v58v40v57v40v15v42v16v23v23v121v11v6v4v18v9v29v48v31v29v5v55v23v27v37v1v21v37v13v17v29v2v14v4v17v3v16v12M1420.7 566v32v13v24v13v32v8v5v19v9v8v33v58v10v10v30v80v98v4v84v1v33v71v21v32v7v16v9v111v67v29v35v10v1v8v3v5v10v30v2v3v11v24v15M1422.9 579v34v1v9v11v120v1v21v11v3v69v14v14v2v57v89v22v44v95v1v1v18v29v2v10v54v47v6v22v45v4v35v72v3v11v21v9v1v5v32v7v37M1425.1 544v33v7v1v25v34v14v7v22v14v8v22v18v18v14v39v99v53v22v46v3v84v39v37v53v3v82v2v9v48v20v17v65v20v9v27v31v16v5v11v11v8v11M1427.3 545v25v35v72v64v26v5v26v34v4v2v17v41v9v1v8v34v37v58v7v41v34v33v82v26v30v25v2v39v3v31v7v35v89v11v37v25v6v26v5v11v17v14v11M1429.5 601v14v48v18v4v1v23v2v18v14v30v48v4v39v12v30v1v71v33v36v22v11v12v14v23v17v22v39v5v4v11v170v33v9v36v47v14v20v9v5v4v12v3v5v9v18v6v1v4v5v3v22v47M1431.7 644v10v1v24v5v18v2v69v1v12v6v22v7v7v48v7v8v58v31v48v68v5v1v9v81v58v4v25v34v64v15v4v68v12v4v38v22v14v23v7v9v1v12v7v7v4v12v3v21M1433.9 561v30v4v30v67v6v1v16v63v1v24v71v1v130v82v7v15v28v16v16v40v40v92v22v22v18v65v8v1v14v20v9v7v1v59v12v6v4v4v5v7v3v7v14v18v31M1436.1 587v17v62v57v38v8v8v26v65v20v119v21v19v12v29v97v89v25v23v4v5v61v36v19v24v1v13v12v28v2v4v41v34v23v63M1438.4 607v1v20v12v6v37v4v4v3v31v35v43v3v9v2v33v12v3v5v39v21v20v3v49v50v83v1v12v20v60v32v23v13v28v33v10v10v14v41v22v40v1v33v22v1v9v3v9v2v7v5v3v57v19v14M1440.6 549v116v5v21v31v22v20v12v7v41v27v23v115v4v4v20v71v18v19v14v25v18v21v48v2v7v8v10v122v16v40v93v8v11v8v5v10v2v15v12v24v18v23v3v42M1442.8 636v6v19v34v6v20v18v8v30v9v8v12v67v48v23v16v6v24v20v16v68v33v4v48v5v3v17v24v8v36v7v10v73v15v1v12v35v32v2v64v47v5v15v31v35v22v4M1445 637v8v13v6v9v10v5v9v12v57v14v12v4v4v27v52v2v17v5v48v68v5v13v31v44v17v52v13v16v41v4v10v12v1v7v6v5v81v67v12v79v12v2v31v8v17v3v17v50v19M1447.2 560v88v25v23v2v5v2v30v64v7v1v1v30v8v33v20v14v6v26v67v79v6v3v108v19v20v35v3v12v42v26v39v1v103v24v45v11v1v6v10v6v8v35v4v20M1449.4 547v28v41v59v44v5v3v7v16v57v14v34v4v9v9v33v79v15v14v7v21v35v155v46v21v3v20v22v5v43v37v30v1v13v1v72v11v11v10v1v17v3v2v3v20v43M1451.6 562v33v37v33v12v15v8v3v4v2v47v3v82v20v40v17v76v9v64v25v57v43v1v14v36v44v3v22v10v131v5v21v40v12v1v11v23v3v2v21v75v11v19v3M1453.8 578v18v31v39v17v11v55v31v7v5v8v1v13v3v28v1v6v1v10v31v46v130v17v4v5v3v32v9v43v8v65v60v28v24v44v8v63v2v16v31v38v37v31v30v6v2v1v21M1456 548v44v10v35v41v3v10v19v20v2v19v7v33v47v2v24v7v26v10v30v54v51v12v43v2v67v28v1v21v102v20v47v67v118v24v44v24v4M1458.2 555v8v21v9v6v76v11v17v18v16v4v4v38v28v6v2v19v9v55v159v62v31v26v67v10v56v25v10v1v4v60v10v6v2v122v3v3v21v6v3v3v6v3v60M1460.4 560v46v8v53v42v8v10v14v14v12v3v19v2v5v17v9v55v8v14v1v10v22v94v72v40v10v35v18v18v15v1v44v23v7v4v15v1v38v24v32v62v10v10v13v8v55v2v6v5v6v2v3v11v7v12v6v6M1462.6 553v42v32v20v4v8v9v32v44v30v44v13v4v14v12v77v26v44v35v15v12v7v16v2v1v13v15v139v7v34v113v5v59v20v26v15v5v26v2v1v5v5v5v22v30v5v15M1464.8 589v8v18v47v6v73v20v3v26v19v1v15v40v89v154v58v10v37v62v11v13v18v15v96v16v32v59v15v24v1v39v5v1v31v14v16v43M1467 556v67v20v19v7v18v15v43v7v23v7v3v18v31v9v19v33v60v98v31v17v3v23v1v21v16v1v51v33v17v10v27v6v39v4v42v45v16v19v12v25v73v9v13v14v14v16v6v9v5v21M1469.2 671v19v29v3v9v27v11v31v31v11v25v5v1v50v33v37v3v4v2v39v4v90v6v10v11v32v7v25v91v3v2v7v2v11v21v53v68v26v39v28v37v14v18v1v37v3v28M1471.4 550v39v11v78v47v3v4v7v5v19v24v12v12v59v22v22v8v50v30v60v4v33v2v18v2v36v20v14v5v89v19v31v29v24v30v8v44v11v40v25v18v10v8v3v1v1v9v6v20v44v54M1473.6 585v56v12v46v22v24v45v24v38v23v20v15v4v60v37v27v83v6v73v61v45v58v60v69v22v22v38v13v3v2v4v20v2v7v4v40v20v8M1475.8 611v3v9v2v35v17v64v50v11v26v23v96v31v83v77v5v135v7v19v48v1v10v12v8v46v21v18v38v30v24v8v10v9v1v1v17v17v41v42M1478 585v53v42v8v13v7v42v9v95v8v80v11v54v11v6v54v74v35v74v64v67v26v18v34v6v5v38v14v16v17v13v9v3v5v10v9v32v22v38M1480.2 548v45v21v12v36v24v27v42v14v14v55v8v11v5v3v15v42v36v10v18v17v117v67v15v10v114v4v6v15v24v59v85v67v3v1v4v14v86v32M1482.4 595v6v90v13v24v27v33v23v66v55v54v84v2v67v33v17v15v10v7v200v6v54v23v81v12v35v4v30v13M1484.6 624v10v7v5v28v20v10v34v76v8v21v61v57v26v47v115v10v62v14v109v28v39v3v4v59v6v21v40v22v10v6v12v4v6v10v2v71v52M1486.8 576v25v14v4v1v13v8v1v11v22v3v3v4v16v10v63v83v44v15v49v32v6v72v57v28v26v7v32v14v8v35v4v30v3v10v15v92v23v13v7v41v38v13v2v8v1v2v42v23v2v19M1489 594v15v28v9v15v22v18v18v21v18v40v4v11v15v37v9v6v66v5v56v39v86v33v20v44v3v25v58v18v11v13v53v19v1v19v59v13v1v1v11v13v7v20v21v10v2v4v34v36v57M1491.2 570v15v14v17v9v1v30v3v9v1v19v7v36v2v3v31v70v9v1v19v34v8v1v24v14v186v39v43v65v8v10v2v45v17v31v1v3v77v68v14v21v4v10v1v12v6v17v1v2v2v10v18v23v4v2v13M1493.4 587v13v21v16v3v4v17v2v15v82v12v4v20v14v8v76v56v27v44v10v15v17v38v123v22v7v15v4v22v66v37v28v14v13v26v76v1v8v14v4v1v32v8v15v42v28M1495.6 600v15v26v13v15v15v29v3v8v37v21v4v37v94v13v36v23v21v28v76v6v12v27v44v58v26v21v45v35v23v14v37v11v26v16v12v17v13v4v50v1v16v5v13v1v5v29v4v4M1497.8 607v5v9v10v25v4v3v21v3v3v11v18v105v87v51v66v27v131v20v36v11v54v23v59v60v57v26v3v1v16v25v3v9v6v8v1v11v2v4v27v29v26v18v20M1500 551v28v21v10v8v161v16v2v21v24v3v29v24v15v53v26v50v24v12v2v29v7v15v8v40v3v13v23v53v12v13v30v10v3v4v86v20v16v47v16v21v16v5v23v6v26v3v16v2v9v84M1502.2 601v2v2v37v14v1v7v50v1v5v1v11v2v12v30v2v27v4v17v50v57v111v12v34v15v7v16v31v36v43v18v26v47v53v41v3v7v30v38v42v6v44v1v10v1v4v42v13v49M1504.4 596v17v1v6v10v22v3v20v44v7v3v11v32v6v3v118v73v68v22v18v50v25v55v15v17v23v28v52v5v37v47v78v9v54v9v11v2v1v6v9v3v40v18v25v6v5M1506.6 570v29v27v62v4v9v41v9v5v10v50v62v47v34v1v35v3v36v13v12v2v4v2v4v102v35v22v15v16v36v6v23v41v12v3v6v20v43v3v15v30v3v13v12v48v7v21v24v14v34v41v3v19M1508.8 648v14v38v50v51v24v25v6v27v5v6v113v2v44v63v89v11v7v22v37v16v7v32v25v12v51v5v88v26v39v7v15v1v51M1511 590v1v13v2v27v33v5v27v1v12v34v1v17v3v10v35v145v48v40v37v46v18v51v72v10v10v7v4v9v25v30v23v4v45v44v3v36v4v4v1v18v18v12v4v9v10v2v4v3v16v24v4v24v19v7v15M1513.2 600v4v17v27v71v31v10v9v12v22v10v1v6v14v3v31v36v16v32v112v32v65v2v12v5v10v1v14v41v7v60v16v7v17v19v29v17v6v26v27v9v48v13v21v11v19v3v7v28v2v3v8v3v6v31v2M1515.4 640v48v6v3v59v6v18v12v27v99v40v30v13v11v36v52v59v36v18v15v1v38v56v73v10v55v30v9v4v35v47v6v1v8v6v5v11v22v67v25v10M1517.6 584v10v32v7v2v11v42v8v26v8v28v58v21v20v16v86v23v80v37v36v30v34v106v33v12v72v100v3v50v18v21v20v7v5v45v1v26M1519.8 640v21v20v22v29v6v13v46v26v21v2v54v6v16v138v86v51v18v55v7v6v106v105v18v54v30v3v20v2v1v8v3v10v30v2M1522 590v55v23v7v20v20v87v2v7v18v14v16v1v1v9v16v19v32v39v13v8v21v14v7v35v52v64v113v83v25v18v1v11v4v6v10v18v23v59v14v4v13v14v12v10v6v25v32v9v1v11v7M1524.2 601v26v12v2v3v26v2v5v6v52v85v7v4v31v1v30v10v33v11v8v29v65v50v9v21v7v38v49v11v34v105v15v21v45v96v9v4v14v3v7v25v6v14v8v49v16M1526.5 603v6v3v3v4v8v1v20v3v8v2v9v12v6v16v7v9v6v19v16v11v62v26v7v76v112v37v78v6v70v33v12v57v8v70v82v47v3v4v6v7v30v1v1v11v27v1v18v38M1528.7 577v5v10v2v8v14v19v7v59v7v6v3v25v28v2v11v8v70v22v42v14v19v44v6v75v9v107v1v14v23v18v32v18v6v60v24v8v15v97v46v17v26v17v16v2v20v4v3v2v2v6v7M1530.9 572v21v19v4v88v68v7v29v13v15v1v67v24v2v106v15v1v12v32v19v5v47v22v24v66v43v39v14v1v46v27v5v25v35v19v28v23v2v7v9v7v7v20v40v29M1533.1 586v12v49v40v29v10v82v28v7v10v5v28v2v45v11v42v13v51v65v16v27v9v98v39v27v3v9v5v20v21v39v133v22v12v4v4v8v7v3v54v23v18M1535.3 576v12v6v9v25v42v6v11v12v58v11v3v7v17v6v10v2v11v44v10v31v9v57v7v24v70v10v80v102v114v13v6v26v48v13v24v16v2v5v32v27v110M1537.5 559v9v21v14v24v17v10v25v1v23v15v41v26v1v27v9v14v12v11v18v75v15v8v44v15v9v82v16v10v46v5v65v76v17v86v4v28v21v18v25v1v10v14v3v14v4v1v11v18v10v11v8v3v15v8v1v26M1539.7 547v4v88v34v10v4v9v35v5v22v47v7v36v139v14v3v7v81v2v92v10v83v4v22v3v6v15v76v27v18v3v27v3v14v52v12v3v37v17v11v37v8M1541.9 543v68v53v5v12v7v8v1v22v19v21v4v8v35v6v46v55v5v2v27v9v19v41v124v5v63v14v84v11v106v25v6v35v32v38v17v4v1v10v29v5v60v33M1544.1 594v94v3v44v4v26v10v7v44v4v1v7v12v23v35v19v18v54v31v19v33v3v17v19v16v21v26v27v38v81v31v5v63v93v13v12v35v5v1v37v7v1v66v5v5v36M1546.3 564v25v2v4v5v19v12v6v14v59v11v4v1v6v30v35v26v6v24v45v77v4v4v18v7v15v33v1v93v3v3v6v63v35v48v75v28v1v54v48v20v17v12v3v4v44v1v6v2v3v9v5v7v12v7M1548.5 581v43v33v18v8v7v8v14v4v54v7v2v11v16v5v21v3v19v26v71v3v37v19v15v28v5v7v47v58v46v29v45v1v11v84v6v99v17v45v7v5v4v2v24v10v11v27v6v20v48v2M1550.7 559v5v16v16v4v21v1v1v17v1v30v73v69v28v71v4v9v39v7v1v13v71v5v64v42v34v41v5v2v71v9v90v1v12v25v37v30v2v28v29v7v4v21v6v1v5v12v20v43M1552.9 582v11v5v4v9v18v17v5v3v38v5v27v4v6v46v53v40v124v9v10v30v12v72v13v22v51v32v96v32v25v19v5v35v7v19v64v36v11v2v2v1v3v4v8v29v13v1v11v20v3v20v11M1555.1 606v9v21v77v8v75v104v28v2v7v63v2v56v22v61v15v1v38v53v201v22v28v39v6v4v3v1v15v19v7v2v7v2v8v1v12v1v1v24v92M1557.3 623v20v19v22v2v50v27v3v40v9v5v22v60v24v48v55v24v60v15v25v89v76v30v16v2v77v4v32v38v18v17v5v3v9v10v1v2v9v15v19v1v24v4v11v1v50v23M1559.5 574v34v41v1v9v1v30v86v15v4v35v2v53v71v109v17v58v26v59v47v135v65v55v20v41v4v2v3v5v3v1v15v34M1561.7 612v10v12v8v29v21v5v2v18v1v65v25v4v47v12v16v108v16v11v26v56v36v40v101v3v18v19v46v164v11v32v4v6v2v2v19v11v32v3v32v3v9v4v4v20M1563.9 597v3v12v2v39v18v46v3v79v1v15v30v33v25v22v284v29v94v40v78v77v1v3v22v13v18v7v9v5v2v10v4v17v5v3v2v47v12M1566.1 630v7v10v11v15v41v2v24v1v27v1v16v28v12v44v1v1v10v7v11v17v48v80v20v97v14v2v46v16v30v28v35v4v67v3v18v89v14v2v13v9v27v4v13v8v7v1v1v34v7v8v38v12v4M1568.3 610v48v6v20v1v27v15v50v42v4v2v2v14v13v60v129v1v8v5v1v38v18v42v20v95v28v112v32v39v102v21v12v1v11v17v28v29v8M1570.5 573v52v4v4v17v14v5v2v45v12v20v34v15v39v27v18v28v35v31v6v115v40v53v69v10v30v36v2v19v12v11v10v29v5v22v13v28v57v11v12v29v12v13v3v16v46v29v1v15M1572.7 580v22v56v9v3v6v4v20v32v63v3v37v7v42v21v6v37v8v19v19v3v60v6v64v5v19v32v23v20v10v123v35v39v81v10v9v18v57v22v43v24v21M1574.9 583v15v18v4v25v24v11v24v3v31v28v29v61v115v139v44v42v80v36v18v15v37v60v9v11v41v64v3v15v4v24v5v3v2v10v37v6v10v15M1577.1 579v32v20v12v14v31v2v23v6v12v10v26v17v4v5v21v6v15v17v38v62v89v62v5v25v37v4v81v14v12v24v7v74v85v20v14v31v4v26v20v6v59v44v33M1579.3 602v18v40v4v22v3v14v9v5v6v8v9v28v40v24v3v11v11v4v44v126v48v3v24v92v39v23v5v82v37v7v15v97v65v23v5v2v14v3v18v22v17v1v44v12M1581.5 546v41v8v4v7v8v15v15v50v4v16v43v34v2v11v6v7v2v12v31v48v16v16v43v192v15v82v59v38v12v14v15v45v29v6v4v7v45v14v4v2v4v10v8v9v7v11v17v5v7v62M1583.7 542v33v41v74v44v1v7v4v36v37v63v77v6v15v30v18v21v37v73v22v86v19v3v69v48v96v6v7v25v54v6v19v6v3v23v72v25M1585.9 598v8v20v21v23v14v24v18v2v21v20v22v7v37v12v8v68v51v5v13v32v114v43v12v109v6v35v93v39v39v83v9v7v3v4v18v3v29v3v4M1588.1 588v62v11v7v24v11v7v74v1v7v37v42v56v6v28v10v1v3v57v29v34v165v70v54v6v47v22v60v14v19v30v2v7v9v2v1v2v2v2v8v5v2v42v26v21v23v1M1590.3 564v13v14v20v33v43v40v24v12v20v79v30v8v36v21v5v18v23v3v91v54v7v22v34v31v26v109v14v57v116v17v2v13v63v9v60M1592.5 588v5v8v9v4v19v15v19v10v8v49v19v10v46v48v7v109v40v17v24v16v69v15v24v127v38v2v15v50v98v20v3v1v10v34v10v65v117M1594.7 568v24v14v56v9v5v4v19v27v6v4v25v24v19v42v59v36v59v3v18v6v5v6v13v82v15v52v2v36v57v1v8v31v30v53v18v8v25v110v2v2v20v7v7v1v6v3v13v17v4v7v10v10v31M1596.9 599v3v18v1v2v3v10v26v6v1v2v15v33v23v8v10v11v23v6v4v4v1v13v4v36v24v28v1v35v3v22v5v21v17v34v2v41v9v16v9v3v40v32v22v29v17v19v39v146v41v15v13v7v11v2v1v9v1v13v3v6v8v7v7v1v38v10v68v20M1599.1 556v37v35v22v25v25v7v17v12v11v14v5v23v39v28v18v36v42v20v3v63v6v3v29v59v2v5v4v12v10v29v48v14v6v14v91v1v35v14v120v21v11v17v4v13v54v21v35v2v24M1601.3 595v40v17v1v35v5v39v20v3v40v43v26v49v84v50v23v54v30v7v62v45v53v9v22v8v43v27v3v13v44v3v30v48v4v16v13v4v1v4v3v30v28v77M1603.5 554v66v13v7v10v2v1v5v23v2v25v35v11v11v2v69v5v1v6v2v227v15v16v61v26v11v69v47v16v19v26v63v16v4v3v48v22v1v19v8v35v31v38v21v1v16v14v4M1605.7 543v55v5v39v5v3v2v27v50v8v71v4v36v14v10v13v16v2v52v17v10v17v129v56v153v34v5v51v73v5v1v14v10v3v10v6v13v3v1v41v12v21v1v10v37v13M1607.9 575v4v96v25v30v6v9v7v25v9v5v1v40v46v72v89v7v57v50v3v6v10v4v106v22v25v31v3v6v2v2v25v10v110v39v12v6v5v26v30v8v123v3M1610.1 565v13v14v16v16v24v38v8v9v32v18v9v15v10v31v8v9v1v24v1v56v34v42v10v45v4v71v10v5v8v29v14v46v59v45v15v9v28v21v4v5v51v95v50v3v120M1612.3 561v29v37v28v4v8v43v9v5v1v37v21v30v2v9v6v3v28v4v3v26v12v51v8v3v1v36v116v15v11v29v131v16v9v14v6v64v14v11v12v15v7v12v15v9v16v9v23v23v1v15v3v63v12v7v10v34M1614.6 569v1v40v20v4v13v12v25v65v11v32v44v28v66v37v30v46v19v8v2v12v73v133v72v39v19v124v12v10v13v9v1v2v3v2v18v1v1v5v10v8v40v5M1616.8 554v45v6v5v2v10v26v25v17v30v7v44v2v2v10v19v42v19v17v64v2v13v53v7v13v28v1v7v12v35v52v7v33v11v55v94v75v54v12v26v7v38v36v8v10v78v59M1619 585v21v61v15v3v62v5v73v8v10v11v11v46v37v24v60v70v11v49v64v12v20v31v91v43v73v19v8v6v13v10v1v1v20v18v9v2v6v6v4v16v31v65v12M1621.2 580v11v3v12v3v17v4v6v4v2v5v1v11v33v4v20v96v17v23v90v84v65v16v9v13v39v84v107v28v7v57v27v11v2v35v8v1v3v35v4v5v7v3v43v37v25v32v31M1623.4 618v43v27v4v41v11v41v26v33v21v5v73v1v18v18v9v34v21v46v13v6v31v46v3v27v45v5v124v100v17v11v61v13v6v19v38v27v25v4v6v23M1625.6 614v1v25v18v4v9v7v21v33v36v5v7v34v6v10v30v26v20v9v59v4v38v46v24v41v75v16v10v62v57v15v51v72v39v7v1v15v6v2v21v46v15v2v12v92M1627.8 615v17v12v24v10v30v6v52v89v30v83v17v3v37v68v24v5v46v7v5v41v23v41v40v2v11v7v39v94v19v7v2v4v4v38v60v14v34v33v14v7v12M1630 582v4v28v24v15v19v15v31v10v17v49v7v47v81v11v7v52v40v41v61v11v66v20v38v137v124v15v24v3v4v1v17v35v77v14v7v1v11M1632.2 552v58v31v18v1v2v12v51v39v6v5v16v17v27v8v5v1v39v51v4v11v6v4v4v11v13v44v9v16v4v41v32v86v53v5v72v38v94v5v2v30v7v22v3v12v25v1v15v5v3v6v5v58v2M1634.4 601v15v27v21v14v17v3v1v36v73v107v89v61v19v20v22v22v15v69v31v13v22v8v11v38v12v3v12v1v92v78v14v2v18v6v31v1v3v8v52v13v15v21M1636.6 568v15v28v34v8v23v4v59v111v13v33v81v16v1v119v2v56v60v16v11v35v23v29v85v49v42v8v6v2v40v24v28v8v15v4v6v7v32v40v3v4v17M1638.8 546v8v6v34v5v22v3v25v8v26v30v17v39v15v3v59v30v18v57v28v26v24v28v50v83v23v132v8v1v43v35v25v7v97v14v12v3v3v4v34v4v30v11v52v52M1641 547v12v41v8v1v15v2v10v8v8v7v7v14v17v1v18v10v1v3v65v11v13v47v78v59v9v21v19v8v69v37v107v50v82v48v17v6v58v13v7v10v9v5v9v4v25v4v12v6v39v63M1643.2 613v48v39v4v67v2v23v9v1v7v13v51v8v15v105v32v23v1v18v76v15v10v14v4v25v16v55v135v7v32v43v23v41v8v16v24v24v4v32v31M1645.4 547v27v59v14v8v18v13v14v9v2v4v18v33v16v44v23v6v69v28v62v51v55v74v106v3v18v31v51v52v9v19v32v26v15v9v28v5v3v8v21v3v17v7v4v19v66M1647.6 584v33v41v75v23v28v15v74v16v60v23v18v3v21v16v15v2v11v19v22v32v15v36v58v4v75v2v19v68v24v58v6v41v27v13v6v1v16v12v9v47v84M1649.8 596v66v10v5v81v12v28v37v17v16v22v16v50v19v34v165v1v27v145v20v11v1v50v52v96v2v5v10v9v11v51v7v12M1652 600v4v14v33v66v12v31v1v104v58v87v148v8v20v4v43v37v11v5v28v46v6v3v95v15v25v18v38v1v1v19v1v17v10v1v12v16v2v5v2v82v7M1654.2 546v108v52v15v115v1v17v67v13v44v77v13v136v10v27v14v46v43v2v39v143v41v16v20v8v37v12v8v24v5v9v34M1656.4 619v1v85v6v40v4v26v2v6v52v7v47v2v9v18v45v75v14v4v92v19v18v98v31v24v44v25v23v10v7v29v17v76v12v7v6v6v4v11v5v116v8v8M1658.6 624v5v94v24v15v44v10v7v33v1v12v7v76v5v35v45v3v73v10v16v4v14v23v203v9v32v12v30v23v43v44v12v10v13v31v95M1660.8 585v19v2v26v1v12v20v1v11v18v76v14v26v56v22v47v70v25v26v27v67v9v55v18v66v12v69v36v7v17v2v29v6v20v30v3v8v25v16v8v18v7v23v93v26v1M1663 589v9v23v18v20v20v60v10v18v21v7v12v9v41v48v15v20v17v26v4v59v2v48v4v7v66v4v44v66v35v5v55v129v22v17v9v6v2v22v19v2v5v8v27v15v7v15v53M1665.2 593v13v21v13v1v62v17v22v62v22v3v22v36v53v19v32v41v1v85v111v59v144v7v49v2v34v2v15v24v25v4v10v17v2v3v16v21v33v58M1667.4 578v12v2v6v49v6v39v31v8v83v31v36v10v29v58v47v38v3v8v27v12v7v20v25v3v13v5v112v1v39v11v47v7v115v31v48v15v8v4v2v9v3v17v22v7v9v24M1669.6 623v14v4v2v2v10v1v38v5v9v7v55v4v4v49v3v2v21v96v66v76v14v34v11v56v63v6v128v28v28v1v11v56v15v12v6v1v36v1v15v9v4v13v8v5v21v12v9v16v35v12M1671.8 633v45v33v21v57v8v28v47v80v19v2v38v2v25v31v5v48v14v41v63v4v4v28v47v9v3v18v167v25v9v70v10v35v76M1674 589v2v11v8v58v7v81v23v3v42v1v18v46v39v66v43v15v41v1v199v25v66v2v2v1v45v72v1v2v40v26v12v1v9v2v18v3v20v19v9v29M1676.2 577v27v2v6v4v45v5v44v12v20v14v12v122v39v59v21v21v66v91v9v6v1v12v11v13v46v6v84v7v24v97v41v1v14v30v17v10v12v1v6v20v2v3v55v19v15M1678.4 575v92v48v3v32v23v23v14v66v3v25v15v37v43v32v13v25v12v43v83v2v1v28v11v39v53v2v5v7v113v71v24v23v1v3v1v11v14v9v28v10v27v7v41v20v9v5M1680.6 632v7v4v3v3v72v97v37v2v60v20v44v38v42v11v11v33v6v25v27v18v45v19v33v24v46v8v151v29v4v64v6v2v9v27v9v2v19v19v34M1682.8 591v56v26v33v33v56v34v114v48v22v18v24v21v90v50v63v13v23v16v19v46v26v79v13v12v4v3v15v36v58v15v12v44v27v3v2v15v9M1685 600v18v3v4v10v69v5v48v15v8v53v3v8v7v81v50v14v62v4v19v22v40v33v15v33v5v46v83v30v17v33v100v26v1v4v83v36v43v28v20M1687.2 585v10v21v119v4v26v13v10v25v18v1v34v51v3v31v1v3v58v22v18v42v31v34v18v74v7v30v11v7v22v8v49v7v11v4v90v47v16v27v6v18v9v5v5v56v7v13v50v25M1689.4 599v1v82v6v40v87v26v13v8v21v28v27v76v4v9v8v6v23v8v42v57v10v3v1v28v47v12v40v68v7v4v114v7v15v1v47v3v1v8v6v14v6v20v41v36v3v21v47M1691.6 571v26v6v13v1v78v28v26v60v21v9v28v20v32v61v11v127v37v21v36v23v99v21v11v13v26v20v5v8v32v83v21v5v62v4v3v16v26v29v21v24v1M1693.8 548v15v88v8v74v56v33v9v39v12v18v134v20v14v48v71v50v65v1v25v21v5v21v52v53v1v54v32v4v3v28v4v22v3v8v2v30v16v68M1696 549v53v3v45v17v7v40v21v11v17v20v6v9v43v118v59v7v1v12v24v167v11v25v36v52v3v20v40v18v13v6v81v22v4v26v5v1v5v6v11v51v4v48v6v16v3v5v11M1698.2 616v20v27v6v39v26v30v9v4v15v59v5v50v2v23v7v1v47v19v42v31v34v42v20v28v43v160v61v5v34v10v69v35v3v5v22v48v67v16v6M1700.4 563v27v6v16v31v22v32v1v6v2v2v10v2v92v26v15v27v66v7v15v55v4v68v3v9v19v30v66v31v1v8v33v75v6v81v12v15v24v26v32v9v1v9v22v26v29v30v47M1702.7 545v37v137v47v32v38v24v50v42v39v31v21v16v9v235v36v100v49v30v25v28v2v2v10v24v10v20v15v16v6v2v5M1704.9 587v16v77v68v57v29v50v12v23v2v3v24v21v19v120v35v13v16v46v2v4v25v20v2v3v16v41v39v60v34v13v20v45v1v12v6v12v3v31v16v4v7v23v17v66M1707.1 557v119v3v18v20v4v61v44v6v3v2v3v26v69v7v22v16v65v12v19v149v62v8v13v49v110v30v51v10v32v13v6v31v5v1v1v3v21v5v44M1709.3 554v27v20v77v18v5v3v19v43v10v15v8v38v6v25v12v18v26v48v3v16v13v6v28v9v39v5v52v84v36v43v6v27v72v28v69v28v25v2v24v18v4v41v39v1v20v12v15v6M1711.5 580v90v35v140v13v33v83v54v2v10v10v5v84v23v48v58v26v9v38v86v75v6v25v2v42v25v159M1713.7 626v84v32v95v128v18v11v48v4v14v17v11v40v6v10v52v24v72v10v2v43v114v75v42v11v35v9v11v49v9v4v41v9v1M1715.9 575v8v102v22v286v7v37v27v97v45v33v8v10v39v64v28v27v30v13v108v29v41v123v21M1718.1 631v23v30v34v22v22v9v19v17v90v36v53v13v4v2v50v17v3v8v11v19v57v4v27v45v29v60v20v69v38v8v19v33v23v5v25v22v6v14v1v13v41v52v13v20M1720.3 565v34v26v30v30v1v1v7v1v7v23v10v17v3v41v20v3v61v29v8v36v44v29v15v13v73v75v80v44v11v3v89v19v26v35v10v12v22v14v35v11v12v23v18v17v1v7v24v3v13v15M1722.5 697v21v52v15v91v13v33v3v19v174v42v57v13v35v3v3v211v77v8v10v24v3v9v15v2v3v2v11v25v53M1724.7 570v6v85v17v125v18v1v23v9v140v113v25v26v54v37v19v31v2v8v40v7v22v17v9v100v22v104v5v47v15v13v16v12v5v20v1v7M1726.9 550v4v46v95v24v12v25v8v63v62v17v78v55v2v30v14v18v1v120v3v7v8v8v35v55v23v22v46v10v116v36v91v11v17v1v69v8M1729.1 595v6v49v17v10v14v48v61v7v32v44v27v20v11v39v2v32v51v22v82v93v79v43v45v61v9v36v75v26v8v10v2v20v82M1731.3 557v104v1v53v13v41v17v42v1v18v30v5v93v33v1v39v13v16v25v7v18v8v4v37v19v20v34v19v14v12v8v8v38v126v88v4v18v19v6v23v6v1v38v41v20v21v2M1733.5 579v32v56v22v32v65v149v14v27v46v22v21v13v1v1v48v34v67v116v107v12v18v27v15v17v15v30v3v23v8v11v20v16v15v19v76M1735.7 542v61v21v8v17v12v34v23v17v50v101v14v118v18v10v2v8v23v11v2v41v8v5v57v6v3v27v247v21v20v19v41v3v19v63v43v41M1737.9 542v42v102v30v54v15v41v57v3v1v13v117v106v3v20v62v30v19v20v13v88v104v38v11v9v23v5v12v5v9v5v3v6v96M1740.1 637v52v13v9v68v4v65v2v92v99v19v22v4v179v7v11v16v35v17v79v29v5v86v50v1v8v8v4v4v13v55v3v53M1742.3 572v124v21v95v3v1v1v45v28v14v12v31v28v1v53v13v1v20v1v15v25v15v1v43v9v93v29v10v14v28v17v72v9v21v30v9v2v33v19v37v26v29v30v32v32M1744.5 577v12v48v72v19v81v42v19v15v32v46v49v25v7v139v66v101v37v71v60v8v6v9v42v6v4v11v23v7v60M1746.7 582v85v25v11v24v16v22v45v5v4v17v3v33v5v37v7v67v127v13v1v10v86v82v48v44v2v29v6v15v66v40v16v7v76v2v21v56v11v43v9M1748.9 556v37v22v3v62v42v19v8v6v1v46v40v12v62v41v20v72v11v24v110v50v9v88v29v102v18v49v39v27v7v13v21v18v13v37v17v8v1v3v7v55M1751.1 594v23v2v72v23v4v51v3v32v28v32v17v108v3v17v17v26v48v2v9v41v15v26v40v64v29v1v52v95v19v40v4v23v10v6v34v10v38v6v10v10v16v26v23v27M1753.3 582v48v44v4v2v45v2v18v19v84v26v43v59v4v34v40v45v33v32v43v43v69v2v19v46v78v15v47v8v12v22v22v11v30v14v24v11v17v37v25v37v12M1755.5 566v81v10v76v63v31v10v45v19v20v35v7v19v30v16v80v150v18v14v91v75v19v3v12v42v57v16v11v33v28v76v9v31M1757.7 590v3v7v13v22v45v15v16v24v34v4v14v2v5v58v62v12v2v16v1v71v58v37v7v128v46v22v25v23v71v49v2v83v20v12v30v11v25v11v4v5v25v24v38v9v27M1759.9 554v37v101v12v22v35v6v96v34v54v124v30v19v1v7v5v8v129v35v32v94v10v8v51v22v20v41v34v14v31v14v11v12v12v4v13v33v34v8M1762.1 606v61v18v17v151v3v14v1v15v39v7v3v52v17v56v20v12v30v14v10v29v39v38v45v23v8v3v60v22v11v29v26v56v3v25v9v24v5v8v8v6v4v7v13v12v44v15v10v2v79M1764.3 594v96v16v22v25v11v14v24v49v45v35v52v11v49v61v132v11v27v17v2v27v63v16v18v78v63v1v1v20v25v13v1v1v5v6v14v50v25v5v17v11v9v10M1766.5 542v18v6v22v112v132v10v4v68v141v2v42v33v17v61v14v1v50v13v38v42v19v25v32v58v23v11v31v3v9v62v7v1v27v42v16v17v10M1768.7 556v30v19v25v11v4v6v97v8v31v22v18v2v14v12v38v8v91v30v61v67v79v15v35v17v38v62v15v2v39v2v5v22v99v31v3v38v5v8v40v8v12v28v9M1770.9 549v70v7v38v21v2v61v8v8v2v5v55v5v32v12v1v43v69v10v15v4v76v107v3v11v36v75v13v3v21v60v81v2v41v13v12v35v10v55v39v39M1773.1 627v144v15v46v55v37v102v10v21v14v1v31v22v58v37v28v14v1v56v13v36v47v1v10v9v79v24v21v17v57v3v26v36v25v10v9M1775.3 571v35v35v18v22v34v28v49v8v77v9v16v11v32v36v13v30v5v7v11v31v103v42v16v26v9v32v11v21v30v19v18v42v77v11v5v6v92v40v17v18v3v16v8M1777.5 560v53v36v83v21v19v5v3v20v18v11v89v33v9v10v13v62v33v77v4v95v11v69v76v29v89v26v24v6v2v1v3v20v19v25v7v15v45v9v9v45M1779.7 604v2v36v12v35v5v29v73v28v88v79v22v5v26v5v29v46v19v2v10v101v19v26v20v102v21v20v20v12v15v15v55v4v68v38v30v2v32v4M1781.9 574v55v27v13v13v5v11v50v74v66v30v95v5v61v57v15v13v10v18v11v16v85v9v16v17v2v6v1v69v13v59v79v6v18v5v1v6v22v34v31v67v19M1784.1 568v31v30v21v2v54v33v1v5v64v25v12v110v15v11v2v12v15v100v23v73v19v13v3v7v2v13v22v50v14v18v40v14v27v40v30v38v11v27v6v19v3v10v2v17v71v26v28M1786.3 589v64v33v12v7v9v104v26v7v7v122v54v25v37v26v25v60v27v4v1v24v67v54v159v27v9v30v1v31v4v17v29v8v1v10v10M1788.5 643v18v9v34v11v1v29v3v21v4v26v50v16v41v10v3v41v75v16v28v7v15v47v7v24v9v7v65v5v15v11v8v55v2v29v1v57v22v20v23v14v17v12v41v18v22v7v47v4v9v16v40v16M1790.8 560v25v1v113v50v47v15v13v15v17v57v17v8v1v1v39v46v10v65v28v25v80v3v4v7v1v23v5v10v91v3v11v25v5v8v49v16v19v59v5v10v18v30v10v33v19v52v21v9v18v4M1793 576v38v35v37v6v18v6v9v11v49v2v2v13v36v7v3v28v33v68v100v54v25v89v18v16v19v7v97v21v41v49v1v6v19v6v3v14v5v7v43v4v10v3v7v2v52v18v3M1795.2 552v5v93v26v21v24v74v50v3v6v29v147v4v10v11v15v85v17v19v29v14v1v22v7v67v7v7v26v14v19v52v27v5v17v69v25v27v15v17v6v39v12v10v4v11v32v43M1797.4 547v153v49v1v4v19v41v21v31v12v91v8v77v20v49v12v3v7v22v6v15v14v8v15v6v16v138v34v164v41v18v20v16v38v7M1799.6 559v26v93v1v4v4v33v25v2v46v29v64v38v11v3v76v50v10v7v7v7v103v55v18v5v9v15v66v24v6v24v30v48v13v10v7v38v9v14v23v3v4v39v22v7v126M1801.8 578v149v54v88v89v3v90v2v17v27v40v45v43v135v10v20v14v29v84v17v33v15v41v5v13v4v6v59v3v3v29v4v23v15v29M1804 585v81v62v44v11v32v52v47v39v28v58v1v11v34v8v35v6v22v32v24v42v49v4v12v78v22v121v20v3v35v9v13v5v3v46v21v92v8v14M1806.2 546v121v4v8v99v2v72v1v24v66v26v18v22v43v107v31v18v38v8v28v4v50v18v13v14v76v56v21v21v37v56v37v26v25M1808.4 566v24v40v4v3v1v55v30v21v16v41v22v11v23v7v25v48v16v64v21v12v24v17v65v14v26v18v15v1v25v56v5v14v25v22v11v131v40v6v42v3v8v85v21v5v21M1810.6 541v93v21v28v71v32v22v37v14v10v8v4v12v31v6v93v18v8v21v11v4v25v67v8v21v12v68v75v22v87v27v3v3v17v8v24v55v43v26v7v7v57M1812.8 574v101v19v59v67v11v8v82v87v7v10v56v14v28v27v121v17v68v50v101v28v39v3v16v11v36v12v21v62M1815 567v13v41v34v81v7v4v8v60v38v3v60v6v104v14v30v118v5v40v6v27v15v69v9v36v82v20v5v10v18v82v6v4v6v36v23v46v6v12M1817.2 576v30v77v27v43v33v42v15v12v56v70v12v18v59v51v8v74v24v13v98v50v45v6v18v47v24v13v17v5v13v14v26v33v1v1v2v25v4v4v16v5v10v24v1v14v28M1819.4 654v44v70v7v53v2v22v11v6v74v22v57v2v10v53v56v20v52v84v31v49v44v39v94v14v17v6v12v8v4v1v8v3v2v16v36v15v4v78v11M1821.6 599v96v30v10v2v59v2v43v12v6v16v67v115v5v27v73v51v56v16v132v17v26v20v52v8v25v19v1v1v30v6v15v33v2v4v6M1823.8 547v60v39v13v4v127v20v14v19v15v38v12v13v9v27v92v15v92v11v69v10v3v2v37v101v12v2v7v65v13v32v34v32v16v28v82v55v23v4M1826 550v55v28v8v66v30v3v36v35v38v10v28v26v140v5v21v20v16v62v58v99v8v9v63v1v42v61v22v11v46v9v8v7v14v2v18v39v19v8v23v28v10M1828.2 608v15v40v34v42v25v3v12v97v5v36v40v3v20v48v1v11v29v38v1v8v16v62v15v4v10v9v12v19v1v18v34v90v88v27v6v4v11v1v19v64v22v3v2v40v4v32v9v23v49v11M1830.4 558v64v28v50v22v11v39v4v57v41v6v6v20v24v120v21v86v36v13v13v7v143v49v30v36v22v3v20v26v10v13v31v7v12v16v4v16v51v2v14v24v13v53v3M1832.6 572v18v29v50v14v132v31v6v80v1v9v26v105v79v54v3v66v1v7v45v21v49v12v12v7v31v36v29v22v2v27v52v35v17v10v88v15M1834.8 586v44v289v19v157v54v1v92v49v6v26v4v62v1v3v30v49v5v2v38v23v10v10v8v31v2v10v11v4v12v11v2v27v25v6v80M1837 541v20v95v6v22v10v20v31v8v41v8v90v29v46v42v33v40v5v56v75v48v61v47v60v29v79v22v4v21v6v6v19v3v4v21v21v20v14v7v6v12v18v21v34M1839.2 610v147v48v25v94v5v44v7v57v22v33v22v78v89v5v11v11v48v14v50v73v35v6v1v3v40v5v14v14v15v23v35v5v27v16v22M1841.4 558v35v92v16v90v109v22v4v135v89v121v30v19v64v44v66v7v38v54v2v14v26v36v16v14v20v50v2v12v18M1843.6 570v10v27v13v147v110v1v65v11v28v24v9v36v8v17v76v34v43v130v19v40v83v13v23v19v10v25v2v7v5v4v7v3v12v23v60M1845.8 546v12v92v6v13v39v1v56v17v9v6v4v41v11v15v2v58v29v31v28v20v6v21v9v28v55v55v30v22v4v64v1v84v5v21v35v6v5v30v9v5v46v14v19v13v61v66M1848 744v82v15v18v47v40v16v102v36v38v49v35v9v73v37v34v29v26v40v7v25v33v49v14v9v8v32v7v8v6v50v60v43M1850.2 691v41v19v4v1v57v9v93v11v34v98v3v5v1v24v26v32v20v69v29v20v124v20v15v3v10v15v36v9v16v13v7v18v11v13v11v55v10v15v7v16v67v39M1852.4 564v10v57v65v22v98v62v9v76v30v43v47v8v84v72v38v22v47v2v13v93v89v33v22v4v3v17v1v4v41v1v1v18v29v52v7M1854.6 565v23v113v118v23v21v25v40v4v54v11v9v7v45v7v62v49v28v41v83v17v39v13v45v14v44v4v52v6v12v8v11v6v10v6v19v13v33v6v2v12v3v60v10v22M1856.8 661v11v20v8v109v21v9v12v91v5v59v18v17v8v7v35v1v62v16v53v88v53v31v17v47v5v50v21v19v32v29v4v16v1v17v21v7v13v91M1859 581v43v13v18v60v3v10v59v35v31v76v14v86v16v107v41v25v88v52v5v32v8v11v20v1v14v47v28v3v31v35v73v17v17v9v17v24v33v11M1861.2 628v69v44v95v55v14v144v20v24v108v64v8v103v26v30v28v5v44v36v12v11v10v25v5v1v9v2v21v21v10v7v24v2v39v18v23v20M1863.4 681v1v45v1v125v124v39v1v51v53v70v38v25v4v8v150v26v11v141v15v5v11v2v3v5v9v53v59v16M1865.6 596v263v113v5v80v14v146v194v39v55v14v28v32v88v72v11v50M1867.8 676v92v97v4v78v7v42v23v15v64v43v14v3v11v80v112v20v31v8v12v50v3v32v17v40v15v1v102v25v3v68M1870 728v59v21v36v26v18v39v9v26v27v23v137v36v64v23v27v12v2v95v14v34v47v30v56v61v5v9v5v42v73v21M1872.2 600v56v5v11v8v2v70v109v127v16v211v37v9v49v100v111v7v36v18v10v107v35v20M1874.4 720v61v25v23v8v122v119v15v30v10v78v12v53v29v7v56v48v11v39v107v113v9v17v40v8v3M1876.6 597v88v4v84v105v42v37v6v19v92v1v115v9v90v158v136v6v1v26v52v4M1878.9 650v131v26v54v32v89v9v49v14v30v6v93v37v12v50v3v21v51v68v9v57v31v13v22v62v28v9v27v5v47v2v17v7M1881.1 656v6v52v36v9v48v333v35v114v1v54v3v53v15v6v2v7v6v31v32v10v26v39v6v19v37v34v14v46v55M1883.3 555v8v12v26v4v113v9v103v3v144v31v79v12v92v5v14v2v30v21v28v13v31v23v8v9v17v12v24v5v97v9v14v27v2v17v5v18v11v11v6v42v26v88v24M1885.5 561v68v156v11v3v14v30v9v43v48v19v11v10v55v4v42v4v58v34v20v61v9v27v84v3v13v2v37v16v94v14v1v40v31v16v36v21v17v1v14v60v6v3v13M1887.7 589v52v66v6v2v1v10v38v27v6v7v86v7v15v21v61v10v16v13v76v75v8v33v50v19v4v9v2v55v61v23v4v91v47v8v13v2v13v12v25v10v27v56v10v3v10v1M1889.9 679v157v31v24v2v10v2v82v15v6v35v55v8v7v38v24v7v20v10v13v3v17v10v33v5v10v37v28v16v5v37v29v77v39v39v18v1v3v21v22v40v18v68M1892.1 598v66v52v5v3v102v16v21v10v52v3v13v28v5v18v85v6v16v37v38v46v52v22v131v126v8v5v3v35v16v10v2v1v16v31v36v9v28M1894.3 580v33v2v53v4v15v15v84v21v34v17v34v165v93v11v18v4v20v42v13v51v13v53v44v1v1v16v6v9v36v16v1v12v72v20v24v17v17v24v15v8v1v7v18v1v40M1896.5 623v3v45v6v15v5v19v16v5v16v2v3v12v4v13v21v4v25v37v30v144v59v100v1v65v1v11v38v5v14v47v39v35v1v59v29v1v1v2v12v11v35v11v71v19v16v2v63M1898.7 587v73v94v81v42v20v22v52v23v55v6v14v142v5v48v2v106v3v95v20v53v23v2v3v20v16v4v4v19v4v14v36v114v6M1900.9 556v60v25v48v67v43v13v65v11v17v48v83v8v11v19v12v17v10v13v5v38v15v16v56v66v48v14v23v110v23v5v32v9v7v11v60v21v54v18v28v37M1903.1 622v47v16v22v6v3v60v10v39v3v13v12v58v12v8v24v22v48v1v10v34v37v123v18v42v10v18v4v44v17v22v17v4v111v9v4v49v12v33v22v15v21v5v35v37v22v1M1905.3 579v19v42v12v28v13v18v37v25v8v14v16v37v11v4v13v20v3v11v7v49v3v8v99v5v9v31v83v43v3v18v105v27v14v34v12v34v52v17v40v15v2v54v5v89v32v5M1907.5 560v10v51v4v80v19v21v3v7v24v12v10v14v26v16v34v18v64v112v14v67v37v28v9v30v19v110v7v2v9v91v42v132v42v4v8v8v4v50v14v9v3v19M1909.7 691v44v48v54v48v21v54v8v35v15v24v53v9v28v19v28v50v54v65v28v23v1v40v40v13v39v16v32v41v12v59v9v42v38v20M1911.9 634v31v12v7v26v102v26v32v31v57v78v46v42v65v10v29v5v5v74v6v8v8v3v12v109v3v7v6v2v15v29v20v43v13v20v11v24v9v7v6v19v32v4v37v21v1v23M1914.1 556v91v15v30v22v77v16v38v79v9v20v30v169v46v13v110v37v21v142v28v37v26v44v8v14v107v3v27M1916.3 648v20v11v56v51v58v27v8v17v40v9v16v4v29v43v3v50v8v26v67v30v76v54v21v44v6v82v63v48v17v9v36v1v5v2v7v18v53v26v25v9v21M1918.5 580v39v33v10v53v14v2v4v57v117v82v127v38v59v6v114v68v13v82v15v3v20v3v27v7v4v6v21v2v7v11v2v14v10v3v9v3v4v5v3v24v11v1v21v15v20v5v28v22M1920.7 648v67v11v39v48v24v41v59v16v46v15v37v41v19v77v47v17v22v5v90v13v8v42v28v19v46v14v34v13v2v2v96v3v35v6v13v5v25v12v14M1922.9 614v15v69v3v55v6v41v9v10v2v16v23v40v32v40v28v8v6v23v50v53v28v54v45v32v48v2v9v54v6v81v43v8v19v22v39v16v40M1925.1 569v30v3v52v74v27v8v39v1v31v11v8v25v6v3v16v4v11v51v5v31v11v17v5v29v4v21v29v2v6v20v1v63v42v21v43v67v15v14v28v57v35v23v21v16v10v4v11v1v113v8v1v93M1927.3 554v8v28v70v23v7v181v13v130v27v5v48v35v6v26v1v10v60v55v132v28v59v9v16v64v28v23v23v4v43v78v34M1929.5 603v29v1v24v73v9v2v1v4v19v7v27v29v8v47v21v29v3v35v21v4v6v5v11v12v44v19v29v14v30v11v85v2v103v6v35v37v9v45v8v8v21v43v6v4v40v2v6v12v2v12v29v38v42v7M1931.7 556v41v96v51v18v56v17v2v21v83v53v1v10v22v19v1v19v90v7v96v11v92v16v4v29v56v46v1v18v23v1v1v119v40v50v8v9M1933.9 658v29v7v1v10v10v111v22v8v1v33v45v32v84v69v4v76v5v35v40v27v21v62v90v13v72v65v33v3v119v1v6M1936.1 637v22v34v44v4v19v83v26v7v1v3v18v16v26v16v12v69v39v1v40v104v20v19v27v43v22v47v112v20v3v11v9v14v28v3v6v17v16v1v16v1v2v10v31v39v3v6v2v62v25M1938.3 616v31v9v83v1v49v49v1v17v64v11v23v76v19v35v39v39v64v29v31v7v17v64v58v52v60v16v63v18v4v13v14v16v78v8v78M1940.5 699v14v14v25v18v26v21v41v23v5v50v6v11v18v42v46v20v165v15v2v49v11v94v36v113v4v9v15v1v3v6v9v3v1v12v13v6v17v11v108v24v4v1v22M1942.7 589v20v2v79v43v3v22v108v133v3v1v41v12v36v32v36v20v32v47v48v39v57v169v4v20v44v31v3v25v65v14v14v26M1944.9 644v34v18v65v13v14v5v9v17v8v6v14v27v23v11v32v17v3v49v1v18v4v30v64v145v36v37v19v29v3v1v5v12v64v48v26v15v5v29v8v12v2v1v1v16v4v7v1v27v34v22v13v56M1947.1 563v73v8v8v76v99v1v43v40v27v94v84v23v60v6v1v5v17v75v6v23v33v84v38v19v19v20v21v12v13v17v39v15v20v35v19v19M1949.3 568v23v32v18v30v99v74v2v6v74v12v29v3v49v8v1v16v31v94v47v41v4v28v37v17v46v38v19v56v15v41v10v37v29v9v14v13v3v21v29v28v12v8v18v16v14M1951.5 675v28v23v117v56v50v96v35v69v20v48v27v21v42v31v30v2v5v67v24v22v8v96v4v7v10v40v14v5v8v44v8v20v13v49M1953.7 750v12v48v70v6v11v1v41v5v4v33v25v13v20v129v6v17v20v2v75v33v88v27v25v33v14v22v13v7v32v7v2v6v2v2v9v20v9v6v5v14v9v16v20v32v7v10v30v12v20M1955.9 615v11v37v18v6v176v29v14v46v3v7v29v56v25v1v78v4v12v38v10v36v213v33v45v3v33v40v39v21v12v38v74v13v9M1958.1 600v143v42v17v1v11v16v8v41v39v8v8v13v2v63v103v13v34v5v128v13v42v44v5v141v12v27v16v15v3v14v28v5v8v40v108M1960.3 664v2v16v15v32v10v32v4v39v85v14v36v20v83v11v33v39v33v3v90v58v52v1v35v70v21v85v6v20v26v21v13v1v1v45v33v51M1962.5 657v49v44v19v10v8v59v10v13v21v42v40v4v17v76v48v22v8v23v65v9v83v20v8v29v61v20v15v26v21v8v34v7v1v13v10v6v28v74v3v6v1M1964.7 582v23v17v1v38v18v17v20v15v8v77v4v48v44v17v37v1v28v51v21v68v6v112v64v63v18v131v2v11v6v18v3v33v3v3v5v9v2v6v28v8v21v4v118M1967 581v105v9v3v38v25v64v51v1v46v3v55v12v52v18v33v10v75v21v25v19v19v58v20v1v54v34v53v40v28v10v20v14v25v6v31v15v93v14v17M1969.2 653v22v24v74v30v4v84v30v26v86v1v95v3v103v50v12v46v32v29v28v32v5v17v1v41v16v78v5v8v2v3v25v16v81v34v12v11M1971.4 582v69v1v56v10v87v67v10v16v2v17v14v75v42v39v15v41v3v38v53v65v95v11v41v105v43v30v12v22v13v85v20v25M1973.6 607v8v76v32v71v8v28v19v4v58v29v11v44v28v9v11v54v49v4v9v7v51v89v12v59v31v47v110v24v17v1v40v1v17v35v1v17v8v37v1v29v1M1975.8 574v4v35v26v24v50v65v82v172v43v27v88v70v29v69v73v16v1v7v2v1v43v15v64v9v34v24v5v11v14v10v1v11v15v41v3v80M1978 561v20v49v48v80v115v24v12v75v19v86v10v3v63v10v2v62v23v12v40v16v9v45v15v25v30v25v5v22v27v30v43v8v72v22v2v1v25v19v36v10v16M1980.2 605v5v34v5v141v14v58v26v13v37v40v38v39v3v20v27v56v13v2v30v27v39v114v15v22v1v22v47v27v45v45v16v44v25v25v9v25v2v28v6v9v7v3M1982.4 564v43v7v19v16v71v1v40v27v3v6v72v4v2v42v9v13v17v13v17v22v30v79v23v4v32v4v61v6v66v109v42v24v10v4v52v20v17v2v24v1v9v1v40v51v5v16v43v25v11v20M1984.6 608v76v13v24v21v23v31v23v26v32v1v35v63v26v16v17v49v35v30v56v149v82v24v8v39v84v5v13v17v5v17v33v85v2v26v58M1986.8 670v103v9v3v4v36v11v43v9v69v43v17v55v5v20v42v22v53v62v42v18v21v56v27v14v68v5v17v64v4v13v37v8v22v31v23v34v32v1M1989 627v23v7v4v49v152v15v67v1v4v29v10v66v14v25v22v10v44v51v146v6v28v25v7v65v6v46v7v18v52v2v13v3v15v19v14v9v27v23M1991.2 563v15v72v25v3v9v63v30v63v64v1v34v9v12v4v32v3v14v18v19v1v2v1v14v20v16v5v1v26v16v15v11v18v52v10v30v48v14v17v13v67v16v53v45v68v4v2v10v1v16v16v8v13v17v7v12v16v2v20v3v33v19M1993.4 562v79v5v144v27v5v29v12v37v7v99v4v2v53v132v13v10v65v2v9v16v1v2v2v22v11v89v30v17v56v4v9v9v11v15v45v3v1v15v31v27v88v9v10v1M1995.6 619v5v57v4v36v53v22v30v11v21v27v62v2v4v14v13v7v16v9v154v25v60v42v46v17v151v32v12v51v21v1v2v5v9v6v21v10v132v27v27M1997.8 647v1v83v4v25v9v14v18v20v8v56v16v1v35v87v15v10v109v25v26v54v23v8v48v81v109v2v9v6v19v15v2v4v32v2v15v3v20v12v11v11v2v9v9v71v1v50v12M2000 628v66v16v64v3v8v8v30v13v6v7v76v8v92v39v7v22v23v2v45v27v18v45v42v13v81v5v32v86v24v50v3v1v5v8v43v75v14v18v20v14v15v3v4v15v3M2002.2 614v22v17v70v29v9v9v89v81v9v18v160v41v4v80v49v23v17v24v152v8v34v25v1v2v20v5v5v3v13v16v28v2v41v50v50v3v35M2004.4 576v9v42v10v23v102v7v19v8v11v8v86v15v1v12v73v6v3v20v2v25v13v2v39v4v37v15v71v25v18v32v43v55v55v59v32v14v3v78v7v55v42v3v5v20v4M2006.6 656v2v15v25v30v34v24v12v80v12v65v18v22v44v80v8v13v13v133v31v27v19v22v16v1v4v130v39v6v4v19v6v11v21v10v49v8v50v17v22v22M2008.8 559v104v81v54v102v15v47v96v37v20v4v17v14v15v4v70v55v30v8v100v39v21v19v16v1v20v51v3v4v5v30v10v27v10v4v6v7v3v2v2v16v6v38v19v46v14M2011 564v86v35v90v6v9v56v97v3v90v27v7v40v55v10v5v6v29v8v41v84v14v42v28v6v38v51v17v3v14v2v20v33v29v1v21v5v20v29v17v32M1245.5 1142M1248 1131M1251 1121M1254.5 1112M1258 1106" marker-start="url(#mb)" marker-mid="url(#mb)" marker-end="url(#mb)"/>
</g>
<polygon points="341.0,559.0 370.7,540.1 370.7,574.3" fill="#00f"/>
<polygon points="342.0,934.5 360.0,912.0 356.0,957.0" fill="#00f"/>
<polygon points="341.0,1023.0 355.0,994.0 349.0,1054.0" fill="#00f"/>
<polygon points="341.0,1389.6 370.6,1356.5 370.6,1410.0" fill="#00f"/>
<polygon points="341.0,1557.6 370.6,1533.0 370.6,1566.8" fill="#00f"/>
<polygon points="514.0,651.0 513.7,653.1 512.8,655.0 511.4,656.7 509.5,657.9 507.3,658.7 505.0,659.0 502.7,658.7 500.5,657.9 498.6,656.7 497.2,655.0 496.3,653.1 496.0,651.0 496.3,648.9 497.2,647.0 498.6,645.3 500.5,644.1 502.7,643.3 505.0,643.0 507.3,643.3 509.5,644.1 511.4,645.3 512.8,647.0 513.7,648.9" fill="#00f"/>
<polygon points="495.5,1455.0 495.2,1456.8 494.4,1458.5 493.2,1459.9 491.5,1461.1 489.6,1461.8 487.5,1462.0 485.4,1461.8 483.5,1461.1 481.8,1459.9 480.6,1458.5 479.8,1456.8 479.5,1455.0 479.8,1453.2 480.6,1451.5 481.8,1450.1 483.5,1448.9 485.4,1448.2 487.5,1448.0 489.6,1448.2 491.5,1448.9 493.2,1450.1 494.4,1451.5 495.2,1453.2" fill="#00f"/>
<polygon points="1330.0,1524.0 1393.0,1541.0 1330.0,1552.0" fill="#0f0"/>
<polygon points="1312.0,568.6 1340.0,561.3 1340.0,576.3" fill="#00f"/>
<polygon points="1314.0,680.0 1341.0,676.0 1341.0,691.0" fill="#00f"/>
<polygon points="1314.0,882.0 1341.0,876.0 1341.0,889.0" fill="#00f"/>
<polygon points="1314.0,947.0 1341.0,940.5 1341.0,959.5" fill="#00f"/>
<polygon points="1314.0,966.0 1341.0,962.0 1341.0,983.0" fill="#00f"/>
<polygon points="1316.0,1052.0 1333.5,1044.0 1333.5,1059.0" fill="#00f"/>
<polygon points="1312.0,1182.0 1340.0,1177.0 1340.0,1193.0" fill="#00f"/>
<polygon points="1314.0,1410.0 1341.0,1403.0 1341.0,1423.0" fill="#00f"/>
<polygon points="1312.0,1477.0 1340.0,1469.5 1340.0,1488.5" fill="#00f"/>
<polygon points="1312.0,1591.5 1340.0,1583.8 1340.0,1599.8" fill="#00f"/>
<polygon points="1312.0,1637.0 1340.0,1631.5 1340.0,1643.5" fill="#00f"/>
<polygon points="1312.0,1668.0 1340.0,1662.0 1340.0,1676.0" fill="#00f"/>
<polygon points="1312.0,1693.5 1340.0,1687.8 1340.0,1702.8" fill="#00f"/>
<path d="M315.0 552.0L316.4 552.3L318.3 552.7L320.6 553.2L323.1 553.8L325.6 554.4L328.0 555.0L330.4 555.7L333.1 556.4L335.8 557.2L338.3 557.9L340.5 558.6L342.0 559.0M317.0 914.0L318.4 915.3L320.4 917.2L322.7 919.4L325.2 921.8L327.7 924.0L330.0 926.0L332.3 927.8L334.8 929.6L337.3 931.2L339.6 932.8L341.6 934.1L343.0 935.0M318.0 1049.0L319.3 1047.6L321.1 1045.7L323.2 1043.4L325.5 1040.9L327.8 1038.4L330.0 1036.0L332.3 1033.6L334.7 1030.9L337.2 1028.2L339.6 1025.7L341.6 1023.5L343.0 1022.0M316.0 1368.0L317.3 1369.2L319.0 1370.9L321.1 1372.8L323.4 1375.0L325.7 1377.1L328.0 1379.0L330.4 1380.9L333.0 1383.0L335.8 1385.0L338.3 1386.9L340.5 1388.5L342.0 1389.6M314.0 1560.0L342.0 1557.6M495.0 398.6L496.3 398.6L498.1 398.6L500.2 398.6L502.6 398.5L505.1 398.3L507.7 398.0L510.4 397.4L513.4 396.6L516.6 395.6L519.7 394.8L522.7 394.2L525.4 394.0L527.9 394.4L530.4 395.2L532.8 396.2L534.9 397.4L536.7 398.4L538.0 399.0M495.0 398.6L496.4 399.6L498.2 400.9L500.4 402.5L502.8 404.2L505.3 405.9L507.7 407.5L510.1 408.9L512.6 410.4L515.2 411.8L517.8 413.2L520.4 414.6L523.0 416.0L525.5 417.3L527.9 418.5L530.4 419.8L532.8 421.0L535.3 422.4L538.0 424.0L541.0 426.0L544.4 428.3L547.8 430.8L551.0 433.1L553.7 435.1L555.7 436.5M497.6 504.7L498.3 504.2L499.3 503.5L500.5 502.7L501.9 501.8L503.4 501.1L505.0 500.5L506.8 500.1L508.7 499.8L510.8 499.6L513.0 499.5L515.3 499.4L517.8 499.5L520.7 499.7L524.0 500.1L527.4 500.5L530.7 501.0L533.5 501.4L535.5 501.7M492.6 561.5L494.8 562.0L497.9 562.8L501.6 563.7L505.5 564.6L509.3 565.6L512.8 566.6L516.0 567.6L519.2 568.6L522.4 569.7L525.4 570.7L528.1 571.9L530.5 573.0L532.6 574.3L534.4 575.7L536.0 577.1L537.3 578.5L538.4 579.7L539.3 580.5M480.0 632.0L482.7 634.4L486.3 638.0L490.7 642.1L495.5 646.1L500.4 649.3L505.2 651.2L510.3 651.4L516.0 650.4L521.9 648.6L527.5 646.6L532.1 644.7L535.5 643.6M505.2 651.2L535.5 668.9M492.0 640.0L495.3 644.9L500.2 651.8L505.8 660.0L511.3 668.3L515.6 675.8L517.8 681.5L517.5 685.4L515.2 688.3L511.9 690.3L508.1 691.8L504.8 693.0L502.7 694.0M505.0 651.0L507.3 653.3L510.4 656.6L514.2 660.4L518.1 664.4L521.8 668.4L525.0 672.0L527.7 675.4L530.3 678.9L532.8 682.3L534.9 685.4L536.7 688.1L538.0 690.0M500.2 794.3L533.0 759.0M500.2 808.2L533.0 772.8M497.6 868.8L498.5 868.4L499.7 867.9L501.1 867.2L502.6 866.6L504.3 866.0L506.0 865.5L507.7 865.1L509.5 864.8L511.3 864.5L513.3 864.4L515.5 864.3L517.8 864.5L520.6 865.0L523.9 865.7L527.4 866.6L530.7 867.5L533.5 868.3L535.5 868.8M492.6 949.6L494.8 950.0L497.7 950.5L501.3 951.2L505.1 952.1L509.1 953.2L512.8 954.7L516.7 956.8L521.0 959.6L525.4 962.6L529.5 965.6L533.0 968.1L535.5 969.9M492.6 949.6L494.2 951.0L496.4 952.8L499.0 955.0L501.9 957.4L504.9 959.9L507.7 962.3L510.6 964.9L513.7 967.8L516.9 970.8L520.0 973.6L522.9 975.9L525.4 977.4L527.6 978.0L529.7 977.8L531.6 977.1L533.2 976.2L534.5 975.4L535.5 974.9M495.1 1075.9L497.6 1075.0L501.2 1073.7L505.3 1072.2L509.8 1070.7L514.0 1069.3L517.8 1068.4L521.2 1067.9L524.7 1067.6L528.1 1067.5L531.1 1067.6L533.6 1067.6L535.5 1067.6M500.2 1146.7L501.6 1145.8L503.5 1144.5L505.7 1143.0L508.1 1141.5L510.6 1140.1L512.8 1139.0L514.9 1138.2L517.1 1137.4L519.3 1136.9L521.4 1136.5L523.4 1136.4L525.4 1136.6L527.3 1137.4L529.3 1138.6L531.2 1140.1L533.0 1141.7L534.4 1143.1L535.5 1144.0M497.6 1288.6L498.5 1288.3L499.7 1287.8L501.2 1287.3L502.8 1286.8L504.5 1286.3L506.0 1286.0L507.4 1285.7L508.6 1285.4L509.9 1285.2L511.4 1285.0L513.1 1285.1L515.3 1285.5L518.3 1286.3L522.0 1287.5L526.0 1288.9L529.9 1290.3L533.2 1291.6L535.5 1292.4M492.6 1331.6L538.0 1356.8M492.6 1407.0L535.5 1377.0M500.0 1340.0L502.6 1342.9L506.5 1347.1L510.9 1352.1L515.2 1357.1L518.5 1361.6L520.0 1365.0L519.4 1367.3L517.0 1368.9L513.8 1370.1L510.2 1370.9L507.0 1371.4L505.0 1372.0M487.5 1455.3L490.3 1453.2L494.2 1450.1L498.7 1446.5L503.6 1442.9L508.4 1439.8L512.8 1437.6L517.0 1436.4L521.4 1435.9L525.7 1435.9L529.7 1436.1L533.1 1436.3L535.5 1436.4M487.5 1455.3L490.9 1455.5L495.7 1455.8L501.4 1456.1L507.3 1456.5L513.0 1457.1L517.8 1457.8L522.0 1458.9L526.0 1460.2L529.8 1461.8L533.1 1463.2L535.9 1464.5L538.0 1465.4M492.6 1493.2L497.1 1490.4L503.6 1486.1L511.1 1481.3L518.7 1476.5L525.5 1472.7L530.5 1470.5L533.6 1470.3L535.5 1471.6L536.6 1473.8L537.2 1476.3L537.5 1478.6L538.0 1480.0M487.5 1455.3L489.9 1457.5L493.1 1460.6L497.0 1464.2L501.3 1468.1L505.7 1471.8L510.0 1475.0L514.7 1477.9L520.0 1480.9L525.4 1483.7L530.5 1486.3L534.9 1488.4L538.0 1490.0M500.2 1513.4L536.8 1513.4M500.2 1513.4L536.8 1537.4" fill="none" stroke="#00f" stroke-width="4.0" stroke-linecap="round" stroke-linejoin="round"/>
<path d="M342.0 934.5L401.6 858.7M342.0 934.5L344.7 938.6L348.4 944.2L352.8 950.9L357.5 958.0L362.0 964.9L366.0 971.0L369.7 976.6L373.4 982.3L377.0 987.8L380.3 992.8L383.0 996.9L385.0 1000.0M341.0 1023.0L366.0 971.0M341.0 1023.0L342.3 1028.2L344.1 1035.5L346.2 1044.1L348.6 1053.1L351.2 1061.5L353.7 1068.4L356.3 1073.9L359.1 1078.7L362.0 1082.9L365.1 1086.7L368.2 1090.2L371.3 1093.6L374.6 1096.8L378.0 1099.6L381.6 1102.2L385.1 1104.5L388.5 1106.7L391.6 1108.8L394.6 1110.8L397.7 1112.7L400.6 1114.4L403.2 1115.8L405.4 1117.1L407.0 1118.0M342.0 1557.6L345.2 1559.4L349.6 1562.0L354.8 1565.0L360.5 1568.1L366.4 1570.9L372.0 1573.0L377.9 1574.5L384.6 1575.6L391.4 1576.5L397.7 1577.1L403.1 1577.6L407.0 1578.0M1128.0 633.0L1130.4 633.1L1133.7 633.3L1137.6 633.6L1141.9 633.8L1146.1 633.9L1150.0 634.0L1153.9 633.9L1158.1 633.8L1162.4 633.6L1166.3 633.3L1169.6 633.1L1172.0 633.0M1128.0 925.0L1130.4 925.7L1133.6 926.7L1137.4 927.9L1141.6 929.2L1145.9 930.6L1150.0 932.0L1154.3 933.6L1159.0 935.5L1163.9 937.4L1168.4 939.3L1172.2 940.9L1175.0 942.0" fill="none" stroke="#00f" stroke-width="3.5" stroke-linecap="round" stroke-linejoin="round"/>
<path d="M495.1 1075.9L533.0 1118.9" fill="none" stroke="#00f" stroke-width="5" stroke-linecap="round" stroke-linejoin="round"/>
<path d="M1130.0 540.0L1132.2 539.4L1135.1 538.6L1138.6 537.7L1142.4 536.7L1146.3 535.8L1150.0 535.0L1153.8 534.3L1158.0 533.7L1162.2 533.2L1166.2 532.7L1169.6 532.3L1172.0 532.0M1130.0 905.0L1132.2 904.3L1135.1 903.3L1138.6 902.2L1142.4 901.1L1146.3 900.3L1150.0 900.0L1153.8 900.3L1158.0 901.1L1162.2 902.2L1166.2 903.3L1169.6 904.3L1172.0 905.0" fill="none" stroke="#00f" stroke-width="3.2" stroke-linecap="round" stroke-linejoin="round"/>
<path d="M1372.0 755.0L1373.5 754.3L1375.6 753.3L1378.1 752.2L1380.6 751.0L1383.0 749.9L1385.0 749.0L1386.6 748.3L1388.0 747.7L1389.3 747.1L1390.4 746.7L1391.3 746.3L1392.0 746.0" fill="none" stroke="#0f0" stroke-width="3" stroke-linecap="round" stroke-linejoin="round"/>
<path d="M1242.0 577.0L1242.4 576.4L1242.9 575.6L1243.6 574.6L1244.3 573.6L1245.1 572.7L1246.0 572.0L1246.8 571.5L1247.6 571.1L1248.4 570.8L1249.4 570.5L1250.9 570.3L1253.0 570.0L1255.6 569.7L1258.7 569.4L1262.2 569.2L1266.1 568.9L1270.3 568.7L1275.0 568.6L1280.5 568.5L1286.9 568.5L1293.7 568.5L1300.3 568.5L1306.3 568.6L1311.0 568.6L1314.4 568.6L1316.9 568.6L1318.8 568.6L1320.1 568.6L1321.1 568.6L1322.0 568.6M1236.0 655.0L1236.5 655.6L1237.1 656.4L1237.8 657.3L1238.8 658.3L1240.1 659.5L1242.0 660.6L1244.5 661.9L1247.5 663.3L1250.9 664.7L1254.5 666.2L1258.1 667.6L1261.6 668.8L1265.0 669.9L1268.3 670.8L1271.7 671.7L1275.2 672.5L1278.6 673.2L1282.0 673.9L1285.4 674.5L1288.9 675.1L1292.3 675.6L1295.7 676.0L1299.2 676.5L1302.6 677.0L1306.2 677.5L1310.2 678.1L1314.1 678.7L1317.7 679.2L1320.8 679.7L1323.0 680.0M1246.0 906.7L1247.4 906.0L1249.2 905.0L1251.3 903.9L1253.8 902.6L1256.6 901.3L1259.5 900.0L1262.8 898.7L1266.4 897.4L1270.3 896.0L1274.3 894.6L1278.3 893.2L1282.0 892.0L1285.5 890.9L1289.0 889.8L1292.4 888.8L1295.8 887.8L1299.2 886.9L1302.6 886.0L1306.2 885.2L1310.2 884.4L1314.1 883.6L1317.7 883.0L1320.8 882.4L1323.0 882.0M1246.0 906.7L1246.6 907.5L1247.4 908.6L1248.4 909.9L1249.5 911.3L1250.7 912.7L1252.0 914.0L1253.3 915.1L1254.5 916.2L1255.9 917.3L1257.5 918.4L1259.3 919.6L1261.6 921.0L1264.4 922.5L1267.6 924.3L1271.1 926.1L1274.8 927.9L1278.5 929.7L1282.0 931.3L1285.4 932.8L1288.9 934.2L1292.3 935.5L1295.7 936.8L1299.2 938.2L1302.6 939.5L1306.2 941.0L1310.2 942.5L1314.1 944.1L1317.7 945.6L1320.8 946.8L1323.0 947.7M1200.0 945.7L1204.5 946.0L1210.6 946.3L1217.9 946.7L1225.8 947.2L1233.7 947.9L1241.0 948.7L1247.8 949.8L1254.7 951.0L1261.5 952.5L1268.3 954.0L1275.2 955.5L1282.0 957.0L1289.3 958.6L1297.2 960.3L1305.1 962.0L1312.4 963.6L1318.5 965.0L1323.0 966.0M1261.6 1101.6L1263.8 1098.8L1266.9 1094.8L1270.5 1090.2L1274.4 1085.4L1278.4 1080.8L1282.0 1077.0L1285.4 1074.0L1288.9 1071.3L1292.3 1068.9L1295.7 1066.7L1299.2 1064.6L1302.6 1062.6L1306.1 1060.6L1309.7 1058.7L1313.3 1056.9L1316.8 1055.2L1320.1 1053.7L1323.0 1052.4L1325.6 1051.3L1328.1 1050.3L1330.3 1049.6L1332.2 1048.9L1333.8 1048.4L1335.0 1048.0M1244.0 1150.9L1248.1 1150.3L1253.7 1149.4L1260.4 1148.4L1267.7 1147.3L1275.1 1146.0L1282.0 1144.7L1289.1 1143.1L1297.0 1141.2L1304.9 1139.2L1312.3 1137.3L1318.5 1135.7L1323.0 1134.5M1321.0 1134.0L1330.0 1130.0M1321.0 1135.0L1335.0 1152.0M1244.0 1150.9L1244.6 1151.7L1245.3 1152.7L1246.3 1154.0L1247.4 1155.4L1248.6 1156.7L1250.0 1158.0L1251.5 1159.2L1253.1 1160.3L1254.9 1161.4L1256.9 1162.6L1259.1 1163.7L1261.6 1165.0L1264.5 1166.4L1267.7 1167.8L1271.2 1169.4L1274.9 1170.9L1278.5 1172.3L1282.0 1173.5L1285.4 1174.6L1288.9 1175.5L1292.3 1176.3L1295.7 1177.1L1299.2 1177.8L1302.6 1178.6L1306.2 1179.4L1310.2 1180.2L1314.1 1181.0L1317.7 1181.7L1320.8 1182.3L1323.0 1182.7M1242.0 1370.3L1242.8 1371.1L1243.9 1372.3L1245.3 1373.6L1246.8 1375.1L1248.4 1376.6L1250.0 1378.0L1251.6 1379.4L1253.3 1380.8L1255.0 1382.2L1256.9 1383.6L1259.1 1385.1L1261.6 1386.7L1264.5 1388.4L1267.7 1390.1L1271.2 1392.0L1274.9 1393.8L1278.5 1395.5L1282.0 1397.0L1285.4 1398.4L1288.9 1399.6L1292.3 1400.8L1295.7 1401.8L1299.2 1402.9L1302.6 1404.0L1306.2 1405.2L1310.2 1406.4L1314.1 1407.6L1317.7 1408.7L1320.8 1409.6L1323.0 1410.3M1225.0 1448.0L1226.8 1448.7L1229.3 1449.7L1232.3 1450.8L1235.5 1452.0L1238.8 1453.3L1242.0 1454.4L1245.1 1455.4L1248.3 1456.4L1251.6 1457.5L1254.9 1458.5L1258.3 1459.5L1261.6 1460.6L1265.0 1461.8L1268.3 1463.0L1271.7 1464.3L1275.2 1465.5L1278.6 1466.7L1282.0 1467.8L1285.4 1468.8L1288.9 1469.7L1292.3 1470.5L1295.7 1471.3L1299.2 1472.1L1302.6 1472.9L1306.2 1473.8L1310.2 1474.8L1314.1 1475.8L1317.7 1476.7L1320.8 1477.4L1323.0 1478.0M1242.0 1611.4L1242.8 1610.7L1243.9 1609.7L1245.3 1608.5L1246.8 1607.3L1248.4 1606.1L1250.0 1605.0L1251.6 1604.1L1253.3 1603.2L1255.0 1602.4L1256.9 1601.6L1259.1 1600.8L1261.6 1600.0L1264.5 1599.1L1267.7 1598.2L1271.2 1597.4L1274.9 1596.5L1278.5 1595.7L1282.0 1595.0L1285.4 1594.4L1288.9 1593.9L1292.3 1593.4L1295.7 1593.0L1299.2 1592.6L1302.6 1592.3L1306.2 1592.0L1310.2 1591.9L1314.1 1591.7L1317.7 1591.6L1320.8 1591.6L1323.0 1591.5M1232.0 1640.0L1233.4 1640.7L1235.2 1641.7L1237.4 1642.9L1240.1 1644.1L1243.4 1644.9L1247.2 1645.3L1251.8 1645.1L1257.1 1644.5L1263.0 1643.6L1269.2 1642.6L1275.6 1641.6L1282.0 1640.8L1288.9 1640.1L1296.7 1639.3L1304.7 1638.6L1312.1 1638.0L1318.5 1637.4L1323.0 1637.0M1247.2 1645.3L1250.9 1646.9L1256.0 1649.2L1262.0 1651.9L1268.7 1654.7L1275.4 1657.3L1282.0 1659.6L1288.9 1661.5L1296.7 1663.4L1304.7 1665.1L1312.1 1666.7L1318.5 1667.9L1323.0 1668.9M1242.0 1683.2L1242.8 1683.7L1243.9 1684.4L1245.3 1685.2L1246.8 1686.0L1248.4 1686.8L1250.0 1687.5L1251.6 1688.1L1253.3 1688.6L1255.0 1689.1L1256.9 1689.6L1259.1 1690.0L1261.6 1690.4L1264.3 1690.7L1267.0 1691.0L1270.0 1691.3L1273.3 1691.5L1277.3 1691.8L1282.0 1692.0L1288.1 1692.3L1295.7 1692.6L1303.8 1692.8L1311.6 1693.1L1318.3 1693.3L1323.0 1693.5" fill="none" stroke="#00f" stroke-width="4.2" stroke-linecap="round" stroke-linejoin="round"/>
<path class="ax" d="M161 152.6V2001.8H2011M161 2001.8h19M161 1737.6h19M161 1473.5h19M161 1209.3h19M161 945.1h19M161 680.9h19M161 416.8h19M161 152.6h19M249.0 2001.8v-19M469.3 2001.8v-19M689.5 2001.8v-19M909.8 2001.8v-19M1130.0 2001.8v-19M1350.3 2001.8v-19M1570.5 2001.8v-19M1790.8 2001.8v-19M2011.0 2001.8v-19"/>
<text class="t" x="149.5" y="2016.8" text-anchor="end">0</text>
<text class="t" x="149.5" y="1752.6" text-anchor="end">0.5</text>
<text class="t" x="149.5" y="1488.5" text-anchor="end">1</text>
<text class="t" x="149.5" y="1224.3" text-anchor="end">1.5</text>
<text class="t" x="149.5" y="960.1" text-anchor="end">2</text>
<text class="t" x="149.5" y="695.9" text-anchor="end">2.5</text>
<text class="t" x="149.5" y="431.8" text-anchor="end">3</text>
<text class="t" x="149.5" y="167.6" text-anchor="end">3.5</text>
<text class="t" x="249.0" y="2052" text-anchor="middle">0.96</text>
<text class="t" x="469.3" y="2052" text-anchor="middle">0.965</text>
<text class="t" x="689.5" y="2052" text-anchor="middle">0.97</text>
<text class="t" x="909.8" y="2052" text-anchor="middle">0.975</text>
<text class="t" x="1130.0" y="2052" text-anchor="middle">0.98</text>
<text class="t" x="1350.3" y="2052" text-anchor="middle">0.985</text>
<text class="t" x="1570.5" y="2052" text-anchor="middle">0.99</text>
<text class="t" x="1790.8" y="2052" text-anchor="middle">0.995</text>
<text class="t" x="2011.0" y="2052" text-anchor="middle">1</text>
<text class="m" y="111"><tspan x="1033.8">(</tspan><tspan class="i" x="1070.7" style="font-size:78px">a</tspan><tspan x="1110.5">)</tspan></text>
<text class="m i" x="1087" y="2105.5" style="font-size:80px" text-anchor="middle">r</text>
<text class="m i" style="font-size:80px" transform="translate(65.6 1156) rotate(-90)">x</text>
<text class="m i" style="font-size:60px" textLength="113" lengthAdjust="spacingAndGlyphs" transform="translate(78 1119) rotate(-90)">max</text>
<path class="ax" d="M219.2 2246V4042.5H2015M219.2 4042.5h19M219.2 3842.9h19M219.2 3643.3h19M219.2 3443.7h19M219.2 3244.1h19M219.2 3044.4h19M219.2 2844.8h19M219.2 2645.2h19M219.2 2445.6h19M219.2 2246.0h19M219.2 4042.5v-19M418.7 4042.5v-19M618.3 4042.5v-19M817.8 4042.5v-19M1017.3 4042.5v-19M1216.9 4042.5v-19M1416.4 4042.5v-19M1615.9 4042.5v-19M1815.5 4042.5v-19M2015.0 4042.5v-19"/>
<text class="t" x="207.5" y="4057.5" text-anchor="end">−0.01</text>
<text class="t" x="207.5" y="3857.9" text-anchor="end">0</text>
<text class="t" x="207.5" y="3658.3" text-anchor="end">0.01</text>
<text class="t" x="207.5" y="3458.7" text-anchor="end">0.02</text>
<text class="t" x="207.5" y="3259.1" text-anchor="end">0.03</text>
<text class="t" x="207.5" y="3059.4" text-anchor="end">0.04</text>
<text class="t" x="207.5" y="2859.8" text-anchor="end">0.05</text>
<text class="t" x="207.5" y="2660.2" text-anchor="end">0.06</text>
<text class="t" x="207.5" y="2460.6" text-anchor="end">0.07</text>
<text class="t" x="207.5" y="2261.0" text-anchor="end">0.08</text>
<text class="t" x="219.2" y="4091.5" text-anchor="middle">0.955</text>
<text class="t" x="418.7" y="4091.5" text-anchor="middle">0.96</text>
<text class="t" x="618.3" y="4091.5" text-anchor="middle">0.965</text>
<text class="t" x="817.8" y="4091.5" text-anchor="middle">0.97</text>
<text class="t" x="1017.3" y="4091.5" text-anchor="middle">0.975</text>
<text class="t" x="1216.9" y="4091.5" text-anchor="middle">0.98</text>
<text class="t" x="1416.4" y="4091.5" text-anchor="middle">0.985</text>
<text class="t" x="1615.9" y="4091.5" text-anchor="middle">0.99</text>
<text class="t" x="1815.5" y="4091.5" text-anchor="middle">0.995</text>
<text class="t" x="2015.0" y="4091.5" text-anchor="middle">1</text>
<polyline points="418.0,2678.8 434.1,2637.4 450.3,2621.2 466.4,3245.0 482.5,3892.7 498.7,3824.8 514.8,3824.8 530.9,3659.3 547.0,3781.4 563.2,3822.3 579.3,2788.8 595.4,2581.8 611.6,2860.0 627.7,3688.2 643.8,3841.6 660.0,4014.9 676.1,3883.7 692.2,3432.5 708.4,3295.9 724.5,3736.3 740.6,3870.5 756.8,3677.4 772.9,3793.5 789.0,3882.5 805.1,3318.2 821.3,3137.7 837.4,3082.4 853.5,3297.1 869.7,3880.7 885.8,3420.0 901.9,2424.2 918.1,3849.4 934.2,3246.0 950.3,3155.8 966.5,3066.7 982.6,3114.8 998.7,2823.3 1014.8,2779.9 1031.0,3077.5 1047.1,2907.3 1063.2,2960.2 1079.4,3738.1 1095.5,3240.0 1111.6,3034.2 1127.8,3058.3 1143.9,3125.7 1160.0,3154.6 1176.2,3321.2 1192.3,3093.8 1208.4,3545.6 1224.5,3998.0 1240.7,3761.6 1256.8,3634.0 1272.9,3511.9 1289.1,3566.7 1305.2,3335.0 1321.3,3800.7 1337.5,3853.6 1353.6,4016.1 1369.7,3980.0 1385.9,3901.8 1402.0,3838.6 1418.1,3754.4 1434.3,3402.4 1450.4,2948.2 1466.5,3217.1 1482.6,2805.0 1498.8,2796.6 1514.9,2968.1 1531.0,2553.2 1547.2,2581.5 1563.3,2482.5 1579.4,2587.5 1595.6,2590.6 1611.7,2492.6 1627.8,2558.7 1644.0,2473.4 1660.1,2529.4 1676.2,2442.6 1692.3,2513.8 1708.5,2521.9 1724.6,2447.6 1740.7,2565.8 1756.9,2341.0 1773.0,2467.3 1789.1,2359.2 1805.3,2545.6 1821.4,2509.7 1837.5,2515.8 1853.7,3877.9 1869.8,3862.4 1885.9,3798.8 1902.1,3348.0 1918.2,2411.7 1934.3,2485.0 1950.4,2515.3 1966.6,2449.6 1982.7,2382.4 1998.8,2331.9 2015.0,2361.7" fill="none" stroke="#f00" stroke-width="2.2" stroke-linejoin="miter"/>
<text class="m" y="2206.8"><tspan x="1067.8">(</tspan><tspan class="i" x="1101.3" style="font-size:79px">b</tspan><tspan x="1138.5">)</tspan></text>
<text class="m i" x="1116" y="4143.5" style="font-size:80px" text-anchor="middle">r</text>
<text class="m i" style="font-size:79px" transform="translate(82 3227.5) rotate(-90) scale(1.13 1)">λ</text>
<text class="m i" style="font-size:60px" textLength="120" lengthAdjust="spacingAndGlyphs" transform="translate(94.4 3184) rotate(-90)">max</text>
</svg></body></html>
